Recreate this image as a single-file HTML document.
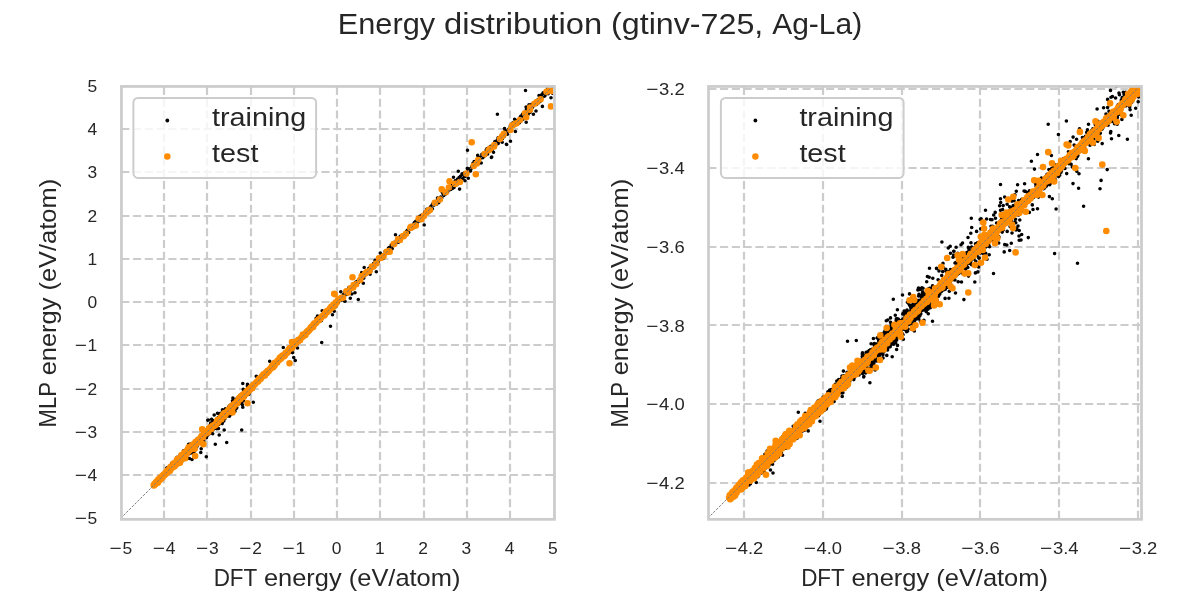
<!DOCTYPE html>
<html lang="en"><head><meta charset="utf-8"><title>Energy distribution (gtinv-725, Ag-La)</title>
<style>html,body{margin:0;padding:0;background:#fff;}body{width:1200px;height:600px;overflow:hidden;font-family:"Liberation Sans",sans-serif;}svg{display:block;will-change:transform;}</style>
</head><body>
<svg width="1200" height="600" viewBox="0 0 1200 600" font-family="Liberation Sans, sans-serif" fill="#262626">
<rect width="1200" height="600" fill="#ffffff"/>
<clipPath id="c1"><rect x="120.75" y="85.75" width="432.50" height="432.50"/></clipPath>
<g clip-path="url(#c1)">
<path d="M164 518.90V85.75M207 518.90V85.75M251 518.90V85.75M294 518.90V85.75M337 518.90V85.75M380 518.90V85.75M424 518.90V85.75M467 518.90V85.75M510 518.90V85.75M121.25 475H554.25M121.25 432H554.25M121.25 389H554.25M121.25 345H554.25M121.25 302H554.25M121.25 259H554.25M121.25 216H554.25M121.25 172H554.25M121.25 129H554.25" stroke="#cccccc" stroke-width="2.2" stroke-dasharray="8.1 3.675" fill="none"/>
<path d="M154.0 485.1h0M154.0 485.2h0M154.0 485.0h0M154.1 485.0h0M154.1 484.9h0M154.1 484.9h0M154.1 485.1h0M154.1 485.1h0M154.1 484.7h0M154.1 484.9h0M154.1 484.8h0M154.2 484.8h0M154.2 484.8h0M154.2 484.7h0M154.2 484.9h0M154.2 484.8h0M154.2 484.8h0M154.2 484.7h0M154.2 484.9h0M154.3 484.9h0M154.3 484.8h0M154.3 484.7h0M154.3 484.9h0M154.3 484.5h0M154.3 484.6h0M154.3 484.6h0M154.3 484.5h0M154.3 484.7h0M154.4 484.7h0M154.4 484.6h0M154.4 484.7h0M154.4 484.5h0M154.4 484.5h0M154.4 484.6h0M154.4 484.6h0M154.5 484.5h0M154.5 484.6h0M154.5 484.6h0M154.5 484.5h0M154.5 484.4h0M154.5 484.6h0M154.5 484.7h0M154.5 484.6h0M154.6 484.6h0M154.6 484.2h0M154.6 484.4h0M154.6 484.4h0M154.6 484.7h0M154.6 484.5h0M154.6 484.7h0M154.6 484.6h0M154.7 484.3h0M154.7 484.2h0M154.7 484.4h0M154.7 484.4h0M154.7 484.6h0M154.7 484.3h0M154.7 484.6h0M154.7 484.3h0M154.8 484.0h0M154.8 484.1h0M154.8 484.1h0M154.8 484.2h0M154.8 484.3h0M154.8 484.4h0M154.8 484.2h0M154.8 484.2h0M154.9 484.3h0M154.9 484.0h0M154.9 484.1h0M154.9 484.0h0M154.9 483.8h0M154.9 484.0h0M154.9 484.0h0M154.9 484.0h0M155.0 483.9h0M155.0 484.2h0M155.0 484.0h0M155.0 484.0h0M155.0 483.9h0M155.0 483.9h0M155.0 484.1h0M155.0 484.2h0M155.1 483.9h0M155.1 483.9h0M155.1 484.0h0M155.1 484.3h0M155.1 483.8h0M155.1 483.6h0M155.1 483.8h0M155.1 484.1h0M155.1 483.6h0M155.2 484.0h0M155.2 483.8h0M155.2 483.6h0M155.2 483.8h0M155.2 483.8h0M155.2 483.6h0M155.2 483.6h0M155.2 483.8h0M155.3 483.9h0M155.3 483.5h0M155.3 483.7h0M155.3 483.6h0M155.3 483.7h0M155.3 483.7h0M155.3 483.5h0M155.3 483.9h0M155.4 483.9h0M155.4 483.6h0M155.4 483.6h0M155.4 483.7h0M155.4 483.9h0M155.4 483.7h0M155.4 483.4h0M155.5 484.0h0M155.5 483.9h0M155.5 483.6h0M155.5 483.9h0M155.5 483.4h0M155.5 483.8h0M155.5 483.2h0M155.5 483.4h0M155.6 483.2h0M155.6 483.3h0M155.6 483.9h0M155.6 483.8h0M155.6 483.3h0M155.6 483.3h0M155.6 483.5h0M155.6 483.8h0M155.6 483.3h0M155.7 483.4h0M155.7 482.9h0M155.7 483.6h0M155.7 483.2h0M155.7 483.4h0M155.7 483.3h0M155.7 483.6h0M155.7 482.8h0M155.8 483.1h0M155.8 483.2h0M155.8 483.2h0M155.8 483.3h0M155.8 483.7h0M155.8 483.5h0M155.8 483.3h0M155.8 483.0h0M155.9 483.2h0M155.9 483.3h0M155.9 482.7h0M155.9 483.4h0M155.9 483.9h0M155.9 483.1h0M155.9 482.9h0M156.0 483.4h0M156.0 483.1h0M156.0 482.8h0M156.0 483.2h0M156.0 483.4h0M156.0 483.2h0M156.0 482.7h0M156.0 482.8h0M156.1 483.7h0M156.1 482.9h0M156.1 483.0h0M156.1 482.8h0M156.1 483.3h0M156.1 483.1h0M156.1 483.1h0M156.1 483.2h0M156.1 482.7h0M156.2 483.4h0M156.2 483.1h0M156.2 482.5h0M156.2 482.9h0M156.2 482.7h0M156.2 483.2h0M156.2 483.2h0M156.3 482.6h0M156.3 482.6h0M156.3 482.7h0M156.3 482.3h0M156.3 482.7h0M156.3 482.9h0M156.3 482.6h0M156.3 482.1h0M156.4 482.6h0M156.4 483.0h0M156.4 482.8h0M156.4 482.2h0M156.4 482.8h0M156.4 482.9h0M156.4 482.4h0M156.4 483.1h0M156.5 482.6h0M156.5 482.5h0M156.5 482.8h0M156.5 482.6h0M156.5 482.8h0M156.5 482.5h0M156.5 482.9h0M156.5 482.7h0M156.6 481.8h0M156.6 482.6h0M156.6 482.8h0M156.6 482.1h0M156.6 482.1h0M156.6 481.9h0M156.6 482.4h0M156.6 482.1h0M156.7 482.9h0M156.7 482.8h0M156.7 482.4h0M156.7 482.5h0M156.7 483.6h0M156.7 482.5h0M156.7 482.7h0M156.7 482.4h0M156.8 481.9h0M156.8 482.5h0M156.8 482.0h0M156.8 481.6h0M156.8 482.5h0M156.8 481.7h0M156.8 482.2h0M156.8 481.7h0M156.9 482.2h0M156.9 482.2h0M156.9 483.0h0M156.9 482.5h0M156.9 482.7h0M156.9 482.8h0M156.9 482.6h0M156.9 482.4h0M157.0 481.9h0M157.0 481.5h0M157.0 481.8h0M157.0 482.1h0M157.0 482.3h0M157.0 481.4h0M157.0 482.2h0M157.0 481.6h0M157.0 481.4h0M157.1 481.6h0M157.1 482.0h0M157.1 481.7h0M157.1 481.8h0M157.1 481.3h0M157.1 482.0h0M157.1 481.7h0M157.2 482.1h0M157.2 481.7h0M157.2 482.0h0M157.2 482.1h0M157.2 481.6h0M157.2 481.7h0M157.2 482.1h0M157.2 482.2h0M157.3 481.3h0M157.3 482.6h0M157.3 481.8h0M157.3 481.5h0M157.3 481.3h0M157.3 481.7h0M157.3 481.2h0M157.3 481.4h0M157.3 482.2h0M157.4 481.3h0M157.4 481.6h0M157.4 481.8h0M157.4 482.0h0M157.4 481.6h0M157.4 481.5h0M157.4 481.7h0M157.5 481.7h0M157.5 482.4h0M157.5 481.6h0M157.5 481.2h0M157.5 481.5h0M157.5 482.3h0M157.5 480.9h0M157.5 481.0h0M157.5 481.4h0M157.6 480.8h0M157.6 482.5h0M157.6 480.8h0M157.6 481.3h0M157.6 481.2h0M157.6 481.3h0M157.6 480.5h0M157.7 480.7h0M157.7 481.1h0M157.7 481.6h0M157.7 481.6h0M157.7 482.0h0M157.7 481.3h0M157.7 481.4h0M157.7 481.5h0M157.7 481.4h0M157.8 481.2h0M157.8 480.6h0M157.8 481.6h0M157.8 480.6h0M157.8 481.4h0M157.8 481.3h0M157.8 481.3h0M157.8 480.8h0M157.9 481.0h0M157.9 481.2h0M157.9 480.1h0M157.9 481.6h0M157.9 480.3h0M157.9 481.4h0M157.9 481.4h0M157.9 481.3h0M158.0 481.0h0M158.0 481.4h0M158.0 480.8h0M158.0 480.6h0M158.0 481.0h0M158.0 480.4h0M158.0 480.8h0M158.1 481.5h0M158.1 481.0h0M158.1 481.6h0M158.1 481.4h0M158.1 480.8h0M158.1 481.7h0M158.1 480.3h0M158.1 480.7h0M158.1 480.9h0M158.2 480.5h0M158.2 480.1h0M158.2 480.5h0M158.2 481.0h0M158.2 480.9h0M158.2 481.1h0M158.2 480.9h0M158.2 481.0h0M158.3 480.3h0M158.3 480.4h0M158.3 481.0h0M158.3 480.6h0M158.3 480.9h0M158.3 480.4h0M158.3 481.1h0M158.3 481.1h0M158.4 481.1h0M158.4 480.8h0M158.4 480.2h0M158.4 480.1h0M158.4 480.6h0M158.4 481.3h0M158.4 480.5h0M158.5 480.0h0M158.5 480.4h0M158.5 481.2h0M158.5 481.6h0M158.5 480.3h0M158.5 481.0h0M158.5 479.9h0M158.5 481.1h0M158.5 480.2h0M158.6 480.1h0M158.6 481.0h0M158.6 480.5h0M158.6 480.3h0M158.6 480.1h0M158.6 480.5h0M158.6 480.2h0M158.7 481.2h0M158.7 480.6h0M158.7 480.7h0M158.7 479.8h0M158.7 479.8h0M158.7 480.9h0M158.7 479.7h0M158.7 480.1h0M158.8 479.5h0M158.8 480.7h0M158.8 480.0h0M158.8 479.8h0M158.8 480.5h0M158.8 480.1h0M158.8 479.6h0M158.8 480.0h0M158.9 480.2h0M158.9 480.0h0M158.9 479.8h0M158.9 480.9h0M158.9 480.2h0M158.9 479.2h0M158.9 479.7h0M158.9 480.8h0M158.9 480.0h0M159.0 480.4h0M159.0 480.5h0M159.0 479.8h0M159.0 479.5h0M159.0 480.5h0M159.0 479.4h0M159.0 480.5h0M159.0 479.7h0M159.1 480.2h0M159.1 479.8h0M159.1 479.6h0M159.1 479.8h0M159.1 479.4h0M159.1 480.8h0M159.1 480.1h0M159.1 479.2h0M159.2 480.5h0M159.2 479.8h0M159.2 480.2h0M159.2 480.3h0M159.2 479.9h0M159.2 480.2h0M159.2 479.7h0M159.3 479.9h0M159.3 479.0h0M159.3 480.3h0M159.3 479.8h0M159.3 479.9h0M159.3 479.4h0M159.3 479.8h0M159.3 479.8h0M159.3 479.9h0M159.4 479.6h0M159.4 479.3h0M159.4 479.0h0M159.4 480.3h0M159.4 479.2h0M159.4 479.1h0M159.4 479.0h0M159.5 480.3h0M159.5 480.0h0M159.5 479.6h0M159.5 479.0h0M159.5 478.8h0M159.5 479.2h0M159.5 479.8h0M159.5 479.0h0M159.6 479.0h0M159.6 479.1h0M159.6 479.3h0M159.6 480.6h0M159.6 479.3h0M159.6 478.6h0M159.6 479.3h0M159.6 479.0h0M159.7 479.5h0M159.7 479.4h0M159.7 478.5h0M159.7 479.3h0M159.7 479.1h0M159.7 478.8h0M159.7 479.3h0M159.7 479.3h0M159.7 479.7h0M159.8 479.1h0M159.8 478.8h0M159.8 479.5h0M159.8 478.5h0M159.8 479.1h0M159.8 478.8h0M159.8 479.4h0M159.8 479.6h0M159.9 479.8h0M159.9 479.5h0M159.9 479.2h0M159.9 479.0h0M159.9 479.6h0M159.9 478.5h0M159.9 479.3h0M159.9 479.8h0M160.0 478.8h0M160.0 479.3h0M160.0 479.6h0M160.0 479.0h0M160.0 478.4h0M160.0 478.2h0M160.0 478.8h0M160.0 479.2h0M160.1 479.5h0M160.1 479.6h0M160.1 478.4h0M160.1 479.7h0M160.1 478.5h0M160.1 479.0h0M160.1 478.3h0M160.1 478.6h0M160.2 478.6h0M160.2 478.4h0M160.2 479.2h0M160.2 479.4h0M160.2 479.3h0M160.2 478.9h0M160.2 479.4h0M160.2 478.7h0M160.3 478.9h0M160.3 478.5h0M160.3 478.7h0M160.3 478.8h0M160.3 477.9h0M160.3 479.3h0M160.3 478.4h0M160.4 478.4h0M160.4 479.0h0M160.4 479.2h0M160.4 478.5h0M160.4 478.9h0M160.4 479.0h0M160.4 478.9h0M160.4 478.9h0M160.5 478.3h0M160.5 478.7h0M160.5 478.9h0M160.5 478.0h0M160.5 478.7h0M160.5 478.9h0M160.5 478.3h0M160.5 477.9h0M160.5 478.7h0M160.6 478.3h0M160.6 477.9h0M160.6 478.5h0M160.6 478.2h0M160.6 478.5h0M160.6 478.4h0M160.6 478.3h0M160.6 478.7h0M160.7 478.0h0M160.7 478.8h0M160.7 478.2h0M160.7 478.4h0M160.7 478.5h0M160.7 478.5h0M160.7 478.0h0M160.7 477.4h0M160.8 478.1h0M160.8 478.0h0M160.8 478.5h0M160.8 478.6h0M160.8 477.5h0M160.8 478.5h0M160.8 478.2h0M160.8 478.5h0M160.9 477.9h0M160.9 477.7h0M160.9 477.6h0M160.9 478.2h0M160.9 477.4h0M160.9 477.9h0M160.9 478.4h0M160.9 478.1h0M161.0 478.0h0M161.0 477.6h0M161.0 477.6h0M161.0 478.6h0M161.0 477.8h0M161.0 478.0h0M161.0 478.7h0M161.0 478.7h0M161.1 478.1h0M161.1 477.6h0M161.1 477.3h0M161.1 477.5h0M161.1 477.6h0M161.1 477.2h0M161.1 478.1h0M161.1 478.3h0M161.2 478.0h0M161.2 478.3h0M161.2 478.3h0M161.2 478.7h0M161.2 478.2h0M161.2 478.6h0M161.2 477.5h0M161.2 477.6h0M161.3 477.2h0M161.3 478.0h0M161.3 477.7h0M161.3 477.5h0M161.3 478.0h0M161.3 477.3h0M161.3 477.1h0M161.3 477.7h0M161.4 477.6h0M161.4 478.1h0M161.4 476.9h0M161.4 477.6h0M161.4 478.4h0M161.4 477.5h0M161.4 477.9h0M161.4 477.4h0M161.5 477.7h0M161.5 477.4h0M161.5 477.2h0M161.5 476.9h0M161.5 477.5h0M161.5 478.4h0M161.5 477.8h0M161.5 476.9h0M161.6 477.4h0M161.6 477.5h0M161.6 477.7h0M161.6 477.5h0M161.6 477.3h0M161.6 477.5h0M161.6 477.0h0M161.6 477.9h0M161.7 477.7h0M161.7 477.4h0M161.7 477.9h0M161.7 477.2h0M161.7 477.3h0M161.7 477.9h0M161.7 477.3h0M161.7 476.8h0M161.8 477.7h0M161.8 478.0h0M161.8 476.9h0M161.8 477.6h0M161.8 476.7h0M161.8 477.1h0M161.8 477.1h0M161.8 477.3h0M161.9 476.8h0M161.9 476.6h0M161.9 476.6h0M161.9 477.3h0M161.9 476.8h0M161.9 476.9h0M161.9 477.0h0M161.9 477.2h0M162.0 477.1h0M162.0 477.8h0M162.0 477.9h0M162.0 477.6h0M162.0 476.6h0M162.0 476.9h0M162.0 477.7h0M162.0 477.1h0M162.1 476.5h0M162.1 476.0h0M162.1 477.1h0M162.1 476.5h0M162.1 477.4h0M162.1 477.6h0M162.1 477.2h0M162.2 477.5h0M162.2 476.2h0M162.2 477.3h0M162.2 476.5h0M162.2 476.5h0M162.2 476.7h0M162.2 476.9h0M162.2 477.4h0M162.2 476.6h0M162.3 477.1h0M162.3 476.8h0M162.3 477.4h0M162.3 476.7h0M162.3 476.8h0M162.3 476.8h0M162.3 476.4h0M162.3 476.3h0M162.4 476.7h0M162.4 476.3h0M162.4 476.9h0M162.4 477.9h0M162.4 476.7h0M162.4 476.4h0M162.4 476.7h0M162.4 477.3h0M162.5 476.2h0M162.5 476.4h0M162.5 476.8h0M162.5 476.4h0M162.5 476.8h0M162.5 477.0h0M162.5 477.0h0M162.5 475.7h0M162.6 476.6h0M162.6 476.4h0M162.6 476.2h0M162.6 475.6h0M162.6 477.0h0M162.6 476.8h0M162.6 476.1h0M162.6 476.2h0M162.7 475.9h0M162.7 476.8h0M162.7 476.4h0M162.7 476.6h0M162.7 476.8h0M162.7 476.4h0M162.7 475.8h0M162.7 476.2h0M162.8 476.2h0M162.8 475.9h0M162.8 476.0h0M162.8 476.5h0M162.8 476.1h0M162.8 476.5h0M162.8 475.5h0M162.8 476.3h0M162.9 475.5h0M162.9 476.4h0M162.9 475.8h0M162.9 477.0h0M162.9 475.8h0M162.9 476.6h0M162.9 476.4h0M162.9 475.5h0M163.0 475.6h0M163.0 476.0h0M163.0 476.2h0M163.0 475.7h0M163.0 475.5h0M163.0 476.4h0M163.0 475.4h0M163.0 475.5h0M163.1 475.7h0M163.1 476.4h0M163.1 476.3h0M163.1 476.3h0M163.1 475.9h0M163.1 476.5h0M163.1 475.9h0M163.1 476.4h0M163.2 475.6h0M163.2 475.8h0M163.2 475.7h0M163.2 475.6h0M163.2 475.4h0M163.2 475.8h0M163.2 476.0h0M163.2 476.0h0M163.3 475.7h0M163.3 476.3h0M163.3 475.2h0M163.3 475.2h0M163.3 476.3h0M163.3 475.9h0M163.3 476.1h0M163.3 475.6h0M163.4 475.9h0M163.4 475.3h0M163.4 475.9h0M163.4 474.8h0M163.4 476.1h0M163.4 475.8h0M163.4 475.2h0M163.4 475.5h0M163.5 474.9h0M163.5 475.1h0M163.5 476.0h0M163.5 474.7h0M163.5 475.4h0M163.5 475.5h0M163.5 475.2h0M163.5 476.3h0M163.6 475.5h0M163.6 475.7h0M163.6 475.7h0M163.6 475.1h0M163.6 474.7h0M163.6 476.1h0M163.6 474.8h0M163.6 475.7h0M163.7 475.6h0M163.7 475.5h0M163.7 474.6h0M163.7 476.9h0M163.7 475.2h0M163.7 475.6h0M163.7 475.8h0M163.7 475.9h0M163.8 475.1h0M163.8 475.4h0M163.8 475.0h0M163.8 474.8h0M163.8 475.8h0M163.8 475.3h0M163.8 475.0h0M163.8 475.2h0M163.9 474.8h0M163.9 475.2h0M163.9 475.2h0M163.9 475.4h0M163.9 474.5h0M163.9 475.4h0M163.9 475.8h0M163.9 475.2h0M164.0 475.5h0M164.0 475.4h0M164.0 475.3h0M164.0 474.7h0M164.0 475.2h0M164.0 475.2h0M164.0 474.2h0M164.0 474.9h0M164.1 475.3h0M164.1 475.0h0M164.1 475.4h0M164.1 474.9h0M164.1 474.6h0M164.1 475.7h0M164.2 475.6h0M164.2 475.0h0M164.2 474.2h0M164.2 475.3h0M164.2 474.3h0M164.2 475.4h0M164.2 474.5h0M164.3 475.0h0M164.3 475.1h0M164.3 475.6h0M164.3 474.4h0M164.3 474.8h0M164.3 474.9h0M164.3 474.7h0M164.4 475.6h0M164.4 474.4h0M164.4 475.0h0M164.4 475.5h0M164.4 474.5h0M164.4 475.4h0M164.4 474.7h0M164.5 474.3h0M164.5 474.4h0M164.5 475.2h0M164.5 474.9h0M164.5 474.2h0M164.5 474.2h0M164.5 474.6h0M164.6 473.7h0M164.6 474.0h0M164.6 474.0h0M164.6 474.5h0M164.6 473.7h0M164.6 474.2h0M164.6 474.1h0M164.7 474.2h0M164.7 474.2h0M164.7 474.3h0M164.7 474.8h0M164.7 474.7h0M164.7 474.7h0M164.7 473.9h0M164.8 473.5h0M164.8 474.1h0M164.8 473.9h0M164.8 473.9h0M164.8 474.2h0M164.8 474.3h0M164.8 474.0h0M164.9 473.9h0M164.9 474.6h0M164.9 474.2h0M164.9 474.5h0M164.9 474.7h0M164.9 474.3h0M164.9 473.4h0M165.0 473.7h0M165.0 474.0h0M165.0 474.1h0M165.0 474.0h0M165.0 474.1h0M165.0 474.3h0M165.1 474.2h0M165.1 474.6h0M165.1 473.8h0M165.1 473.8h0M165.1 473.9h0M165.1 474.0h0M165.1 473.4h0M165.1 474.3h0M165.2 473.7h0M165.2 474.3h0M165.2 473.7h0M165.2 473.9h0M165.2 473.4h0M165.2 474.7h0M165.2 474.2h0M165.3 473.6h0M165.3 474.0h0M165.3 473.5h0M165.3 473.9h0M165.3 474.2h0M165.3 474.0h0M165.3 473.6h0M165.4 473.5h0M165.4 472.8h0M165.4 473.7h0M165.4 473.1h0M165.4 472.9h0M165.4 473.3h0M165.5 473.9h0M165.5 473.5h0M165.5 474.1h0M165.5 473.0h0M165.5 474.3h0M165.5 473.5h0M165.5 472.4h0M165.5 474.0h0M165.6 473.2h0M165.6 473.0h0M165.6 473.6h0M165.6 473.2h0M165.6 473.8h0M165.6 473.9h0M165.7 473.0h0M165.7 473.7h0M165.7 473.1h0M165.7 472.9h0M165.7 473.6h0M165.7 473.5h0M165.7 473.7h0M165.7 472.3h0M165.8 473.6h0M165.8 473.7h0M165.8 473.2h0M165.8 473.6h0M165.8 473.4h0M165.8 473.2h0M165.9 472.7h0M165.9 473.4h0M165.9 473.1h0M165.9 473.0h0M165.9 472.8h0M165.9 473.1h0M165.9 473.7h0M166.0 473.1h0M166.0 473.7h0M166.0 472.6h0M166.0 473.7h0M166.0 473.5h0M166.0 472.7h0M166.0 472.8h0M166.1 472.2h0M166.1 473.6h0M166.1 472.7h0M166.1 472.5h0M166.1 471.9h0M166.1 474.1h0M166.1 472.7h0M166.2 472.3h0M166.2 472.5h0M166.2 472.2h0M166.2 473.7h0M166.2 472.9h0M166.2 473.0h0M166.2 472.8h0M166.3 472.8h0M166.3 471.4h0M166.3 472.6h0M166.3 471.9h0M166.3 472.8h0M166.3 472.4h0M166.3 473.3h0M166.4 472.9h0M166.4 472.9h0M166.4 472.6h0M166.4 472.5h0M166.4 472.6h0M166.4 473.1h0M166.4 472.0h0M166.5 473.0h0M166.5 472.3h0M166.5 472.2h0M166.5 472.0h0M166.5 472.3h0M166.5 473.0h0M166.5 473.2h0M166.6 472.3h0M166.6 472.4h0M166.6 472.5h0M166.6 472.7h0M166.6 472.6h0M166.6 472.6h0M166.6 472.6h0M166.7 471.5h0M166.7 472.8h0M166.7 473.1h0M166.7 472.5h0M166.7 472.3h0M166.7 471.9h0M166.8 472.4h0M166.8 472.4h0M166.8 472.1h0M166.8 472.4h0M166.8 472.6h0M166.8 472.7h0M166.8 472.5h0M166.9 471.7h0M166.9 472.5h0M166.9 472.9h0M166.9 472.1h0M166.9 472.1h0M166.9 471.9h0M166.9 471.6h0M166.9 472.5h0M167.0 472.1h0M167.0 471.7h0M167.0 471.6h0M167.0 472.1h0M167.0 472.1h0M167.0 472.3h0M167.1 471.8h0M167.1 471.0h0M167.1 471.8h0M167.1 471.7h0M167.1 471.1h0M167.1 472.0h0M167.1 471.6h0M167.1 471.7h0M167.2 472.1h0M167.2 471.3h0M167.2 471.7h0M167.2 471.7h0M167.2 471.2h0M167.2 471.9h0M167.3 471.8h0M167.3 471.6h0M167.3 471.0h0M167.3 471.3h0M167.3 471.6h0M167.3 471.4h0M167.3 470.7h0M167.3 472.0h0M167.4 472.2h0M167.4 472.0h0M167.4 472.3h0M167.4 471.8h0M167.4 471.4h0M167.4 471.4h0M167.5 471.7h0M167.5 471.0h0M167.5 471.5h0M167.5 472.0h0M167.5 471.7h0M167.5 471.6h0M167.5 470.7h0M167.6 471.7h0M167.6 470.8h0M167.6 471.5h0M167.6 471.7h0M167.6 470.9h0M167.6 471.6h0M167.6 471.5h0M167.7 471.6h0M167.7 470.9h0M167.7 471.1h0M167.7 471.1h0M167.7 471.6h0M167.7 471.4h0M167.7 471.7h0M167.7 471.3h0M167.8 471.3h0M167.8 471.4h0M167.8 470.5h0M167.8 471.4h0M167.8 470.8h0M167.8 471.1h0M167.9 470.9h0M167.9 471.4h0M167.9 471.3h0M167.9 470.7h0M167.9 471.3h0M167.9 470.9h0M167.9 471.0h0M168.0 471.0h0M168.0 471.8h0M168.0 471.0h0M168.0 471.3h0M168.0 470.8h0M168.0 470.8h0M168.0 471.1h0M168.1 470.5h0M168.1 470.8h0M168.1 471.6h0M168.1 470.3h0M168.1 471.5h0M168.1 471.5h0M168.1 471.5h0M168.2 470.2h0M168.2 471.3h0M168.2 470.7h0M168.2 470.7h0M168.2 470.4h0M168.2 471.0h0M168.2 470.5h0M168.3 470.5h0M168.3 470.8h0M168.3 470.2h0M168.3 470.5h0M168.3 471.4h0M168.3 469.8h0M168.3 469.5h0M168.3 469.7h0M168.4 469.4h0M168.4 471.6h0M168.4 471.4h0M168.4 470.7h0M168.4 470.5h0M168.4 469.5h0M168.4 470.9h0M168.4 469.8h0M168.4 470.4h0M168.4 470.6h0M168.5 470.2h0M168.5 470.5h0M168.5 470.7h0M168.5 472.0h0M168.5 471.0h0M168.5 469.8h0M168.5 472.0h0M168.5 469.8h0M168.5 470.5h0M168.5 471.2h0M168.6 471.4h0M168.6 470.7h0M168.6 470.3h0M168.6 470.0h0M168.6 470.2h0M168.6 470.4h0M168.6 470.5h0M168.6 470.2h0M168.6 470.5h0M168.6 470.7h0M168.6 470.7h0M168.7 470.5h0M168.7 470.3h0M168.7 470.7h0M168.7 470.6h0M168.7 471.6h0M168.7 470.3h0M168.7 470.0h0M168.7 470.5h0M168.7 470.4h0M168.7 470.9h0M168.8 469.3h0M168.8 470.9h0M168.8 470.6h0M168.8 470.7h0M168.8 469.5h0M168.8 471.1h0M168.8 470.2h0M168.8 470.6h0M168.8 470.0h0M168.8 469.7h0M168.9 470.2h0M168.9 470.6h0M168.9 469.9h0M168.9 470.3h0M168.9 470.4h0M168.9 471.3h0M168.9 470.1h0M168.9 471.3h0M168.9 471.2h0M168.9 470.3h0M169.0 469.3h0M169.0 471.1h0M169.0 470.2h0M169.0 469.5h0M169.0 469.4h0M169.0 469.7h0M169.0 469.6h0M169.0 471.1h0M169.0 469.2h0M169.0 470.0h0M169.1 469.6h0M169.1 469.9h0M169.1 469.6h0M169.1 470.3h0M169.1 469.3h0M169.1 469.1h0M169.1 470.0h0M169.1 469.2h0M169.1 469.6h0M169.1 470.2h0M169.1 469.4h0M169.2 469.4h0M169.2 470.1h0M169.2 472.7h0M169.2 470.1h0M169.2 470.6h0M169.2 469.8h0M169.2 471.0h0M169.2 469.0h0M169.2 470.2h0M169.2 470.6h0M169.3 469.5h0M169.3 470.5h0M169.3 469.9h0M169.3 470.3h0M169.3 469.8h0M169.3 468.4h0M169.3 469.7h0M169.3 470.0h0M169.3 470.2h0M169.3 470.7h0M169.4 469.4h0M169.4 470.3h0M169.4 469.4h0M169.4 470.9h0M169.4 470.0h0M169.4 469.8h0M169.4 469.6h0M169.4 470.3h0M169.4 469.5h0M169.4 469.9h0M169.5 469.0h0M169.5 470.9h0M169.5 470.5h0M169.5 469.2h0M169.5 469.9h0M169.5 470.4h0M169.5 469.2h0M169.5 469.2h0M169.5 469.8h0M169.5 470.0h0M169.5 467.8h0M169.6 469.7h0M169.6 469.5h0M169.6 469.4h0M169.6 470.6h0M169.6 470.6h0M169.6 470.4h0M169.6 469.9h0M169.6 469.4h0M169.6 468.5h0M169.6 469.2h0M169.7 468.3h0M169.7 469.7h0M169.7 469.2h0M169.7 469.4h0M169.7 470.0h0M169.7 469.9h0M169.7 469.4h0M169.7 469.0h0M169.7 468.9h0M169.7 471.2h0M169.7 469.4h0M169.8 468.5h0M169.8 470.2h0M169.8 469.0h0M169.8 469.3h0M169.8 468.5h0M169.8 469.9h0M169.8 469.2h0M169.8 469.1h0M169.8 468.7h0M169.9 469.3h0M169.9 469.4h0M169.9 468.9h0M169.9 470.2h0M169.9 468.4h0M169.9 469.2h0M169.9 469.0h0M169.9 470.2h0M169.9 470.3h0M169.9 469.6h0M169.9 468.4h0M170.0 467.7h0M170.0 468.4h0M170.0 469.1h0M170.0 470.1h0M170.0 468.5h0M170.0 469.4h0M170.0 469.1h0M170.0 468.8h0M170.0 469.1h0M170.0 467.7h0M170.1 469.0h0M170.1 468.8h0M170.1 468.5h0M170.1 468.7h0M170.1 469.4h0M170.1 469.1h0M170.1 468.8h0M170.1 469.7h0M170.1 469.3h0M170.1 468.0h0M170.1 468.6h0M170.2 468.1h0M170.2 468.7h0M170.2 469.3h0M170.2 469.0h0M170.2 468.8h0M170.2 470.2h0M170.2 469.5h0M170.2 469.6h0M170.2 469.4h0M170.2 468.3h0M170.3 467.9h0M170.3 468.5h0M170.3 469.0h0M170.3 468.6h0M170.3 469.1h0M170.3 468.4h0M170.3 468.0h0M170.3 468.8h0M170.3 468.2h0M170.3 468.8h0M170.4 470.0h0M170.4 468.2h0M170.4 468.5h0M170.4 468.0h0M170.4 468.7h0M170.4 468.1h0M170.4 469.4h0M170.4 467.8h0M170.4 469.3h0M170.4 469.0h0M170.5 468.8h0M170.5 468.9h0M170.5 468.9h0M170.5 468.8h0M170.5 468.7h0M170.5 467.3h0M170.5 469.1h0M170.5 468.6h0M170.5 468.0h0M170.5 467.7h0M170.5 468.8h0M170.6 467.3h0M170.6 469.1h0M170.6 468.0h0M170.6 468.2h0M170.6 469.6h0M170.6 469.5h0M170.6 469.9h0M170.6 467.8h0M170.6 468.7h0M170.6 467.7h0M170.7 468.8h0M170.7 467.9h0M170.7 468.3h0M170.7 468.3h0M170.7 467.6h0M170.7 467.4h0M170.7 468.6h0M170.7 468.1h0M170.7 468.8h0M170.7 469.2h0M170.8 467.9h0M170.8 467.1h0M170.8 467.9h0M170.8 468.6h0M170.8 469.1h0M170.8 468.1h0M170.8 467.6h0M170.8 468.3h0M170.8 468.6h0M170.8 467.0h0M170.9 467.9h0M170.9 467.8h0M170.9 467.1h0M170.9 468.2h0M170.9 467.3h0M170.9 468.1h0M170.9 468.4h0M170.9 468.9h0M170.9 467.3h0M170.9 466.9h0M170.9 467.3h0M171.0 467.8h0M171.0 465.8h0M171.0 467.6h0M171.0 468.6h0M171.0 469.0h0M171.0 467.2h0M171.0 467.4h0M171.0 469.6h0M171.0 468.2h0M171.0 468.6h0M171.1 468.3h0M171.1 467.9h0M171.1 466.9h0M171.1 467.7h0M171.1 467.1h0M171.1 468.8h0M171.1 469.0h0M171.1 465.8h0M171.1 467.4h0M171.1 466.7h0M171.1 468.2h0M171.2 467.7h0M171.2 468.8h0M171.2 467.2h0M171.2 467.4h0M171.2 466.7h0M171.2 467.5h0M171.2 468.6h0M171.2 468.2h0M171.2 468.4h0M171.2 468.4h0M171.3 466.7h0M171.3 467.2h0M171.3 468.4h0M171.3 468.0h0M171.3 468.0h0M171.3 466.9h0M171.3 468.2h0M171.3 467.7h0M171.3 468.3h0M171.3 467.5h0M171.4 467.2h0M171.4 468.5h0M171.4 468.2h0M171.4 466.6h0M171.4 468.7h0M171.4 468.6h0M171.4 467.3h0M171.4 467.5h0M171.4 465.5h0M171.4 466.0h0M171.5 467.8h0M171.5 466.8h0M171.5 467.9h0M171.5 468.5h0M171.5 467.7h0M171.5 468.2h0M171.5 466.3h0M171.5 466.3h0M171.5 467.7h0M171.5 467.5h0M171.5 467.2h0M171.6 467.8h0M171.6 467.3h0M171.6 467.9h0M171.6 467.8h0M171.6 466.4h0M171.6 467.3h0M171.6 469.8h0M171.6 467.3h0M171.6 467.5h0M171.6 466.7h0M171.7 467.6h0M171.7 468.2h0M171.7 468.0h0M171.7 467.3h0M171.7 467.7h0M171.7 467.0h0M171.7 466.9h0M171.7 467.5h0M171.7 466.7h0M171.7 466.9h0M171.8 467.0h0M171.8 467.0h0M171.8 467.1h0M171.8 468.4h0M171.8 467.6h0M171.8 466.9h0M171.8 466.8h0M171.8 467.0h0M171.8 467.1h0M171.8 468.0h0M171.9 467.0h0M171.9 467.5h0M171.9 466.5h0M171.9 466.8h0M171.9 466.7h0M171.9 466.9h0M171.9 466.8h0M171.9 467.5h0M171.9 466.4h0M171.9 466.6h0M172.0 465.2h0M172.0 468.1h0M172.0 467.3h0M172.0 467.4h0M172.0 467.9h0M172.0 468.3h0M172.0 468.0h0M172.0 467.7h0M172.0 467.1h0M172.0 468.0h0M172.0 467.1h0M172.1 467.8h0M172.1 465.8h0M172.1 465.6h0M172.1 467.5h0M172.1 466.6h0M172.1 469.0h0M172.1 468.0h0M172.1 467.0h0M172.1 465.8h0M172.1 466.8h0M172.2 466.6h0M172.2 467.3h0M172.2 467.5h0M172.2 467.7h0M172.2 464.6h0M172.2 468.5h0M172.2 466.6h0M172.2 466.1h0M172.2 466.6h0M172.2 465.6h0M172.3 466.3h0M172.3 467.6h0M172.3 466.7h0M172.3 466.8h0M172.3 465.7h0M172.3 466.7h0M172.3 466.5h0M172.3 466.8h0M172.3 466.8h0M172.3 466.3h0M172.3 467.5h0M172.4 466.1h0M172.4 467.1h0M172.4 466.5h0M172.4 467.6h0M172.4 467.4h0M172.4 466.2h0M172.4 467.1h0M172.4 467.0h0M172.4 466.2h0M172.4 466.6h0M172.5 466.4h0M172.5 466.8h0M172.5 467.0h0M172.5 466.6h0M172.5 466.4h0M172.5 467.0h0M172.5 466.5h0M172.5 467.6h0M172.5 466.4h0M172.5 467.1h0M172.6 466.6h0M172.6 466.0h0M172.6 466.2h0M172.6 467.0h0M172.6 465.8h0M172.6 467.2h0M172.6 465.9h0M172.6 465.9h0M172.6 466.0h0M172.6 466.3h0M172.6 466.2h0M172.7 466.3h0M172.7 466.8h0M172.7 467.5h0M172.7 466.7h0M172.7 467.4h0M172.7 466.3h0M172.7 467.3h0M172.7 466.1h0M172.7 466.0h0M172.8 466.5h0M172.8 466.3h0M172.8 465.7h0M172.8 465.1h0M172.8 466.6h0M172.8 465.6h0M172.8 467.4h0M172.8 465.6h0M172.8 465.1h0M172.8 466.0h0M172.8 467.9h0M172.9 465.0h0M172.9 465.8h0M172.9 465.7h0M172.9 465.0h0M172.9 466.0h0M172.9 466.2h0M172.9 466.6h0M172.9 466.3h0M172.9 464.8h0M172.9 465.9h0M173.0 466.3h0M173.0 466.8h0M173.0 466.8h0M173.0 465.7h0M173.0 465.0h0M173.0 466.0h0M173.0 466.5h0M173.0 465.7h0M173.0 465.4h0M173.0 465.9h0M173.0 466.1h0M173.1 465.2h0M173.1 465.6h0M173.1 466.1h0M173.1 466.0h0M173.1 465.6h0M173.1 465.8h0M173.1 465.5h0M173.1 465.7h0M173.1 464.9h0M173.2 466.5h0M173.2 466.0h0M173.2 465.6h0M173.2 465.3h0M173.2 464.8h0M173.2 467.0h0M173.2 465.6h0M173.2 466.8h0M173.2 465.5h0M173.2 466.7h0M173.2 464.7h0M173.2 466.9h0M173.3 465.1h0M173.3 465.6h0M173.3 466.3h0M173.3 463.8h0M173.3 465.9h0M173.3 467.0h0M173.3 466.7h0M173.3 464.9h0M173.3 465.7h0M173.4 464.8h0M173.4 465.6h0M173.4 465.7h0M173.4 466.3h0M173.4 465.8h0M173.4 465.6h0M173.4 464.9h0M173.4 465.2h0M173.4 463.9h0M173.4 465.5h0M173.4 465.5h0M173.5 466.0h0M173.5 465.5h0M173.5 465.8h0M173.5 466.1h0M173.5 465.3h0M173.5 465.2h0M173.5 462.9h0M173.5 464.1h0M173.5 465.4h0M173.5 464.9h0M173.6 466.2h0M173.6 465.4h0M173.6 465.2h0M173.6 465.5h0M173.6 465.6h0M173.6 465.4h0M173.6 465.8h0M173.6 465.4h0M173.6 464.3h0M173.6 465.5h0M173.7 465.1h0M173.7 465.1h0M173.7 464.6h0M173.7 465.7h0M173.7 465.0h0M173.7 466.7h0M173.7 464.2h0M173.7 465.6h0M173.7 465.4h0M173.7 466.1h0M173.7 465.6h0M173.8 465.3h0M173.8 464.5h0M173.8 465.0h0M173.8 465.2h0M173.8 465.1h0M173.8 465.4h0M173.8 463.4h0M173.8 465.3h0M173.8 465.7h0M173.8 464.4h0M173.9 464.1h0M173.9 465.5h0M173.9 465.5h0M173.9 464.7h0M173.9 465.2h0M173.9 464.8h0M173.9 464.8h0M173.9 463.9h0M173.9 465.0h0M173.9 464.2h0M174.0 465.0h0M174.0 466.3h0M174.0 464.5h0M174.0 464.3h0M174.0 465.2h0M174.0 465.5h0M174.0 466.0h0M174.0 465.8h0M174.0 465.9h0M174.0 467.0h0M174.0 465.8h0M174.1 465.1h0M174.1 465.3h0M174.1 465.1h0M174.1 465.4h0M174.1 464.3h0M174.1 465.7h0M174.1 464.9h0M174.1 463.9h0M174.1 465.8h0M174.1 463.9h0M174.2 464.9h0M174.2 464.5h0M174.2 464.9h0M174.2 464.4h0M174.2 463.6h0M174.2 464.5h0M174.2 465.2h0M174.2 465.3h0M174.2 465.3h0M174.2 463.7h0M174.3 465.0h0M174.3 464.0h0M174.3 464.1h0M174.3 465.0h0M174.3 464.0h0M174.3 465.4h0M174.3 464.5h0M174.3 464.0h0M174.3 464.7h0M174.3 463.7h0M174.4 465.1h0M174.4 464.7h0M174.4 465.6h0M174.4 464.1h0M174.4 465.5h0M174.4 463.6h0M174.4 463.9h0M174.4 464.4h0M174.4 464.7h0M174.4 462.5h0M174.5 464.4h0M174.5 465.3h0M174.5 465.6h0M174.5 464.2h0M174.5 464.7h0M174.5 463.6h0M174.5 462.3h0M174.5 465.6h0M174.5 463.1h0M174.5 465.4h0M174.5 464.4h0M174.6 465.5h0M174.6 463.0h0M174.6 465.0h0M174.6 464.7h0M174.6 464.8h0M174.6 464.7h0M174.6 464.0h0M174.6 463.6h0M174.6 465.0h0M174.6 463.6h0M174.7 462.4h0M174.7 465.3h0M174.7 464.3h0M174.7 465.0h0M174.7 462.4h0M174.7 465.1h0M174.7 464.3h0M174.7 465.9h0M174.7 464.6h0M174.7 463.1h0M174.8 464.1h0M174.8 465.1h0M174.8 464.0h0M174.8 464.6h0M174.8 464.4h0M174.8 464.5h0M174.8 464.5h0M174.8 464.2h0M174.8 464.5h0M174.8 463.2h0M174.8 463.1h0M174.9 463.2h0M174.9 463.5h0M174.9 462.2h0M174.9 463.6h0M174.9 464.7h0M174.9 464.6h0M174.9 464.1h0M174.9 464.1h0M174.9 464.0h0M174.9 462.8h0M175.0 463.3h0M175.0 464.3h0M175.0 462.6h0M175.0 462.9h0M175.0 464.6h0M175.0 462.3h0M175.0 464.4h0M175.0 464.3h0M175.0 463.5h0M175.0 463.6h0M175.1 464.5h0M175.1 463.6h0M175.1 464.5h0M175.1 464.5h0M175.1 465.8h0M175.1 465.8h0M175.1 464.6h0M175.1 463.8h0M175.1 463.1h0M175.1 463.2h0M175.2 464.6h0M175.2 463.5h0M175.2 463.0h0M175.2 464.2h0M175.2 463.4h0M175.2 464.4h0M175.2 464.2h0M175.2 464.7h0M175.2 464.1h0M175.2 462.9h0M175.2 463.1h0M175.3 464.0h0M175.3 464.1h0M175.3 463.1h0M175.3 464.3h0M175.3 463.2h0M175.3 464.6h0M175.3 463.3h0M175.3 463.4h0M175.3 463.6h0M175.3 463.0h0M175.4 464.8h0M175.4 463.4h0M175.4 463.9h0M175.4 463.9h0M175.4 463.9h0M175.4 464.0h0M175.4 463.3h0M175.4 462.9h0M175.4 463.6h0M175.4 463.1h0M175.5 462.6h0M175.5 464.3h0M175.5 463.0h0M175.5 461.0h0M175.5 462.8h0M175.5 463.9h0M175.5 463.5h0M175.5 463.2h0M175.5 464.4h0M175.5 463.1h0M175.5 463.8h0M175.6 464.6h0M175.6 464.3h0M175.6 465.1h0M175.6 463.9h0M175.6 463.6h0M175.6 463.6h0M175.6 462.3h0M175.6 464.1h0M175.6 463.4h0M175.6 463.7h0M175.7 463.1h0M175.7 462.6h0M175.7 463.2h0M175.7 461.1h0M175.7 463.3h0M175.7 464.4h0M175.7 463.5h0M175.7 462.3h0M175.7 462.9h0M175.7 463.1h0M175.8 463.4h0M175.8 463.7h0M175.8 463.6h0M175.8 462.8h0M175.8 464.4h0M175.8 463.6h0M175.8 463.3h0M175.8 462.5h0M175.8 463.6h0M175.8 463.6h0M175.8 462.9h0M175.9 463.5h0M175.9 462.8h0M175.9 462.6h0M175.9 463.4h0M175.9 462.4h0M175.9 462.9h0M175.9 462.7h0M175.9 462.9h0M175.9 462.6h0M175.9 464.1h0M176.0 463.2h0M176.0 462.3h0M176.0 462.9h0M176.0 463.5h0M176.0 463.3h0M176.0 462.2h0M176.0 462.7h0M176.0 463.4h0M176.0 465.9h0M176.0 463.1h0M176.1 462.0h0M176.1 463.2h0M176.1 461.2h0M176.1 462.5h0M176.1 463.2h0M176.1 462.4h0M176.1 462.7h0M176.1 463.3h0M176.2 462.3h0M176.2 462.6h0M176.2 463.0h0M176.3 462.4h0M176.3 462.3h0M176.3 463.4h0M176.4 462.3h0M176.4 462.9h0M176.4 463.7h0M176.4 462.6h0M176.5 463.5h0M176.5 460.1h0M176.5 462.3h0M176.5 462.8h0M176.5 463.6h0M176.6 462.8h0M176.6 463.1h0M176.6 462.8h0M176.7 461.3h0M176.7 463.2h0M176.7 462.9h0M176.8 460.4h0M176.8 462.2h0M176.8 461.9h0M176.8 462.9h0M176.9 459.9h0M176.9 462.6h0M176.9 461.7h0M176.9 462.5h0M177.0 461.5h0M177.0 462.7h0M177.0 461.6h0M177.1 460.9h0M177.1 457.2h0M177.1 461.7h0M177.1 461.3h0M177.2 460.4h0M177.2 459.5h0M177.2 460.0h0M177.2 462.5h0M177.3 461.8h0M177.3 462.3h0M177.3 462.1h0M177.3 461.4h0M177.4 461.6h0M177.4 462.2h0M177.4 463.4h0M177.4 462.4h0M177.5 461.8h0M177.5 460.2h0M177.5 460.4h0M177.6 461.4h0M177.6 460.9h0M177.6 461.8h0M177.6 460.5h0M177.7 460.8h0M177.7 462.2h0M177.7 462.1h0M177.8 461.0h0M177.8 460.6h0M177.8 460.9h0M177.8 463.4h0M177.9 460.4h0M177.9 462.6h0M177.9 460.5h0M177.9 461.6h0M178.0 461.8h0M178.0 457.7h0M178.0 460.2h0M178.1 460.3h0M178.1 461.2h0M178.1 461.1h0M178.1 461.1h0M178.2 461.1h0M178.2 461.0h0M178.2 461.3h0M178.2 460.8h0M178.3 461.1h0M178.3 460.6h0M178.3 460.6h0M178.3 460.3h0M178.4 458.6h0M178.4 460.4h0M178.4 460.5h0M178.5 461.0h0M178.5 461.4h0M178.5 459.5h0M178.6 460.9h0M178.6 462.8h0M178.6 459.5h0M178.6 457.8h0M178.7 460.7h0M178.7 459.5h0M178.7 459.8h0M178.7 460.8h0M178.8 459.9h0M178.8 459.5h0M178.8 458.4h0M178.8 459.8h0M178.9 461.6h0M178.9 459.5h0M178.9 460.4h0M179.0 460.6h0M179.0 459.8h0M179.0 459.2h0M179.0 460.1h0M179.1 459.2h0M179.1 459.8h0M179.1 459.2h0M179.1 459.7h0M179.2 457.5h0M179.2 460.2h0M179.2 461.6h0M179.3 459.2h0M179.3 459.4h0M179.3 459.9h0M179.3 457.3h0M179.3 460.6h0M179.4 459.3h0M179.4 459.0h0M179.4 459.6h0M179.5 458.9h0M179.5 463.5h0M179.5 459.6h0M179.5 459.9h0M179.6 459.0h0M179.6 459.2h0M179.6 459.5h0M179.7 459.7h0M179.7 460.2h0M179.7 458.6h0M179.7 459.6h0M179.8 459.4h0M179.8 458.3h0M179.8 459.7h0M179.9 459.4h0M179.9 459.4h0M179.9 460.0h0M179.9 458.8h0M180.0 457.8h0M180.0 460.9h0M180.0 459.2h0M180.0 458.1h0M180.1 458.0h0M180.1 459.5h0M180.1 459.0h0M180.1 458.7h0M180.2 458.6h0M180.2 459.0h0M180.2 458.7h0M180.2 459.4h0M180.3 457.3h0M180.3 459.7h0M180.3 457.8h0M180.4 458.6h0M180.4 458.3h0M180.4 459.1h0M180.4 458.2h0M180.5 459.0h0M180.5 457.9h0M180.5 458.5h0M180.6 458.8h0M180.6 459.0h0M180.6 458.5h0M180.6 458.7h0M180.7 458.1h0M180.7 461.6h0M180.7 459.7h0M180.8 460.6h0M180.8 457.4h0M180.8 459.3h0M180.8 457.8h0M180.9 457.6h0M180.9 456.0h0M180.9 458.1h0M180.9 458.7h0M181.0 457.3h0M181.0 457.9h0M181.0 458.1h0M181.0 460.5h0M181.1 458.3h0M181.1 459.9h0M181.1 459.0h0M181.2 458.3h0M181.2 459.0h0M181.2 457.8h0M181.2 457.5h0M181.3 454.7h0M181.3 458.1h0M181.3 458.4h0M181.3 455.7h0M181.4 454.6h0M181.4 457.9h0M181.4 457.2h0M181.5 456.8h0M181.5 457.2h0M181.5 456.8h0M181.5 458.4h0M181.6 455.8h0M181.6 457.8h0M181.6 458.1h0M181.6 457.3h0M181.7 456.6h0M181.7 457.9h0M181.7 458.5h0M181.8 456.6h0M181.8 457.8h0M181.8 456.5h0M181.8 457.1h0M181.8 457.8h0M181.9 458.4h0M181.9 456.4h0M181.9 456.9h0M182.0 457.4h0M182.0 454.7h0M182.0 459.1h0M182.0 456.8h0M182.1 456.8h0M182.1 457.4h0M182.1 456.7h0M182.2 457.0h0M182.2 457.7h0M182.2 457.6h0M182.2 456.9h0M182.3 458.6h0M182.3 457.0h0M182.3 457.7h0M182.3 456.0h0M182.4 456.9h0M182.4 456.0h0M182.4 456.6h0M182.5 455.5h0M182.5 456.8h0M182.5 455.7h0M182.5 456.6h0M182.6 454.7h0M182.6 457.0h0M182.6 456.3h0M182.6 455.5h0M182.7 456.1h0M182.7 455.9h0M182.7 460.7h0M182.8 455.6h0M182.8 456.9h0M182.8 455.6h0M182.8 455.9h0M182.9 456.7h0M182.9 456.5h0M182.9 454.0h0M183.0 454.6h0M183.0 456.6h0M183.0 455.8h0M183.0 456.4h0M183.0 456.1h0M183.1 455.1h0M183.1 456.0h0M183.1 455.6h0M183.2 456.3h0M183.2 455.6h0M183.2 455.5h0M183.2 455.6h0M183.3 455.9h0M183.3 457.3h0M183.3 456.6h0M183.3 455.9h0M183.4 456.0h0M183.4 453.2h0M183.4 455.2h0M183.5 455.6h0M183.5 454.9h0M183.5 453.7h0M183.5 452.9h0M183.6 455.5h0M183.6 455.6h0M183.6 454.6h0M183.7 456.0h0M183.7 456.1h0M183.7 455.8h0M183.7 453.6h0M183.8 454.3h0M183.8 453.2h0M183.8 455.8h0M183.8 454.1h0M183.9 454.8h0M183.9 454.7h0M183.9 458.3h0M184.0 454.8h0M184.0 454.8h0M184.0 454.7h0M184.0 454.0h0M184.1 454.6h0M184.1 454.6h0M184.1 455.2h0M184.1 454.8h0M184.2 455.2h0M184.2 457.5h0M184.2 453.1h0M184.2 456.0h0M184.3 454.6h0M184.3 454.5h0M184.3 454.7h0M184.4 454.5h0M184.4 455.0h0M184.4 454.6h0M184.4 454.2h0M184.5 454.6h0M184.5 453.3h0M184.5 454.6h0M184.6 455.5h0M184.6 453.7h0M184.6 453.6h0M184.6 454.1h0M184.7 454.9h0M184.7 457.3h0M184.7 454.8h0M184.7 453.4h0M184.8 452.7h0M184.8 454.0h0M184.8 454.1h0M184.8 453.9h0M184.9 453.3h0M184.9 453.2h0M184.9 453.6h0M184.9 454.2h0M185.0 453.8h0M185.0 452.7h0M185.1 453.6h0M185.1 455.0h0M185.1 452.0h0M185.1 453.9h0M185.2 454.7h0M185.2 455.1h0M185.2 454.1h0M185.2 453.2h0M185.3 453.0h0M185.3 455.7h0M185.3 454.2h0M185.3 453.7h0M185.4 454.0h0M185.4 450.9h0M185.4 453.1h0M185.4 453.8h0M185.5 452.6h0M185.5 454.2h0M185.5 453.6h0M185.6 455.9h0M185.6 453.4h0M185.6 454.8h0M185.7 453.3h0M185.7 453.0h0M185.7 453.7h0M185.8 452.6h0M185.8 452.5h0M185.9 453.7h0M185.9 453.3h0M186.0 452.9h0M186.0 452.7h0M186.1 453.8h0M186.1 451.6h0M186.2 452.6h0M186.2 451.6h0M186.2 451.7h0M186.3 452.8h0M186.3 452.5h0M186.4 452.2h0M186.4 452.4h0M186.5 451.8h0M186.5 452.3h0M186.6 456.7h0M186.6 452.5h0M186.7 453.9h0M186.7 451.6h0M186.8 452.4h0M186.8 451.9h0M186.8 452.3h0M186.9 451.9h0M186.9 452.4h0M187.0 451.7h0M187.0 453.1h0M187.1 452.3h0M187.1 452.3h0M187.2 452.3h0M187.2 452.0h0M187.2 449.2h0M187.3 451.6h0M187.3 450.8h0M187.4 451.0h0M187.4 451.0h0M187.5 451.5h0M187.5 451.4h0M187.6 451.2h0M187.6 451.7h0M187.7 452.3h0M187.7 451.5h0M187.8 451.8h0M187.8 451.7h0M187.9 450.4h0M187.9 450.6h0M187.9 451.0h0M188.0 450.2h0M188.0 450.4h0M188.1 451.0h0M188.1 450.9h0M188.2 450.4h0M188.2 451.3h0M188.3 450.7h0M188.3 450.6h0M188.3 451.3h0M188.4 450.4h0M188.4 450.7h0M188.5 450.0h0M188.6 451.1h0M188.6 450.3h0M188.6 449.8h0M188.7 449.8h0M188.7 450.2h0M188.7 450.7h0M188.8 449.2h0M188.8 449.9h0M188.9 450.9h0M189.0 450.2h0M189.0 450.7h0M189.1 449.8h0M189.1 447.7h0M189.1 449.1h0M189.2 449.6h0M189.2 450.3h0M189.3 449.2h0M189.3 449.4h0M189.4 448.8h0M189.4 449.2h0M189.4 449.0h0M189.5 449.6h0M189.5 450.4h0M189.6 448.7h0M189.6 449.9h0M189.7 449.1h0M189.7 449.4h0M189.8 449.3h0M189.8 449.1h0M189.9 450.0h0M189.9 448.7h0M190.0 449.9h0M190.0 449.9h0M190.1 448.8h0M190.1 448.6h0M190.1 449.5h0M190.2 449.4h0M190.2 448.7h0M190.3 448.3h0M190.3 448.5h0M190.4 448.7h0M190.4 448.1h0M190.5 448.5h0M190.5 448.1h0M190.6 449.1h0M190.6 448.7h0M190.7 448.5h0M190.7 448.3h0M190.7 448.6h0M190.8 449.7h0M190.8 448.4h0M190.9 447.9h0M190.9 448.0h0M191.0 447.3h0M191.0 448.6h0M191.0 448.0h0M191.1 448.5h0M191.2 446.2h0M191.2 447.6h0M191.3 448.7h0M191.3 447.9h0M191.3 447.4h0M191.4 449.0h0M191.4 447.4h0M191.5 450.8h0M191.5 447.6h0M191.6 447.7h0M191.6 446.6h0M191.7 447.7h0M191.7 447.4h0M191.7 446.9h0M191.8 448.0h0M191.9 445.9h0M191.9 449.4h0M191.9 447.8h0M192.0 447.1h0M192.0 447.7h0M192.1 447.1h0M192.1 449.7h0M192.2 446.5h0M192.2 447.2h0M192.3 446.9h0M192.3 446.6h0M192.3 446.7h0M192.4 447.2h0M192.4 447.2h0M192.5 445.7h0M192.5 446.5h0M192.6 446.2h0M192.6 447.0h0M192.7 446.0h0M192.7 446.9h0M192.8 446.9h0M192.8 446.1h0M192.8 445.6h0M192.9 446.3h0M192.9 446.4h0M193.0 445.2h0M193.1 444.9h0M193.1 446.1h0M193.1 445.9h0M193.2 448.1h0M193.2 445.6h0M193.3 445.6h0M193.3 445.8h0M193.3 446.6h0M193.4 445.8h0M193.5 445.1h0M193.5 445.0h0M193.5 446.1h0M193.6 446.1h0M193.6 444.8h0M193.7 445.0h0M193.7 446.0h0M193.8 445.9h0M193.8 445.0h0M193.9 445.1h0M193.9 444.3h0M193.9 445.5h0M194.0 444.7h0M194.1 444.2h0M194.1 442.6h0M194.1 443.9h0M194.2 446.1h0M194.2 444.2h0M194.3 444.5h0M194.3 445.1h0M194.4 445.1h0M194.4 444.1h0M194.5 445.2h0M194.5 444.8h0M194.5 444.1h0M194.6 444.0h0M194.7 444.8h0M194.7 446.4h0M194.7 444.6h0M194.8 444.6h0M194.8 442.5h0M194.9 444.4h0M194.9 444.2h0M194.9 444.2h0M195.0 444.3h0M195.1 443.9h0M195.1 443.2h0M195.1 444.0h0M195.2 443.5h0M195.2 443.8h0M195.3 444.3h0M195.3 444.4h0M195.4 444.1h0M195.4 442.8h0M195.4 443.7h0M195.5 442.1h0M195.6 443.5h0M195.6 445.1h0M195.6 441.3h0M195.7 445.9h0M195.7 444.0h0M195.8 443.2h0M195.8 443.1h0M195.9 443.6h0M195.9 442.8h0M196.0 443.3h0M196.0 444.2h0M196.1 443.6h0M196.1 442.8h0M196.1 441.4h0M196.2 440.1h0M196.2 444.0h0M196.3 443.5h0M196.3 443.5h0M196.4 443.2h0M196.4 442.1h0M196.5 445.5h0M196.5 442.8h0M196.6 441.0h0M196.6 442.4h0M196.7 442.4h0M196.7 443.2h0M196.8 441.6h0M196.8 442.7h0M196.8 443.7h0M196.9 441.3h0M196.9 442.0h0M197.0 440.7h0M197.0 442.0h0M197.1 441.0h0M197.1 441.6h0M197.1 442.3h0M197.2 438.7h0M197.3 440.8h0M197.3 442.2h0M197.3 442.0h0M197.4 441.2h0M197.5 441.2h0M197.5 441.3h0M197.5 441.9h0M197.6 441.6h0M197.6 441.3h0M197.6 441.4h0M197.7 441.3h0M197.7 442.7h0M197.8 439.3h0M197.8 441.0h0M197.9 438.9h0M197.9 441.8h0M198.0 441.1h0M198.0 440.6h0M198.1 440.6h0M198.1 441.3h0M198.2 441.2h0M198.2 439.8h0M198.3 440.4h0M198.3 440.9h0M198.3 442.5h0M198.4 440.6h0M198.4 440.1h0M198.5 440.5h0M198.5 439.0h0M198.6 440.1h0M198.6 441.8h0M198.7 441.3h0M198.7 439.5h0M198.8 440.5h0M198.8 439.8h0M198.9 439.7h0M198.9 439.7h0M199.0 440.3h0M199.0 441.0h0M199.1 440.2h0M199.1 440.1h0M199.1 439.5h0M199.2 440.0h0M199.2 440.1h0M199.3 439.6h0M199.3 440.1h0M199.4 440.5h0M199.4 439.2h0M199.5 440.0h0M199.5 439.4h0M199.5 439.8h0M199.6 439.6h0M199.7 439.2h0M199.7 440.3h0M199.7 438.9h0M199.8 439.3h0M199.8 439.9h0M199.9 438.6h0M199.9 439.0h0M199.9 439.1h0M200.0 438.8h0M200.0 439.4h0M200.1 439.0h0M200.2 439.0h0M200.2 438.3h0M200.2 438.2h0M200.3 439.4h0M200.3 436.4h0M200.4 438.7h0M200.4 439.0h0M200.4 436.4h0M200.5 437.5h0M200.6 439.4h0M200.6 438.0h0M200.6 438.1h0M200.7 438.7h0M200.7 438.3h0M200.8 436.7h0M200.9 437.6h0M201.0 440.8h0M201.2 448.8h0M201.3 439.1h0M201.4 435.2h0M201.5 436.5h0M201.7 438.8h0M201.8 436.3h0M201.9 438.5h0M202.1 437.8h0M202.1 431.0h0M202.2 435.8h0M202.4 437.9h0M202.5 436.4h0M202.5 435.4h0M202.7 443.4h0M202.8 432.7h0M202.9 434.6h0M203.1 433.8h0M203.2 433.3h0M203.3 437.2h0M203.5 435.7h0M203.5 436.5h0M203.7 432.9h0M203.7 440.5h0M203.9 434.5h0M204.0 442.4h0M204.2 433.3h0M204.2 433.7h0M204.3 437.8h0M204.5 436.3h0M204.6 434.2h0M204.7 434.3h0M204.9 435.0h0M204.9 433.2h0M205.0 436.9h0M205.2 431.3h0M205.3 431.9h0M205.4 432.8h0M205.6 432.6h0M205.7 435.2h0M205.8 431.4h0M205.9 430.6h0M206.1 430.4h0M206.2 432.4h0M206.3 434.4h0M206.4 437.8h0M206.5 431.6h0M206.6 431.8h0M206.7 430.3h0M206.9 432.5h0M207.0 433.1h0M207.1 435.7h0M207.3 435.6h0M207.3 432.8h0M207.4 429.6h0M207.5 430.4h0M207.7 431.5h0M207.8 420.2h0M207.9 427.6h0M208.1 433.9h0M208.1 430.7h0M208.2 429.1h0M208.4 431.5h0M208.5 429.8h0M208.6 430.2h0M208.7 428.8h0M208.9 430.1h0M209.0 434.0h0M209.2 430.1h0M209.2 432.0h0M209.3 430.7h0M209.5 430.0h0M209.6 428.1h0M209.7 431.7h0M209.9 426.6h0M210.0 433.0h0M210.1 430.9h0M210.2 429.7h0M210.3 424.9h0M210.4 429.9h0M210.5 425.9h0M210.6 426.7h0M210.7 423.0h0M210.9 431.1h0M211.0 430.3h0M211.1 425.9h0M211.3 428.5h0M211.4 429.6h0M211.5 423.9h0M211.6 419.3h0M211.8 425.5h0M211.8 426.7h0M212.0 429.8h0M212.1 426.8h0M212.2 428.7h0M212.3 427.7h0M212.4 425.4h0M212.5 420.4h0M212.7 433.7h0M212.8 425.6h0M212.9 424.1h0M213.0 430.1h0M213.2 427.3h0M213.3 427.2h0M213.4 427.0h0M213.5 426.4h0M213.6 425.4h0M213.7 424.9h0M213.8 422.1h0M214.0 423.9h0M214.0 424.0h0M214.2 424.1h0M214.4 425.4h0M214.4 428.4h0M214.5 426.3h0M214.7 425.3h0M214.8 427.3h0M215.0 425.9h0M215.0 423.6h0M215.1 424.6h0M215.3 423.4h0M215.4 425.0h0M215.5 424.2h0M215.6 426.3h0M215.7 420.8h0M215.9 423.6h0M216.0 424.8h0M216.2 423.7h0M216.2 426.2h0M216.3 422.7h0M216.5 422.6h0M216.6 421.4h0M216.7 425.7h0M216.9 428.8h0M216.9 422.3h0M217.1 422.1h0M217.1 425.9h0M217.2 420.8h0M217.4 419.0h0M217.5 420.7h0M217.6 420.6h0M217.8 420.4h0M217.9 421.4h0M218.0 423.2h0M218.1 423.9h0M218.2 417.6h0M218.3 423.5h0M218.5 419.6h0M218.5 428.5h0M218.7 420.7h0M218.9 419.3h0M219.0 421.7h0M219.1 420.8h0M219.1 417.1h0M219.2 424.1h0M219.4 413.9h0M219.5 416.5h0M219.7 417.8h0M219.8 418.6h0M219.8 419.5h0M220.0 417.2h0M220.1 420.1h0M220.3 422.0h0M220.4 417.1h0M220.5 415.2h0M220.6 413.2h0M220.7 418.6h0M220.8 420.2h0M221.0 420.6h0M221.1 415.2h0M221.2 419.7h0M221.4 417.5h0M221.5 420.7h0M221.6 417.2h0M221.6 417.2h0M221.8 420.0h0M221.9 415.2h0M222.0 416.7h0M222.2 418.6h0M222.2 423.6h0M222.4 418.8h0M222.4 415.3h0M222.6 415.4h0M222.7 414.2h0M222.9 415.8h0M222.9 412.7h0M223.1 417.5h0M223.1 415.1h0M223.3 415.3h0M223.4 413.9h0M223.6 414.2h0M223.7 414.9h0M223.8 420.9h0M223.9 416.3h0M224.0 418.3h0M224.2 416.4h0M224.2 414.8h0M224.4 414.1h0M224.5 412.5h0M224.7 412.8h0M224.7 416.9h0M224.8 418.8h0M224.9 414.6h0M225.1 411.6h0M225.2 414.5h0M225.4 408.8h0M225.4 411.8h0M225.6 413.7h0M225.7 416.1h0M225.8 412.4h0M226.0 409.5h0M226.1 411.6h0M226.2 416.4h0M226.2 412.4h0M226.4 412.2h0M226.6 410.0h0M226.6 415.4h0M226.7 415.4h0M226.8 411.7h0M227.0 412.7h0M227.1 414.3h0M227.3 411.1h0M227.3 411.5h0M227.5 411.4h0M227.5 412.6h0M227.7 412.5h0M227.9 409.2h0M228.0 413.5h0M228.1 410.6h0M228.2 409.2h0M228.3 413.3h0M228.4 411.1h0M228.6 407.4h0M228.7 411.5h0M228.8 412.5h0M228.8 406.9h0M229.0 409.1h0M229.2 406.6h0M229.2 408.5h0M229.4 416.2h0M229.4 409.0h0M229.6 411.2h0M229.7 412.3h0M229.9 409.3h0M229.9 408.4h0M230.0 405.4h0M230.2 415.0h0M230.3 411.8h0M230.5 413.4h0M230.5 407.1h0M230.7 412.0h0M230.8 406.7h0M230.9 408.2h0M231.0 405.6h0M231.1 408.3h0M231.3 407.9h0M231.4 404.4h0M231.5 408.6h0M231.6 404.4h0M231.8 406.9h0M231.9 406.8h0M231.9 410.9h0M232.1 407.7h0M232.2 405.6h0M232.3 408.2h0M232.5 406.9h0M232.6 408.5h0M232.7 407.6h0M232.8 405.1h0M232.9 398.1h0M233.1 405.0h0M233.2 405.9h0M233.3 404.6h0M233.4 404.8h0M233.4 405.4h0M233.6 408.8h0M233.7 401.7h0M233.9 405.9h0M233.9 406.2h0M234.1 400.7h0M234.3 408.7h0M234.3 406.0h0M234.5 404.3h0M234.5 406.8h0M234.7 400.5h0M234.8 408.4h0M234.9 407.2h0M235.0 411.2h0M235.1 403.3h0M235.3 404.0h0M235.5 406.8h0M235.5 404.1h0M235.7 404.3h0M235.7 401.9h0M235.8 404.2h0M236.0 403.5h0M236.1 399.5h0M236.2 408.5h0M236.3 399.6h0M236.5 402.0h0M236.5 401.2h0M236.7 404.2h0M236.8 407.6h0M236.9 400.5h0M237.0 403.5h0M237.2 404.4h0M237.3 398.1h0M237.4 398.9h0M237.5 401.4h0M237.7 402.5h0M237.8 401.5h0M237.8 400.5h0M238.0 400.6h0M238.1 402.3h0M238.2 399.3h0M238.4 403.9h0M238.5 398.0h0M238.6 398.6h0M238.7 401.5h0M238.8 403.5h0M239.0 403.0h0M239.0 399.1h0M239.2 403.4h0M239.3 401.7h0M239.4 396.1h0M239.5 398.4h0M239.7 397.9h0M239.8 400.1h0M239.9 398.0h0M240.0 398.9h0M240.2 401.7h0M240.2 398.7h0M240.4 397.6h0M240.5 398.2h0M240.7 398.5h0M240.8 396.6h0M240.8 397.1h0M241.0 394.6h0M241.0 396.4h0M241.2 400.1h0M241.3 394.6h0M241.4 397.4h0M241.5 402.5h0M241.7 398.9h0M241.8 395.1h0M242.0 396.8h0M242.1 395.2h0M242.2 395.1h0M242.3 395.4h0M242.4 404.8h0M242.5 400.0h0M242.7 394.2h0M242.7 399.8h0M242.8 383.5h0M243.0 395.1h0M243.1 398.0h0M243.2 394.7h0M243.3 397.3h0M243.5 398.4h0M243.5 400.7h0M243.6 391.6h0M243.8 397.0h0M243.9 397.6h0M244.1 392.7h0M244.2 393.8h0M244.3 395.2h0M244.3 393.9h0M244.5 393.7h0M244.6 397.6h0M244.8 394.4h0M244.9 393.9h0M244.9 396.2h0M245.1 397.0h0M245.2 394.2h0M245.4 391.0h0M245.5 394.3h0M245.6 391.4h0M245.7 396.1h0M245.8 391.3h0M245.9 393.3h0M246.1 394.9h0M246.2 392.0h0M246.3 391.8h0M246.4 391.8h0M246.5 393.9h0M246.6 392.2h0M246.8 392.3h0M246.9 389.7h0M246.9 389.7h0M247.1 393.0h0M247.3 391.2h0M247.4 386.0h0M247.4 388.8h0M247.6 391.8h0M247.7 389.7h0M247.9 388.1h0M248.0 388.3h0M248.1 388.4h0M248.2 393.1h0M248.3 390.5h0M248.5 390.3h0M248.5 389.5h0M248.7 394.3h0M248.8 390.5h0M248.9 394.3h0M249.0 392.6h0M249.2 386.4h0M249.2 391.8h0M249.3 390.2h0M249.5 388.1h0M249.6 389.1h0M249.8 388.0h0M249.9 390.4h0M250.0 388.5h0M250.1 388.5h0M250.2 389.4h0M250.4 390.4h0M250.4 388.1h0M250.7 390.9h0M250.8 387.2h0M251.2 387.4h0M251.4 388.8h0M251.7 389.6h0M251.8 387.7h0M252.1 387.1h0M252.3 384.8h0M252.6 384.3h0M252.8 385.0h0M253.1 384.1h0M253.3 384.8h0M253.5 385.8h0M253.9 385.8h0M254.2 385.5h0M254.3 386.5h0M254.5 384.8h0M254.7 383.7h0M255.2 383.9h0M255.3 383.2h0M255.7 383.4h0M255.9 383.3h0M256.0 383.7h0M256.4 382.6h0M256.5 383.9h0M256.8 380.9h0M257.1 380.1h0M257.2 382.2h0M257.5 380.7h0M257.9 381.9h0M258.0 380.7h0M258.2 381.6h0M258.6 378.7h0M258.8 379.0h0M259.0 381.2h0M259.2 380.0h0M259.4 377.9h0M259.8 378.1h0M260.0 376.7h0M260.3 380.6h0M260.5 377.8h0M260.9 377.3h0M261.0 378.5h0M261.2 378.0h0M261.5 378.6h0M261.7 376.3h0M262.0 379.0h0M262.3 377.8h0M262.6 375.4h0M262.6 376.2h0M262.9 376.9h0M263.1 376.9h0M263.5 375.5h0M263.8 373.5h0M263.9 376.0h0M264.2 375.6h0M264.5 373.8h0M264.8 373.6h0M265.0 374.9h0M265.1 374.1h0M265.5 372.9h0M265.7 372.1h0M265.9 371.1h0M266.3 374.1h0M266.4 372.4h0M266.8 372.9h0M266.9 372.5h0M267.3 371.1h0M267.5 371.1h0M267.6 372.8h0M268.0 370.5h0M268.2 371.0h0M268.5 369.7h0M268.6 370.3h0M268.9 369.9h0M269.0 368.9h0M269.5 369.0h0M269.7 369.8h0M269.9 369.5h0M270.1 369.1h0M270.5 368.0h0M270.7 367.2h0M270.9 366.5h0M271.2 367.3h0M271.3 367.5h0M271.7 366.3h0M271.8 369.0h0M272.2 365.4h0M272.3 368.0h0M272.5 366.4h0M272.8 367.3h0M273.2 366.1h0M273.3 366.7h0M273.6 366.7h0M273.9 363.4h0M274.2 363.5h0M274.3 365.6h0M274.5 365.1h0M274.9 363.4h0M275.1 363.7h0M275.3 362.6h0M275.6 363.9h0M275.9 363.6h0M276.1 364.0h0M276.4 364.1h0M276.7 361.8h0M276.7 361.7h0M277.1 362.1h0M277.4 362.6h0M277.6 363.2h0M277.7 359.2h0M278.2 361.2h0M278.4 361.7h0M278.5 359.2h0M278.9 360.8h0M279.0 358.5h0M279.2 359.5h0M279.5 359.3h0M279.7 360.3h0M279.9 359.5h0M280.2 359.7h0M280.6 356.8h0M280.8 358.9h0M281.0 359.6h0M281.3 357.6h0M281.5 357.9h0M281.8 358.3h0M282.0 356.3h0M282.4 355.6h0M282.5 355.7h0M282.7 356.2h0M282.9 355.0h0M283.1 355.1h0M283.5 354.3h0M283.9 355.3h0M284.0 354.0h0M284.2 353.9h0M284.5 355.3h0M284.7 355.9h0M284.9 353.4h0M285.3 354.6h0M285.4 354.5h0M285.8 353.6h0M286.0 352.2h0M286.2 351.7h0M286.4 351.8h0M286.7 352.7h0M286.9 352.6h0M287.1 352.3h0M287.6 351.3h0M287.8 351.8h0M287.9 350.7h0M288.3 348.6h0M288.5 351.4h0M288.6 349.6h0M288.9 350.3h0M289.2 349.2h0M289.5 348.8h0M289.8 350.1h0M289.9 348.1h0M290.3 349.4h0M290.4 352.3h0M290.6 347.5h0M290.9 347.9h0M291.2 347.0h0M291.4 346.6h0M291.5 346.7h0M291.8 347.0h0M292.0 348.4h0M292.5 352.6h0M292.7 348.9h0M292.9 344.0h0M293.1 346.6h0M293.4 345.2h0M293.6 345.1h0M293.8 346.0h0M294.2 342.6h0M294.3 342.5h0M294.5 345.1h0M295.0 344.6h0M295.1 343.4h0M295.3 342.3h0M295.5 342.7h0M295.9 343.8h0M296.1 343.0h0M296.3 344.1h0M296.5 340.6h0M296.7 341.7h0M297.1 344.1h0M297.2 343.4h0M297.6 341.0h0M297.8 342.4h0M298.0 338.7h0M298.2 341.3h0M298.6 341.3h0M298.9 338.2h0M299.0 338.9h0M299.4 339.0h0M299.5 337.6h0M299.7 338.6h0M300.0 337.4h0M300.2 338.3h0M300.5 338.6h0M300.7 339.5h0M301.1 339.3h0M301.4 338.2h0M301.5 336.7h0M301.8 338.5h0M302.0 337.0h0M302.4 337.7h0M302.5 336.8h0M302.9 336.1h0M302.9 337.7h0M303.4 336.9h0M303.6 336.9h0M303.7 335.1h0M304.0 336.1h0M304.2 336.4h0M304.5 336.3h0M304.8 336.0h0M305.1 334.6h0M305.3 333.3h0M305.6 334.2h0M305.8 333.5h0M305.9 333.0h0M306.2 332.8h0M306.5 332.5h0M306.8 330.0h0M306.9 332.2h0M307.1 332.7h0M307.5 331.2h0M307.8 333.1h0M308.0 331.1h0M308.1 332.7h0M308.4 331.3h0M308.7 329.2h0M308.9 328.6h0M309.3 329.3h0M309.5 329.7h0M309.6 329.4h0M309.9 329.7h0M310.3 327.5h0M310.5 329.8h0M310.8 329.2h0M310.8 327.2h0M311.1 329.5h0M311.5 328.1h0M311.5 327.9h0M311.9 327.5h0M312.3 325.6h0M312.4 327.6h0M312.7 326.1h0M312.9 326.1h0M313.1 324.0h0M313.5 326.6h0M313.7 326.2h0M313.9 325.5h0M314.2 326.5h0M314.4 322.9h0M314.7 325.0h0M314.9 324.0h0M315.2 324.5h0M315.4 325.0h0M315.7 323.0h0M315.8 322.1h0M316.2 318.2h0M316.4 321.6h0M316.7 321.8h0M317.0 320.7h0M317.0 323.1h0M317.5 322.4h0M317.5 316.1h0M317.9 321.3h0M318.2 320.6h0M318.4 320.5h0M318.5 318.6h0M318.7 320.9h0M319.1 319.9h0M319.2 318.9h0M319.5 319.0h0M319.7 318.2h0M320.2 318.2h0M320.2 319.1h0M320.6 319.6h0M320.9 317.7h0M321.2 320.8h0M321.3 316.5h0M321.5 316.4h0M321.9 316.5h0M322.1 316.6h0M322.3 317.2h0M322.7 315.5h0M322.9 315.9h0M323.0 315.7h0M323.3 314.1h0M323.5 316.3h0M323.8 314.0h0M323.9 315.4h0M324.2 316.1h0M324.6 315.5h0M324.9 312.3h0M325.0 313.7h0M325.2 314.2h0M325.5 315.9h0M325.7 311.5h0M326.1 313.5h0M326.4 313.4h0M326.6 314.3h0M326.8 311.5h0M327.0 311.6h0M327.1 313.2h0M327.5 312.5h0M327.8 310.0h0M328.0 311.1h0M328.3 309.9h0M328.4 310.9h0M328.7 309.8h0M329.0 309.6h0M329.1 309.9h0M329.6 309.5h0M329.8 309.2h0M330.0 307.8h0M330.2 307.4h0M330.4 309.7h0M330.7 309.8h0M331.0 307.9h0M331.2 306.6h0M331.6 306.2h0M331.7 308.9h0M331.8 306.1h0M332.2 306.8h0M332.4 306.4h0M332.8 305.8h0M332.9 308.7h0M333.2 306.1h0M333.3 305.7h0M333.7 306.3h0M333.8 306.8h0M334.2 306.1h0M334.5 303.8h0M334.5 302.0h0M334.9 303.5h0M335.3 304.6h0M335.3 303.9h0M335.6 303.5h0M335.9 306.7h0M336.1 304.2h0M336.4 301.5h0M336.7 300.0h0M336.8 302.0h0M337.4 302.0h0M338.1 302.4h0M338.2 300.5h0M339.2 300.2h0M339.7 300.5h0M340.2 299.4h0M340.8 300.0h0M341.3 297.3h0M341.8 300.0h0M342.3 296.8h0M343.0 295.7h0M343.4 294.6h0M344.3 294.1h0M344.8 292.9h0M345.1 292.1h0M345.6 294.3h0M346.4 294.4h0M346.8 294.4h0M347.2 291.2h0M348.0 291.1h0M348.6 290.6h0M349.0 287.6h0M349.8 290.5h0M350.0 288.0h0M350.7 290.2h0M351.3 288.2h0M351.8 294.0h0M352.5 287.2h0M353.2 286.1h0M353.4 285.4h0M353.9 287.7h0M354.6 285.4h0M355.3 282.9h0M355.6 282.2h0M356.5 285.0h0M356.6 285.1h0M357.2 281.2h0M358.0 282.3h0M358.4 282.6h0M359.2 280.5h0M359.5 279.0h0M360.1 278.4h0M360.7 277.7h0M361.5 277.5h0M361.8 277.5h0M362.7 277.0h0M363.3 276.0h0M363.8 278.1h0M364.1 272.8h0M364.6 275.0h0M365.0 275.0h0M365.9 272.3h0M366.3 273.4h0M367.2 271.3h0M367.4 272.4h0M368.2 271.8h0M368.7 268.6h0M369.3 271.2h0M370.0 267.6h0M370.1 274.3h0M370.8 270.9h0M371.4 267.1h0M371.7 266.6h0M372.3 268.3h0M373.0 267.6h0M373.6 263.6h0M374.1 263.8h0M374.6 267.4h0M375.1 260.4h0M375.6 262.7h0M376.5 263.8h0M376.8 260.0h0M377.5 262.5h0M378.2 261.9h0M378.5 258.6h0M379.1 259.2h0M380.0 259.5h0M380.6 257.7h0M380.9 257.1h0M381.4 257.6h0M382.0 257.2h0M382.5 255.4h0M383.2 258.4h0M383.9 254.2h0M384.2 256.5h0M384.7 254.7h0M385.2 251.3h0M386.0 252.0h0M386.6 252.4h0M387.0 252.5h0M387.6 251.2h0M388.4 248.2h0M388.9 249.7h0M389.1 247.6h0M390.1 247.7h0M390.7 249.8h0M391.2 245.0h0M391.8 248.0h0M392.2 248.8h0M392.8 245.7h0M393.1 244.4h0M394.0 244.3h0M394.4 242.5h0M395.2 242.8h0M395.7 242.7h0M396.0 242.4h0M396.4 240.6h0M397.2 241.5h0M397.5 242.1h0M398.5 242.3h0M399.1 238.4h0M399.2 239.0h0M400.2 236.4h0M400.5 238.4h0M401.4 236.7h0M401.4 236.0h0M402.4 236.8h0M402.8 236.3h0M403.2 236.8h0M404.0 235.7h0M404.7 233.7h0M404.9 236.3h0M405.6 234.1h0M406.0 232.8h0M406.6 231.3h0M407.3 230.4h0M408.0 230.9h0M408.3 230.3h0M408.7 232.5h0M409.6 228.8h0M409.9 228.0h0M410.5 228.7h0M411.1 227.7h0M411.7 228.0h0M412.2 228.7h0M413.0 226.1h0M413.1 225.7h0M414.1 223.2h0M414.4 222.6h0M415.2 222.4h0M415.7 221.3h0M416.0 223.9h0M417.0 223.7h0M417.1 221.7h0M418.0 220.4h0M418.3 221.1h0M419.2 221.0h0M419.7 216.4h0M420.3 216.9h0M420.4 218.1h0M421.5 217.4h0M421.6 215.3h0M422.2 217.0h0M422.8 216.0h0M423.6 215.1h0M423.8 214.3h0M424.9 212.4h0M425.1 211.7h0M425.6 214.8h0M426.2 212.7h0M426.8 209.4h0M427.3 212.1h0M427.8 211.3h0M428.5 209.0h0M428.8 212.5h0M429.5 209.2h0M430.0 209.2h0M430.5 206.9h0M431.4 209.9h0M432.1 205.1h0M432.4 208.7h0M432.9 203.8h0M433.1 204.7h0M433.6 203.8h0M433.9 203.3h0M434.1 205.1h0M434.7 203.4h0M434.9 203.0h0M435.5 202.1h0M435.8 203.5h0M436.2 203.8h0M436.5 204.2h0M436.8 203.5h0M437.2 200.8h0M437.5 198.1h0M438.2 200.5h0M438.4 199.3h0M438.7 202.8h0M439.1 200.1h0M439.4 198.6h0M439.8 198.0h0M440.3 197.6h0M440.8 197.1h0M441.0 199.7h0M441.4 197.9h0M441.7 197.9h0M442.2 192.0h0M442.8 193.0h0M443.0 193.7h0M443.5 194.5h0M443.8 195.5h0M444.1 193.6h0M444.7 194.5h0M445.0 191.4h0M445.4 194.1h0M445.8 192.9h0M446.1 191.8h0M446.6 193.2h0M446.9 193.0h0M447.4 190.4h0M447.7 191.7h0M448.0 190.2h0M448.4 189.3h0M448.8 188.9h0M449.3 189.7h0M449.5 188.5h0M449.9 188.6h0M450.2 188.1h0M450.8 189.4h0M451.1 188.0h0M451.5 187.2h0M451.7 187.0h0M452.1 185.6h0M452.4 185.7h0M452.9 188.2h0M453.5 177.2h0M453.8 185.1h0M454.0 187.4h0M454.6 183.4h0M454.7 185.9h0M455.2 180.9h0M455.8 184.1h0M455.9 182.2h0M456.3 182.1h0M456.9 181.9h0M457.0 184.4h0M457.6 179.0h0M457.8 179.6h0M458.2 180.9h0M458.5 180.3h0M459.1 177.6h0M459.6 189.1h0M459.6 182.6h0M460.3 180.2h0M460.4 176.2h0M461.0 177.9h0M461.4 176.7h0M461.8 176.1h0M462.1 173.9h0M462.4 177.5h0M462.7 178.5h0M463.1 176.9h0M463.6 177.1h0M464.2 173.4h0M464.3 173.9h0M464.7 172.8h0M465.1 176.4h0M465.6 172.8h0M465.8 173.4h0M466.2 173.3h0M466.6 174.3h0M467.1 172.6h0M467.3 168.4h0M467.7 172.1h0M468.3 170.5h0M468.6 171.2h0M468.9 170.3h0M469.5 169.1h0M469.6 171.0h0M470.2 170.7h0M470.6 171.0h0M470.9 168.2h0M471.2 168.4h0M471.6 167.2h0M471.9 166.4h0M472.4 167.3h0M472.7 165.3h0M473.0 163.4h0M473.7 163.9h0M473.9 164.3h0M474.2 161.5h0M474.7 166.2h0M475.0 165.7h0M475.5 163.8h0M475.9 164.7h0M476.3 163.1h0M476.7 163.3h0M477.1 161.4h0M477.2 160.3h0M477.7 155.4h0M478.3 162.3h0M478.4 163.7h0M478.9 158.9h0M479.1 161.7h0M479.8 158.9h0M480.0 157.6h0M480.3 158.2h0M480.9 157.3h0M481.2 163.0h0M481.6 156.8h0M481.9 154.2h0M482.2 156.9h0M482.7 157.8h0M483.2 155.4h0M483.3 156.9h0M483.8 155.4h0M484.1 155.3h0M484.5 155.6h0M485.0 155.7h0M485.4 153.7h0M485.6 154.8h0M486.2 150.0h0M486.4 154.6h0M486.9 148.7h0M487.3 149.7h0M487.6 154.1h0M488.0 151.8h0M488.4 151.5h0M488.7 149.3h0M489.1 147.6h0M489.6 149.0h0M489.8 150.3h0M490.2 146.7h0M490.8 146.2h0M491.0 146.7h0M491.6 146.4h0M491.8 150.1h0M492.3 147.3h0M492.6 147.7h0M493.2 145.7h0M493.5 152.2h0M493.7 147.3h0M494.1 146.7h0M494.6 146.7h0M494.9 141.6h0M495.5 142.8h0M495.5 142.4h0M496.0 141.3h0M496.5 141.0h0M496.8 143.9h0M497.2 143.6h0M497.6 139.9h0M498.1 137.8h0M498.2 143.5h0M498.8 141.0h0M499.2 139.6h0M499.6 139.8h0M499.7 140.3h0M500.2 140.5h0M500.7 137.0h0M501.0 138.8h0M501.5 138.2h0M501.8 137.4h0M502.2 142.3h0M502.5 138.6h0M503.1 135.4h0M503.2 134.1h0M503.8 135.2h0M503.9 134.8h0M504.3 136.3h0M504.8 131.7h0M505.3 130.8h0M505.7 134.4h0M505.8 131.6h0M506.3 132.2h0M506.6 131.6h0M507.1 132.2h0M507.4 134.2h0M507.9 130.4h0M508.5 129.3h0M508.6 130.5h0M509.1 130.7h0M509.4 130.1h0M509.6 129.9h0M510.3 126.1h0M510.6 131.1h0M510.8 130.7h0M511.2 125.9h0M511.7 126.6h0M512.0 124.2h0M512.4 125.0h0M513.0 122.8h0M513.1 125.7h0M513.7 124.9h0M514.1 123.9h0M514.5 125.7h0M514.6 119.2h0M515.2 122.4h0M515.4 131.5h0M515.9 120.9h0M516.2 124.3h0M516.6 123.0h0M516.9 123.1h0M517.5 120.5h0M517.8 123.8h0M518.3 119.6h0M518.5 122.1h0M519.0 119.6h0M519.5 122.8h0M519.9 118.3h0M520.0 117.6h0M520.7 116.4h0M520.8 118.9h0M521.2 117.1h0M521.6 117.1h0M522.0 115.2h0M522.4 114.4h0M522.7 116.3h0M523.2 119.1h0M523.6 115.1h0M524.1 112.9h0M524.4 114.6h0M524.6 115.8h0M525.0 113.4h0M525.4 112.4h0M526.0 114.6h0M526.1 107.1h0M526.4 109.6h0M526.8 107.7h0M527.2 110.7h0M527.6 113.1h0M528.1 114.3h0M528.4 107.5h0M529.0 104.9h0M529.4 106.2h0M529.5 110.1h0M530.2 112.2h0M530.5 107.2h0M530.8 109.9h0M531.1 108.9h0M531.8 104.2h0M531.8 105.5h0M532.3 106.8h0M532.6 107.2h0M533.1 105.1h0M533.3 105.0h0M533.9 104.0h0M534.3 103.7h0M534.7 102.5h0M535.2 103.2h0M535.3 102.7h0M535.9 103.0h0M536.0 111.0h0M536.7 104.3h0M536.9 100.7h0M537.1 102.6h0M537.8 100.0h0M537.9 99.7h0M538.6 102.8h0M539.0 99.7h0M539.1 100.9h0M539.7 98.8h0M539.8 97.9h0M540.2 101.3h0M540.8 97.0h0M541.2 97.4h0M541.6 98.1h0M541.9 94.5h0M542.4 95.8h0M542.5 95.8h0M543.1 92.9h0M543.5 96.6h0M543.7 96.1h0M544.3 96.3h0M544.5 95.7h0M544.8 95.9h0M545.2 92.2h0M545.7 93.9h0M546.1 91.3h0M546.5 93.6h0M546.9 92.8h0M547.3 90.0h0M547.6 88.6h0M548.1 93.7h0M548.3 90.7h0M549.2 89.9h0M549.6 88.4h0M549.8 89.4h0M550.3 87.7h0M550.8 88.5h0M550.9 88.2h0M551.3 86.8h0M551.8 86.2h0M552.2 85.5h0M552.4 93.1h0M552.9 84.7h0M553.4 86.7h0M554.1 87.0h0M554.3 83.4h0M555.0 83.3h0M555.4 84.8h0M183.5 450.9h0M183.5 452.4h0M184.0 452.3h0M181.9 453.7h0M182.8 454.2h0M180.3 454.6h0M182.4 454.7h0M180.3 455.6h0M180.2 456.2h0M179.9 456.7h0M187.6 453.5h0M187.1 453.6h0M185.8 456.4h0M185.6 457.0h0M184.0 457.5h0M184.5 458.1h0M178.4 458.2h0M178.3 458.9h0M195.6 440.6h0M196.5 440.8h0M195.3 441.5h0M195.8 441.2h0M195.3 442.4h0M197.7 442.4h0M197.9 443.3h0M196.3 444.3h0M195.6 445.2h0M197.4 445.9h0M190.7 443.9h0M188.7 444.3h0M189.9 445.4h0M192.2 444.8h0M193.2 444.3h0M191.5 445.7h0M193.8 446.5h0M166.7 468.1h0M167.7 468.0h0M161.3 475.9h0M158.3 482.2h0M158.5 482.6h0M171.7 463.5h0M172.7 463.0h0M174.5 462.3h0M175.7 460.1h0M175.4 461.6h0M177.8 457.9h0M178.4 458.2h0M178.0 458.4h0M178.3 458.8h0M195.2 449.2h0M194.5 450.4h0M194.4 451.3h0M192.1 451.3h0M192.6 453.3h0M189.6 453.6h0M189.4 458.5h0M192.0 459.5h0M189.2 452.5h0M188.9 452.2h0M187.6 447.6h0M186.9 448.3h0M186.2 450.8h0M185.2 451.6h0M184.9 455.2h0M185.2 455.9h0M185.5 456.5h0M185.8 457.0h0M184.8 456.2h0M185.4 455.4h0M241.7 430.0h0M226.7 442.5h0M215.3 444.2h0M206.3 456.7h0M219.2 435.0h0M224.2 430.0h0M253.3 402.2h0M242.8 407.2h0M214.2 415.0h0M217.5 413.3h0M208.3 420.0h0M222.5 409.7h0M247.5 384.2h0M243.3 389.2h0M232.5 400.8h0M200.8 452.5h0M321.7 342.5h0M330.5 326.3h0M293.7 357.5h0M295.3 360.5h0M283.3 347.5h0M269.7 361.3h0M256.3 376.3h0M322.2 310.8h0M332.5 314.7h0M334.2 311.3h0M344.7 301.3h0M297.5 348.0h0M395.5 234.7h0M424.2 225.0h0M358.3 299.5h0M350.3 298.3h0M363.3 283.3h0M376.3 271.7h0M364.2 267.5h0M361.7 272.5h0M380.3 253.0h0M393.3 242.5h0M355.0 292.8h0M345.0 301.3h0M340.8 291.7h0M467.5 150.3h0M458.3 171.2h0M491.7 157.0h0M506.7 144.5h0M468.3 178.3h0M465.0 180.8h0M525.5 90.5h0M497.4 114.2h0M542.4 106.4h0M510.5 141.2h0M506.4 144.2h0M491.4 157.4h0M504.5 128.5h0M526.2 122.2h0M533.4 114.2h0M551.0 97.7h0M539.0 95.5h0" stroke="#000000" stroke-width="3.60" stroke-linecap="round" fill="none"/>
<path d="M153.7 485.3h0M153.7 485.2h0M153.7 485.2h0M153.8 485.0h0M153.8 485.2h0M153.8 485.0h0M153.8 485.4h0M153.9 485.3h0M153.9 485.1h0M153.9 485.4h0M153.9 484.9h0M153.9 485.0h0M154.0 485.0h0M154.0 484.8h0M154.0 485.0h0M154.0 485.2h0M154.0 485.1h0M154.1 485.0h0M154.1 484.7h0M154.1 484.9h0M154.1 484.7h0M154.1 484.9h0M154.1 484.8h0M154.2 484.8h0M154.2 484.6h0M154.2 484.6h0M154.2 484.7h0M154.2 485.1h0M154.3 485.0h0M154.3 484.8h0M154.3 484.7h0M154.3 484.8h0M154.4 484.6h0M154.4 485.0h0M154.4 484.7h0M154.4 484.5h0M154.4 484.8h0M154.4 484.3h0M154.5 484.3h0M154.5 484.4h0M154.5 484.6h0M154.5 484.2h0M154.5 484.7h0M154.6 484.6h0M154.6 484.4h0M154.6 484.2h0M154.6 484.5h0M154.7 484.4h0M154.7 484.4h0M154.7 484.4h0M154.7 484.1h0M154.7 484.2h0M154.8 484.1h0M154.8 484.1h0M154.8 483.9h0M154.8 484.3h0M154.8 484.1h0M154.8 484.2h0M154.9 484.1h0M154.9 484.2h0M154.9 483.8h0M154.9 483.9h0M154.9 483.7h0M155.0 483.9h0M155.0 484.0h0M155.0 484.4h0M155.0 483.6h0M155.1 484.1h0M155.1 484.0h0M155.1 484.3h0M155.1 483.7h0M155.1 484.0h0M155.1 483.7h0M155.2 483.9h0M155.2 484.0h0M155.2 483.8h0M155.2 483.8h0M155.2 483.4h0M155.3 483.8h0M155.3 484.1h0M155.3 483.6h0M155.3 483.7h0M155.3 484.0h0M155.4 483.4h0M155.4 483.8h0M155.4 483.5h0M155.4 483.5h0M155.4 483.8h0M155.5 483.3h0M155.5 483.8h0M155.5 484.0h0M155.5 483.4h0M155.5 483.8h0M155.6 483.5h0M155.6 483.3h0M155.6 483.1h0M155.6 483.2h0M155.6 483.3h0M155.7 483.4h0M155.7 483.0h0M155.7 483.2h0M155.7 483.3h0M155.7 482.9h0M155.7 483.2h0M155.8 483.2h0M155.8 483.2h0M155.8 482.5h0M155.8 483.0h0M155.9 483.1h0M155.9 482.5h0M155.9 483.2h0M155.9 482.9h0M155.9 483.1h0M155.9 483.1h0M156.0 483.0h0M156.0 482.6h0M156.0 482.9h0M156.0 483.4h0M156.0 482.6h0M156.1 483.0h0M156.1 482.6h0M156.1 482.9h0M156.1 482.7h0M156.1 482.7h0M156.2 482.8h0M156.2 483.0h0M156.2 483.0h0M156.2 483.1h0M156.3 482.9h0M156.3 482.3h0M156.3 483.2h0M156.3 482.5h0M156.3 482.7h0M156.3 482.6h0M156.4 482.6h0M156.4 482.4h0M156.4 482.7h0M156.4 483.0h0M156.4 482.5h0M156.5 483.1h0M156.5 482.4h0M156.5 482.7h0M156.5 482.3h0M156.5 482.0h0M156.6 482.1h0M156.6 482.2h0M156.6 482.0h0M156.6 481.9h0M156.7 482.3h0M156.7 482.7h0M156.7 482.2h0M156.7 482.4h0M156.7 482.5h0M156.7 482.4h0M156.8 481.6h0M156.8 482.4h0M156.8 482.0h0M156.8 482.7h0M156.8 482.1h0M156.9 482.5h0M156.9 482.4h0M156.9 481.6h0M156.9 482.1h0M156.9 481.7h0M157.0 482.2h0M157.0 481.5h0M157.0 481.5h0M157.0 481.6h0M157.0 481.5h0M157.1 481.7h0M157.1 482.2h0M157.1 482.2h0M157.1 482.3h0M157.1 481.6h0M157.2 481.6h0M157.2 482.0h0M157.2 481.9h0M157.2 481.7h0M157.2 482.0h0M157.3 481.7h0M157.3 481.7h0M157.3 481.9h0M157.3 481.0h0M157.3 481.7h0M157.4 481.2h0M157.4 481.6h0M157.4 480.9h0M157.4 481.7h0M157.4 482.1h0M157.5 481.5h0M157.5 481.9h0M157.5 481.8h0M157.5 481.6h0M157.5 481.3h0M157.5 481.6h0M157.6 481.7h0M157.6 481.3h0M157.6 481.7h0M157.6 481.2h0M157.7 481.8h0M157.7 481.8h0M157.7 481.3h0M157.7 481.7h0M157.7 481.0h0M157.8 481.7h0M157.8 481.0h0M157.8 481.4h0M157.8 481.7h0M157.8 481.2h0M157.9 481.8h0M157.9 481.6h0M157.9 481.2h0M157.9 481.6h0M157.9 480.5h0M157.9 481.3h0M158.0 480.9h0M158.0 480.8h0M158.0 480.4h0M158.0 480.6h0M158.1 481.0h0M158.1 480.6h0M158.1 481.3h0M158.1 480.8h0M158.1 481.0h0M158.2 481.2h0M158.2 480.5h0M158.2 480.4h0M158.2 479.9h0M158.2 480.3h0M158.2 480.2h0M158.3 480.2h0M158.3 480.1h0M158.3 480.8h0M158.3 480.9h0M158.3 481.2h0M158.4 480.8h0M158.4 480.6h0M158.4 480.1h0M158.4 480.5h0M158.5 480.4h0M158.5 480.5h0M158.5 480.8h0M158.5 480.3h0M158.5 480.0h0M158.5 480.5h0M158.6 479.9h0M158.6 480.7h0M158.6 480.3h0M158.6 480.9h0M158.6 480.1h0M158.7 479.8h0M158.7 480.4h0M158.7 480.6h0M158.7 480.2h0M158.7 480.9h0M158.8 479.9h0M158.8 480.2h0M158.8 479.5h0M158.8 479.0h0M158.8 479.6h0M158.9 480.3h0M158.9 479.9h0M158.9 480.7h0M158.9 480.3h0M158.9 480.0h0M159.0 480.1h0M159.0 480.0h0M159.0 479.3h0M159.0 480.2h0M159.0 479.7h0M159.1 479.9h0M159.1 479.6h0M159.1 479.5h0M159.1 479.3h0M159.1 480.1h0M159.2 480.2h0M159.2 479.6h0M159.2 479.5h0M159.2 480.4h0M159.2 479.6h0M159.3 479.7h0M159.3 479.5h0M159.3 479.7h0M159.3 479.5h0M159.3 479.9h0M159.4 479.7h0M159.4 479.9h0M159.4 479.8h0M159.4 479.6h0M159.4 479.1h0M159.5 479.2h0M159.5 479.4h0M159.5 479.2h0M159.5 479.9h0M159.5 478.8h0M159.6 479.6h0M159.6 479.3h0M159.6 479.6h0M159.6 479.4h0M159.6 478.8h0M159.7 479.4h0M159.7 479.0h0M159.7 479.2h0M159.7 479.1h0M159.7 478.9h0M159.8 479.3h0M159.8 479.4h0M159.8 479.3h0M159.8 479.3h0M159.8 479.0h0M159.9 478.4h0M159.9 479.3h0M159.9 478.9h0M159.9 479.6h0M159.9 479.1h0M160.0 478.3h0M160.0 479.0h0M160.0 478.7h0M160.0 479.0h0M160.0 478.9h0M160.0 478.3h0M160.1 479.4h0M160.1 478.7h0M160.1 478.8h0M160.1 478.5h0M160.1 479.6h0M160.2 479.3h0M160.2 478.4h0M160.2 478.4h0M160.2 479.1h0M160.2 478.3h0M160.3 478.6h0M160.3 478.7h0M160.3 477.9h0M160.3 477.9h0M160.3 478.9h0M160.4 479.4h0M160.4 478.5h0M160.4 479.0h0M160.4 478.6h0M160.5 478.7h0M160.5 478.8h0M160.5 478.3h0M160.5 478.6h0M160.5 478.7h0M160.5 478.8h0M160.6 478.5h0M160.6 478.7h0M160.6 478.6h0M160.6 478.1h0M160.6 478.7h0M160.7 478.3h0M160.7 478.5h0M160.7 478.9h0M160.7 478.5h0M160.7 478.1h0M160.8 478.4h0M160.8 478.5h0M160.8 478.8h0M160.8 478.3h0M160.8 478.3h0M160.9 478.2h0M160.9 478.1h0M160.9 478.3h0M160.9 477.9h0M161.0 478.3h0M161.0 478.0h0M161.0 477.9h0M161.0 478.4h0M161.0 477.7h0M161.0 478.5h0M161.1 477.4h0M161.1 478.0h0M161.1 477.5h0M161.1 478.0h0M161.1 477.6h0M161.2 478.1h0M161.2 477.8h0M161.2 477.6h0M161.2 477.2h0M161.2 478.4h0M161.3 478.1h0M161.3 477.6h0M161.3 477.9h0M161.3 477.9h0M161.3 477.2h0M161.4 477.6h0M161.4 477.3h0M161.4 477.4h0M161.4 477.3h0M161.4 477.4h0M161.5 478.4h0M161.5 477.6h0M161.5 477.4h0M161.5 477.0h0M161.5 476.9h0M161.6 477.2h0M161.6 477.4h0M161.6 477.8h0M161.6 477.5h0M161.6 477.3h0M161.7 477.4h0M161.7 477.7h0M161.7 477.6h0M161.7 476.7h0M161.7 477.4h0M161.7 477.4h0M161.8 477.6h0M161.8 477.6h0M161.8 477.1h0M161.8 477.2h0M161.8 477.4h0M161.9 477.3h0M161.9 477.5h0M161.9 477.5h0M161.9 477.3h0M162.0 477.6h0M162.0 476.7h0M162.0 476.7h0M162.0 477.5h0M162.0 476.8h0M162.0 476.5h0M162.1 476.3h0M162.1 477.1h0M162.1 476.4h0M162.1 476.6h0M162.2 477.1h0M162.2 477.4h0M162.2 477.2h0M162.2 477.1h0M162.2 477.1h0M162.2 477.1h0M162.3 476.9h0M162.3 476.8h0M162.3 476.8h0M162.3 476.9h0M162.4 476.4h0M162.4 476.7h0M162.4 476.5h0M162.4 476.3h0M162.4 476.6h0M162.4 476.3h0M162.5 476.6h0M162.5 476.3h0M162.5 477.2h0M162.5 476.4h0M162.6 476.8h0M162.6 475.9h0M162.6 476.2h0M162.6 476.8h0M162.6 475.9h0M162.7 476.3h0M162.7 476.2h0M162.7 475.7h0M162.7 476.3h0M162.7 476.3h0M162.7 476.3h0M162.8 476.0h0M162.8 476.0h0M162.8 476.9h0M162.8 475.9h0M162.8 476.3h0M162.9 476.0h0M162.9 476.4h0M162.9 476.1h0M162.9 476.0h0M162.9 476.1h0M163.0 476.1h0M163.0 476.0h0M163.0 476.1h0M163.0 475.8h0M163.0 476.3h0M163.1 476.4h0M163.1 476.2h0M163.1 475.4h0M163.1 475.9h0M163.1 476.2h0M163.2 476.1h0M163.2 476.0h0M163.2 475.5h0M163.2 475.8h0M163.2 476.1h0M163.2 475.4h0M163.3 476.3h0M163.3 475.6h0M163.3 476.1h0M163.3 475.9h0M163.4 475.4h0M163.4 475.2h0M163.4 475.1h0M163.4 475.6h0M163.4 475.4h0M163.5 475.8h0M163.5 475.5h0M163.5 475.0h0M163.5 476.0h0M163.5 475.4h0M163.6 475.7h0M163.6 475.3h0M163.6 475.5h0M163.6 474.8h0M163.6 475.0h0M163.7 475.5h0M163.7 475.0h0M163.7 475.5h0M163.7 475.5h0M163.7 475.3h0M163.8 475.8h0M163.8 475.1h0M163.8 475.5h0M163.8 475.1h0M163.8 475.2h0M163.9 475.2h0M163.9 474.6h0M163.9 475.5h0M163.9 475.5h0M163.9 474.9h0M164.0 475.1h0M164.0 475.5h0M164.0 475.1h0M164.0 474.5h0M164.1 475.5h0M164.1 475.3h0M164.1 474.5h0M164.2 475.2h0M164.2 474.9h0M164.2 475.2h0M164.3 474.9h0M164.3 474.3h0M164.3 474.9h0M164.4 474.8h0M164.4 474.7h0M164.4 474.2h0M164.5 475.0h0M164.5 474.5h0M164.5 474.5h0M164.6 474.7h0M164.6 474.0h0M164.7 474.1h0M164.7 474.3h0M164.7 474.3h0M164.7 474.3h0M164.8 474.2h0M164.8 474.5h0M164.8 474.8h0M164.9 474.0h0M164.9 474.2h0M164.9 474.3h0M165.0 474.2h0M165.0 474.1h0M165.0 474.2h0M165.1 474.0h0M165.1 474.0h0M165.2 474.1h0M165.2 474.0h0M165.2 473.9h0M165.3 473.5h0M165.3 473.8h0M165.3 473.1h0M165.4 474.2h0M165.4 473.6h0M165.4 473.4h0M165.5 473.8h0M165.5 473.8h0M165.5 473.6h0M165.6 473.9h0M165.6 473.4h0M165.6 473.6h0M165.7 473.2h0M165.7 473.2h0M165.7 473.1h0M165.8 472.9h0M165.8 473.0h0M165.9 473.0h0M165.9 472.8h0M165.9 472.7h0M166.0 473.0h0M166.0 473.2h0M166.0 473.0h0M166.1 472.6h0M166.1 472.7h0M166.1 473.3h0M166.2 472.8h0M166.2 473.1h0M166.2 472.8h0M166.3 473.1h0M166.3 473.3h0M166.3 472.7h0M166.4 472.1h0M166.4 472.5h0M166.5 472.3h0M166.5 472.2h0M166.5 472.3h0M166.6 472.6h0M166.6 472.4h0M166.6 472.8h0M166.6 472.5h0M166.7 472.9h0M166.7 472.5h0M166.8 472.8h0M166.8 471.8h0M166.8 471.9h0M166.8 471.8h0M166.9 472.0h0M166.9 472.0h0M166.9 472.2h0M167.0 471.7h0M167.0 471.9h0M167.1 472.0h0M167.1 471.6h0M167.1 471.8h0M167.1 471.8h0M167.2 471.6h0M167.2 470.8h0M167.3 471.6h0M167.3 471.3h0M167.4 471.6h0M167.4 471.8h0M167.4 471.6h0M167.4 471.7h0M167.5 471.6h0M167.5 471.8h0M167.5 471.5h0M167.6 471.5h0M167.6 471.1h0M167.7 471.7h0M167.7 471.4h0M167.7 470.8h0M167.8 471.0h0M167.8 471.4h0M167.8 471.5h0M167.9 471.0h0M167.9 471.4h0M167.9 471.2h0M168.0 470.4h0M168.0 470.8h0M168.0 471.2h0M168.1 471.0h0M168.1 470.6h0M168.2 471.0h0M168.2 470.6h0M168.2 470.8h0M168.2 470.9h0M168.3 470.6h0M168.3 470.4h0M168.3 470.5h0M168.4 470.3h0M168.4 470.9h0M168.5 470.5h0M168.5 470.5h0M168.5 470.4h0M168.5 470.5h0M168.6 470.6h0M168.6 470.1h0M168.6 470.5h0M168.7 470.3h0M168.7 470.3h0M168.8 470.0h0M168.8 470.4h0M168.8 470.5h0M168.8 470.4h0M168.9 469.8h0M168.9 470.3h0M169.0 470.1h0M169.0 471.3h0M169.0 470.0h0M169.1 470.0h0M169.1 469.9h0M169.1 469.9h0M169.2 469.9h0M169.2 469.7h0M169.3 469.7h0M169.3 469.9h0M169.3 469.6h0M169.3 469.6h0M169.4 469.6h0M169.4 469.5h0M169.5 469.3h0M169.5 469.5h0M169.5 469.4h0M169.5 469.3h0M169.6 469.7h0M169.6 469.3h0M169.7 469.4h0M169.7 469.0h0M169.7 469.2h0M169.8 469.2h0M169.8 469.1h0M169.8 469.1h0M169.9 469.0h0M169.9 469.1h0M169.9 468.8h0M170.0 468.9h0M170.0 469.0h0M170.0 468.8h0M170.1 469.0h0M170.1 468.9h0M170.1 469.0h0M170.2 468.9h0M170.2 468.7h0M170.2 468.7h0M170.3 469.0h0M170.3 467.4h0M170.3 468.4h0M170.4 468.6h0M170.4 468.7h0M170.4 468.7h0M170.5 468.9h0M170.5 468.2h0M170.6 468.5h0M170.6 468.4h0M170.6 468.5h0M170.6 468.4h0M170.7 469.0h0M170.7 468.6h0M170.8 468.4h0M170.8 468.3h0M170.8 468.1h0M170.9 467.9h0M170.9 468.2h0M170.9 468.1h0M171.0 468.2h0M171.0 467.9h0M171.0 468.0h0M171.1 468.3h0M171.1 467.7h0M171.2 467.9h0M171.2 467.9h0M171.2 467.8h0M171.2 467.9h0M171.3 467.5h0M171.3 467.7h0M171.4 467.9h0M171.4 467.5h0M171.4 467.7h0M171.5 467.6h0M171.5 467.5h0M171.5 467.4h0M171.6 467.7h0M171.6 467.4h0M171.6 467.2h0M171.7 467.6h0M171.7 467.3h0M171.7 467.4h0M171.8 467.2h0M171.8 467.3h0M171.9 467.2h0M171.9 466.3h0M171.9 467.2h0M171.9 467.0h0M172.0 466.9h0M172.0 466.8h0M172.1 467.2h0M172.1 466.9h0M172.1 466.9h0M172.2 466.8h0M172.2 466.6h0M172.2 467.0h0M172.3 466.6h0M172.3 466.8h0M172.3 466.7h0M172.4 466.8h0M172.4 466.5h0M172.4 466.7h0M172.5 466.1h0M172.5 467.3h0M172.5 466.4h0M172.6 467.6h0M172.6 466.4h0M172.6 466.3h0M172.7 466.3h0M172.7 466.4h0M172.7 466.1h0M172.8 466.3h0M172.8 466.3h0M172.9 466.1h0M172.9 466.1h0M172.9 466.1h0M173.0 466.1h0M173.0 466.1h0M173.0 466.5h0M173.1 466.0h0M173.1 466.0h0M173.2 465.9h0M173.2 465.6h0M173.2 465.9h0M173.3 465.9h0M173.3 465.5h0M173.3 465.7h0M173.4 465.9h0M173.4 465.7h0M173.5 465.7h0M173.5 465.6h0M173.5 463.6h0M173.6 465.2h0M173.6 465.5h0M173.7 465.3h0M173.7 465.2h0M173.7 465.2h0M173.8 465.2h0M173.8 465.3h0M173.9 465.2h0M173.9 466.7h0M173.9 463.2h0M174.0 465.2h0M174.0 464.8h0M174.0 463.6h0M174.1 465.1h0M174.1 464.8h0M174.2 464.7h0M174.2 464.8h0M174.2 464.7h0M174.3 464.7h0M174.3 464.6h0M174.3 464.9h0M174.4 464.7h0M174.4 464.5h0M174.5 464.7h0M174.5 464.5h0M174.5 464.3h0M174.6 464.3h0M174.6 464.4h0M174.7 464.3h0M174.7 464.2h0M174.7 464.1h0M174.8 464.3h0M174.8 464.1h0M174.8 464.2h0M174.9 464.1h0M174.9 463.9h0M175.0 464.1h0M175.0 463.9h0M175.0 463.9h0M175.1 463.9h0M175.1 463.6h0M175.2 464.0h0M175.2 463.8h0M175.2 463.7h0M175.3 463.6h0M175.3 463.6h0M175.3 463.6h0M175.4 463.4h0M175.4 463.8h0M175.5 463.5h0M175.5 463.6h0M175.5 462.6h0M175.6 463.4h0M175.6 463.5h0M175.6 463.1h0M175.7 463.0h0M175.7 463.4h0M175.7 463.4h0M175.8 463.0h0M175.8 463.4h0M175.9 463.2h0M175.9 462.7h0M175.9 463.1h0M176.0 463.5h0M176.0 463.1h0M176.0 462.7h0M176.1 462.8h0M176.1 462.8h0M176.2 463.1h0M176.2 464.2h0M176.3 462.7h0M176.3 463.0h0M176.3 462.3h0M176.4 463.6h0M176.4 462.6h0M176.5 462.6h0M176.5 462.6h0M176.5 462.3h0M176.6 462.5h0M176.6 462.4h0M176.6 462.4h0M176.7 462.4h0M176.7 462.4h0M176.7 462.4h0M176.8 462.1h0M176.8 462.0h0M176.9 462.0h0M176.9 462.2h0M177.0 462.0h0M177.0 461.7h0M177.0 462.0h0M177.1 461.9h0M177.1 462.2h0M177.1 462.1h0M177.2 461.9h0M177.2 461.8h0M177.3 461.7h0M177.3 461.7h0M177.3 461.4h0M177.4 461.6h0M177.4 461.7h0M177.4 461.5h0M177.5 461.6h0M177.5 461.5h0M177.5 461.4h0M177.6 461.5h0M177.6 461.1h0M177.7 461.4h0M177.7 461.2h0M177.7 461.7h0M177.8 460.7h0M177.8 461.2h0M177.9 461.4h0M177.9 461.1h0M177.9 461.0h0M178.0 461.3h0M178.0 462.1h0M178.0 460.9h0M178.1 460.9h0M178.1 461.0h0M178.2 461.1h0M178.2 460.6h0M178.2 460.9h0M178.3 460.8h0M178.3 460.7h0M178.3 460.7h0M178.4 460.6h0M178.4 460.4h0M178.5 460.8h0M178.5 460.2h0M178.5 460.4h0M178.6 460.3h0M178.6 460.5h0M178.7 460.4h0M178.7 460.2h0M178.8 460.4h0M178.8 460.0h0M178.8 458.6h0M178.8 460.4h0M178.9 460.0h0M178.9 459.1h0M179.0 460.1h0M179.0 460.1h0M179.0 460.2h0M179.1 459.7h0M179.1 460.0h0M179.2 459.9h0M179.2 460.0h0M179.2 459.8h0M179.3 459.5h0M179.3 459.7h0M179.3 458.5h0M179.4 459.6h0M179.4 459.7h0M179.5 459.3h0M179.5 459.7h0M179.5 459.5h0M179.6 460.7h0M179.6 459.4h0M179.6 459.2h0M179.7 459.3h0M179.7 459.2h0M179.8 459.3h0M179.8 459.3h0M179.9 459.1h0M179.9 459.0h0M179.9 459.2h0M180.0 460.6h0M180.0 459.0h0M180.0 459.0h0M180.1 459.0h0M180.1 458.9h0M180.2 458.6h0M180.2 458.6h0M180.2 458.8h0M180.2 458.5h0M180.3 458.9h0M180.3 458.7h0M180.4 458.7h0M180.4 458.5h0M180.5 458.5h0M180.5 458.4h0M180.5 458.6h0M180.6 458.7h0M180.6 458.3h0M180.6 458.0h0M180.7 459.7h0M180.7 458.3h0M180.8 458.1h0M180.8 458.3h0M180.9 458.2h0M180.9 458.3h0M180.9 458.1h0M181.0 458.0h0M181.0 457.7h0M181.0 458.3h0M181.0 457.9h0M181.1 457.8h0M181.2 457.8h0M181.2 458.0h0M181.2 457.9h0M181.2 457.5h0M181.3 458.0h0M181.3 457.3h0M181.4 459.5h0M181.4 457.6h0M181.4 457.2h0M181.5 457.8h0M181.5 457.5h0M181.6 458.1h0M181.6 457.2h0M181.7 457.5h0M181.7 457.4h0M181.7 455.7h0M181.7 456.4h0M181.8 457.2h0M181.8 457.2h0M181.9 457.1h0M181.9 457.4h0M181.9 456.8h0M182.0 456.8h0M182.0 457.1h0M182.1 457.1h0M182.1 457.2h0M182.2 457.1h0M182.2 456.9h0M182.2 456.7h0M182.2 456.9h0M182.3 456.7h0M182.3 456.5h0M182.4 456.5h0M182.4 456.2h0M182.4 456.6h0M182.5 456.6h0M182.5 456.3h0M182.6 456.2h0M182.6 456.5h0M182.6 456.7h0M182.7 456.4h0M182.7 455.7h0M182.7 456.1h0M182.8 456.2h0M182.8 456.2h0M182.9 456.0h0M182.9 456.1h0M182.9 456.2h0M183.0 455.8h0M183.0 456.1h0M183.1 456.2h0M183.1 455.7h0M183.1 455.8h0M183.2 456.8h0M183.2 455.9h0M183.3 455.9h0M183.3 455.7h0M183.3 455.6h0M183.4 455.6h0M183.4 455.4h0M183.4 455.6h0M183.5 455.2h0M183.5 455.7h0M183.6 455.6h0M183.6 455.6h0M183.6 455.6h0M183.7 455.0h0M183.7 455.6h0M183.8 455.2h0M183.8 455.1h0M183.8 455.2h0M183.9 455.2h0M183.9 455.2h0M183.9 454.9h0M184.0 455.0h0M184.0 455.0h0M184.0 455.1h0M184.1 454.8h0M184.1 455.0h0M184.2 454.8h0M184.2 454.9h0M184.2 454.5h0M184.3 454.9h0M184.3 454.8h0M184.3 454.5h0M184.4 454.3h0M184.4 454.7h0M184.4 454.7h0M184.5 454.7h0M184.6 454.6h0M184.6 454.4h0M184.6 454.2h0M184.6 454.3h0M184.7 453.8h0M184.7 454.1h0M184.8 455.3h0M184.8 454.3h0M184.8 454.0h0M184.9 455.7h0M184.9 454.1h0M184.9 454.2h0M185.0 454.0h0M185.0 453.7h0M185.1 454.1h0M185.1 454.1h0M185.2 453.8h0M185.2 453.8h0M185.2 454.0h0M185.3 453.8h0M185.3 453.8h0M185.3 453.6h0M185.4 453.5h0M185.4 453.4h0M185.4 453.5h0M185.5 453.6h0M185.5 453.4h0M185.6 454.0h0M185.6 453.5h0M185.6 453.6h0M185.7 453.5h0M185.7 453.5h0M185.8 453.1h0M185.8 453.4h0M185.8 453.2h0M185.9 453.2h0M185.9 452.9h0M186.0 452.9h0M186.0 452.8h0M186.0 453.0h0M186.0 452.9h0M186.1 452.6h0M186.1 453.1h0M186.2 452.7h0M186.2 452.6h0M186.3 452.9h0M186.3 452.7h0M186.3 452.6h0M186.4 452.5h0M186.4 452.6h0M186.5 452.3h0M186.5 452.4h0M186.5 452.5h0M186.6 452.7h0M186.6 452.4h0M186.6 452.6h0M186.7 452.1h0M186.7 452.2h0M186.8 452.1h0M186.8 452.3h0M186.8 452.4h0M186.8 452.0h0M186.9 452.2h0M186.9 452.0h0M187.0 452.0h0M187.0 451.9h0M187.0 451.8h0M187.1 451.7h0M187.1 452.0h0M187.1 451.8h0M187.2 451.8h0M187.2 451.7h0M187.3 451.6h0M187.3 451.8h0M187.3 451.6h0M187.4 451.6h0M187.4 451.7h0M187.4 451.9h0M187.5 452.0h0M187.5 451.4h0M187.6 451.7h0M187.6 451.6h0M187.6 451.3h0M187.7 450.5h0M187.7 451.2h0M187.8 451.5h0M187.8 450.9h0M187.8 451.2h0M187.9 451.2h0M187.9 450.7h0M188.0 451.0h0M188.0 451.2h0M188.0 450.9h0M188.1 450.8h0M188.1 452.0h0M188.1 451.0h0M188.2 450.7h0M188.2 451.0h0M188.3 450.6h0M188.3 450.7h0M188.3 450.7h0M188.4 450.6h0M188.4 450.6h0M188.4 450.3h0M188.5 450.6h0M188.5 450.5h0M188.6 450.3h0M188.6 450.1h0M188.6 450.4h0M188.7 450.4h0M188.7 450.4h0M188.7 450.2h0M188.8 450.0h0M188.8 450.5h0M188.9 450.4h0M188.9 450.1h0M188.9 449.8h0M189.0 450.0h0M189.0 450.3h0M189.0 450.0h0M189.1 449.8h0M189.1 449.6h0M189.2 449.9h0M189.2 449.7h0M189.2 449.6h0M189.3 450.0h0M189.3 449.5h0M189.4 449.4h0M189.4 450.6h0M189.4 449.4h0M189.5 449.7h0M189.5 449.4h0M189.5 449.5h0M189.6 449.5h0M189.6 449.4h0M189.6 449.3h0M189.7 449.0h0M189.7 449.6h0M189.8 449.3h0M189.8 449.1h0M189.8 449.2h0M189.9 449.3h0M189.9 448.8h0M189.9 448.8h0M190.0 449.0h0M190.0 449.2h0M190.1 449.0h0M190.1 448.9h0M190.2 448.3h0M190.2 448.6h0M190.2 448.7h0M190.3 448.9h0M190.3 448.6h0M190.3 448.7h0M190.4 448.6h0M190.4 448.5h0M190.4 448.4h0M190.5 448.4h0M190.5 448.5h0M190.6 448.2h0M190.6 448.4h0M190.6 448.4h0M190.7 448.3h0M190.7 448.1h0M190.8 446.5h0M190.8 448.1h0M190.8 448.1h0M190.9 448.0h0M190.9 448.3h0M190.9 448.0h0M191.0 448.1h0M191.0 447.9h0M191.1 447.8h0M191.1 448.0h0M191.1 447.6h0M191.2 447.8h0M191.2 447.6h0M191.2 447.9h0M191.3 447.6h0M191.3 447.6h0M191.4 447.4h0M191.4 447.9h0M191.4 447.7h0M191.5 447.6h0M191.5 447.5h0M191.5 447.7h0M191.6 447.5h0M191.6 447.3h0M191.6 447.3h0M191.7 447.3h0M191.7 447.4h0M191.8 447.4h0M191.8 447.3h0M191.8 447.2h0M191.9 447.0h0M191.9 447.0h0M192.0 446.8h0M192.0 447.3h0M192.0 447.0h0M192.1 447.0h0M192.1 446.7h0M192.1 446.7h0M192.2 446.8h0M192.2 445.1h0M192.3 447.0h0M192.3 446.6h0M192.3 446.6h0M192.4 446.5h0M192.4 446.7h0M192.4 446.4h0M192.5 446.3h0M192.5 446.6h0M192.6 446.3h0M192.6 446.3h0M192.6 446.1h0M192.7 446.5h0M192.7 446.2h0M192.8 447.2h0M192.8 446.0h0M192.8 446.3h0M192.9 446.3h0M192.9 446.2h0M192.9 446.1h0M193.0 446.2h0M193.0 446.1h0M193.1 446.0h0M193.1 445.7h0M193.1 445.7h0M193.2 445.9h0M193.2 445.8h0M193.2 445.8h0M193.3 445.5h0M193.3 445.4h0M193.4 445.5h0M193.4 445.8h0M193.4 445.3h0M193.5 445.5h0M193.5 445.3h0M193.6 445.3h0M193.6 445.3h0M193.6 446.3h0M193.7 445.4h0M193.7 445.1h0M193.7 445.0h0M193.8 445.4h0M193.8 445.3h0M193.9 445.1h0M193.9 445.0h0M193.9 444.0h0M194.0 444.8h0M194.0 445.0h0M194.0 445.2h0M194.1 445.1h0M194.1 444.8h0M194.1 444.8h0M194.2 444.5h0M194.2 444.8h0M194.3 445.8h0M194.3 444.9h0M194.3 444.8h0M194.4 444.6h0M194.4 444.6h0M194.5 444.5h0M194.5 444.4h0M194.6 444.5h0M194.6 444.5h0M194.6 444.2h0M194.7 444.3h0M194.7 444.3h0M194.7 444.2h0M194.8 444.2h0M194.8 444.0h0M194.9 444.0h0M194.9 444.0h0M194.9 444.1h0M195.0 444.0h0M195.0 444.2h0M195.0 443.9h0M195.1 443.9h0M195.1 443.7h0M195.1 443.8h0M195.2 443.6h0M195.2 444.0h0M195.2 443.7h0M195.3 443.7h0M195.3 443.8h0M195.4 443.9h0M195.4 443.5h0M195.4 443.7h0M195.5 443.5h0M195.5 443.6h0M195.6 443.3h0M195.6 443.4h0M195.6 443.3h0M195.7 443.3h0M195.7 443.2h0M195.8 443.1h0M195.8 443.1h0M195.8 443.5h0M195.9 442.9h0M195.9 442.9h0M195.9 443.5h0M196.0 443.0h0M196.0 443.0h0M196.1 443.0h0M196.1 442.9h0M196.1 443.0h0M196.2 442.9h0M196.2 442.9h0M196.3 442.7h0M196.3 444.0h0M196.3 442.9h0M196.3 442.7h0M196.4 442.9h0M196.4 442.5h0M196.5 442.7h0M196.5 442.4h0M196.5 442.4h0M196.6 442.4h0M196.6 442.3h0M196.6 442.6h0M196.7 442.7h0M196.7 442.2h0M196.8 442.3h0M196.8 442.0h0M196.8 442.3h0M196.9 442.1h0M196.9 442.1h0M197.0 441.9h0M197.0 442.1h0M197.0 442.0h0M197.1 442.0h0M197.1 441.8h0M197.1 441.8h0M197.2 441.6h0M197.2 441.7h0M197.3 441.9h0M197.3 441.6h0M197.4 441.7h0M197.4 441.6h0M197.4 441.6h0M197.5 441.3h0M197.5 441.5h0M197.5 441.5h0M197.5 441.3h0M197.6 441.5h0M197.6 441.2h0M197.7 441.3h0M197.7 441.1h0M197.7 441.2h0M197.8 441.5h0M197.8 441.0h0M197.9 441.1h0M197.9 441.6h0M198.0 441.2h0M198.0 440.9h0M198.0 441.2h0M198.0 440.6h0M198.1 440.9h0M198.1 440.8h0M198.2 441.0h0M198.2 440.7h0M198.2 440.8h0M198.3 440.8h0M198.3 440.9h0M198.3 440.6h0M198.4 440.7h0M198.4 440.7h0M198.5 440.5h0M198.5 440.4h0M198.6 440.5h0M198.6 440.4h0M198.6 440.5h0M198.7 440.6h0M198.7 440.4h0M198.7 440.5h0M198.8 440.0h0M198.8 440.3h0M198.9 439.9h0M198.9 440.3h0M198.9 440.3h0M198.9 440.0h0M199.0 439.9h0M199.1 440.2h0M199.1 440.0h0M199.1 439.7h0M199.2 439.5h0M199.2 440.0h0M199.2 439.7h0M199.3 439.7h0M199.3 439.6h0M199.4 439.8h0M199.4 439.8h0M199.4 439.6h0M199.5 439.5h0M199.5 439.4h0M199.5 439.6h0M199.6 439.5h0M199.6 439.4h0M199.6 439.7h0M199.7 439.2h0M199.7 439.3h0M199.8 439.1h0M199.8 439.3h0M199.9 439.0h0M199.9 438.9h0M199.9 439.1h0M200.0 439.1h0M200.0 439.3h0M200.0 439.2h0M200.0 438.8h0M200.1 439.1h0M200.1 439.0h0M200.2 438.8h0M200.2 438.9h0M200.2 438.9h0M200.3 438.9h0M200.3 438.9h0M200.3 438.5h0M200.4 438.3h0M200.4 438.7h0M200.5 438.5h0M200.5 438.5h0M200.5 438.4h0M200.6 438.4h0M200.6 438.4h0M200.7 438.6h0M200.7 438.4h0M200.7 438.3h0M197.5 440.9h0M197.6 442.0h0M197.7 441.8h0M197.7 441.7h0M197.9 440.7h0M197.9 441.1h0M197.9 441.0h0M198.0 440.3h0M198.1 441.3h0M198.2 440.7h0M198.3 440.4h0M198.3 440.5h0M198.4 439.9h0M198.5 440.6h0M198.5 440.9h0M198.6 440.0h0M198.7 439.8h0M198.8 440.3h0M198.8 440.2h0M198.8 440.1h0M199.0 440.5h0M199.0 440.4h0M199.1 440.1h0M199.1 439.7h0M199.2 439.7h0M201.0 438.1h0M201.3 436.9h0M201.8 435.7h0M202.3 436.4h0M202.6 437.4h0M203.0 437.1h0M203.6 434.5h0M204.3 434.4h0M204.5 434.2h0M205.0 434.0h0M205.5 433.3h0M206.0 432.6h0M206.3 433.3h0M206.9 431.9h0M207.5 431.1h0M207.7 431.7h0M208.3 432.1h0M208.7 429.9h0M209.1 428.4h0M209.7 429.0h0M210.2 427.9h0M210.6 427.4h0M211.1 427.8h0M211.4 428.9h0M212.0 426.8h0M212.2 426.3h0M212.9 425.5h0M213.2 426.2h0M213.4 426.2h0M213.9 425.2h0M214.5 424.7h0M214.9 425.6h0M215.6 424.3h0M215.8 423.8h0M216.2 424.4h0M216.9 421.5h0M217.2 422.6h0M217.6 420.0h0M218.3 422.0h0M218.5 420.4h0M218.9 420.6h0M219.4 420.0h0M220.0 419.7h0M220.6 417.7h0M221.0 417.4h0M221.3 419.3h0M221.6 417.3h0M222.1 417.2h0M222.7 415.0h0M223.2 416.5h0M223.6 415.9h0M224.0 416.4h0M224.5 413.0h0M225.1 413.6h0M225.5 414.6h0M225.9 413.6h0M226.5 412.3h0M227.0 412.8h0M227.3 411.8h0M227.5 411.4h0M228.1 410.7h0M228.7 409.6h0M229.2 409.4h0M229.5 410.0h0M230.0 409.1h0M230.2 409.4h0M230.8 407.1h0M231.3 408.1h0M231.8 406.1h0M232.1 407.6h0M232.7 405.5h0M232.9 405.7h0M233.3 406.9h0M233.9 406.3h0M234.3 404.1h0M235.0 404.5h0M235.6 404.4h0M236.0 404.0h0M236.2 402.5h0M236.9 401.5h0M237.2 403.3h0M237.5 401.5h0M238.0 401.5h0M238.5 399.3h0M239.2 399.8h0M239.6 397.8h0M239.8 399.4h0M240.5 399.0h0M240.9 396.6h0M241.2 397.7h0M241.5 396.8h0M242.3 396.2h0M242.6 395.0h0M242.9 394.8h0M243.5 396.9h0M243.9 395.0h0M244.3 393.8h0M244.7 394.8h0M245.1 393.4h0M245.9 393.9h0M246.0 392.3h0M246.8 392.9h0M247.3 390.9h0M247.5 391.9h0M248.1 391.3h0M248.3 390.6h0M249.0 389.4h0M249.3 390.6h0M249.8 389.3h0M250.2 388.9h0M250.6 387.8h0M251.4 387.8h0M252.2 388.3h0M252.5 386.1h0M252.8 386.6h0M253.5 385.1h0M254.0 385.0h0M255.1 384.1h0M255.2 383.5h0M256.1 382.8h0M256.3 382.3h0M257.1 381.6h0M257.7 381.8h0M258.5 381.1h0M259.0 379.2h0M259.2 378.7h0M260.0 379.1h0M260.5 379.0h0M261.2 378.1h0M262.0 376.4h0M262.3 376.2h0M262.8 375.5h0M263.6 374.3h0M264.3 374.0h0M264.9 375.6h0M265.3 374.0h0M265.8 373.2h0M266.1 372.6h0M267.0 373.0h0M267.7 370.8h0M267.8 371.1h0M268.6 371.2h0M269.0 370.5h0M269.8 369.4h0M270.5 368.8h0M270.8 368.2h0M271.7 368.1h0M272.0 366.0h0M272.9 365.2h0M273.2 367.3h0M274.0 366.1h0M274.5 363.0h0M274.7 365.2h0M275.9 363.1h0M276.1 362.4h0M276.9 362.4h0M277.2 362.5h0M277.7 360.9h0M278.3 360.3h0M279.1 360.1h0M279.8 357.8h0M280.0 358.0h0M280.9 358.7h0M281.4 356.6h0M281.8 357.5h0M282.6 355.6h0M283.1 355.3h0M283.9 355.5h0M284.1 356.2h0M284.8 355.6h0M285.3 353.6h0M285.9 352.8h0M286.4 353.2h0M286.9 353.0h0M287.8 351.9h0M288.2 350.5h0M289.0 349.4h0M289.6 348.3h0M290.3 348.1h0M290.7 347.9h0M291.2 348.4h0M292.0 348.1h0M292.4 347.6h0M292.8 346.2h0M293.2 345.6h0M294.2 344.7h0M294.7 344.3h0M295.1 344.0h0M295.9 342.2h0M296.4 342.2h0M296.7 341.6h0M297.3 341.1h0M298.4 341.3h0M298.5 339.8h0M299.4 340.0h0M300.1 340.0h0M300.2 339.0h0M300.8 338.3h0M301.6 337.3h0M301.9 337.0h0M302.9 334.6h0M303.2 336.4h0M304.1 334.5h0M304.6 334.0h0M305.3 334.3h0M305.4 335.0h0M306.1 332.7h0M306.7 332.7h0M307.1 331.5h0M308.0 331.4h0M308.7 330.7h0M309.2 329.7h0M309.4 330.1h0M310.2 328.9h0M310.6 327.8h0M311.5 326.7h0M312.1 327.4h0M312.7 325.7h0M313.1 327.0h0M313.6 324.3h0M314.2 324.4h0M314.5 323.4h0M315.5 323.2h0M316.1 322.8h0M316.6 322.0h0M317.0 321.8h0M317.5 320.6h0M318.5 320.5h0M319.0 319.2h0M319.5 319.6h0M319.8 318.8h0M320.7 318.3h0M321.0 317.9h0M321.6 317.1h0M322.2 316.3h0M322.8 316.1h0M323.3 315.5h0M324.3 315.4h0M324.9 314.5h0M325.0 313.2h0M326.0 312.0h0M326.4 312.5h0M327.1 311.0h0M327.7 311.6h0M328.3 310.7h0M328.4 310.4h0M329.2 310.3h0M330.1 308.4h0M330.1 308.9h0M330.8 308.3h0M331.3 306.9h0M332.2 306.8h0M332.7 307.6h0M333.4 304.6h0M333.9 304.8h0M334.6 304.2h0M335.0 305.0h0M335.4 304.0h0M336.0 302.3h0M336.4 303.1h0M338.6 299.3h0M341.3 297.8h0M343.0 297.8h0M346.4 291.2h0M348.0 292.6h0M350.8 288.0h0M353.1 287.5h0M353.7 285.1h0M356.1 284.2h0M360.1 280.0h0M361.7 276.1h0M365.2 273.5h0M367.1 271.8h0M369.5 271.1h0M371.9 266.6h0M373.2 266.4h0M376.3 263.5h0M379.0 258.2h0M380.6 258.0h0M383.5 256.2h0M386.7 251.9h0M389.1 251.1h0M389.7 251.8h0M393.7 244.1h0M394.2 244.1h0M398.1 239.3h0M399.9 240.0h0M403.1 236.1h0M403.6 236.3h0M406.0 233.7h0M410.3 227.9h0M411.0 226.8h0M413.3 226.6h0M415.8 225.6h0M418.7 218.8h0M421.3 219.3h0M423.9 215.9h0M426.7 212.6h0M428.3 210.9h0M429.9 209.9h0M434.9 202.9h0M439.8 199.6h0M445.6 192.3h0M448.9 187.5h0M455.2 183.9h0M459.9 182.0h0M466.4 173.6h0M473.7 165.9h0M476.7 163.5h0M484.5 154.1h0M490.1 148.7h0M494.4 145.1h0M502.1 136.2h0M503.9 133.9h0M512.2 125.6h0M516.5 123.2h0M520.0 120.1h0M525.0 113.2h0M530.1 107.5h0M536.8 102.1h0M540.6 99.3h0M549.8 89.7h0M556.0 81.7h0M184.9 452.2h0M184.4 452.5h0M181.6 455.1h0M183.6 454.2h0M184.2 454.0h0M186.3 453.9h0M181.3 456.6h0M182.9 457.3h0M181.8 458.9h0M185.4 453.0h0M195.5 442.0h0M197.0 443.3h0M190.9 446.6h0M188.7 447.3h0M188.2 449.0h0M189.2 448.5h0M187.2 450.4h0M157.8 482.7h0M170.3 470.1h0M169.1 471.3h0M169.8 471.0h0M167.8 470.2h0M167.0 471.0h0M177.7 459.0h0M177.0 459.9h0M180.0 462.7h0M176.8 464.0h0M178.2 462.3h0M174.9 466.1h0M174.2 466.3h0M171.0 466.6h0M194.7 448.7h0M195.1 456.0h0M191.7 449.1h0M185.2 458.3h0M188.8 447.3h0M247.5 403.3h0M202.2 429.2h0M203.3 444.2h0M232.5 412.5h0M289.5 363.3h0M334.7 294.2h0M292.0 342.0h0M352.5 277.2h0M334.2 293.8h0M471.7 142.2h0M475.8 174.2h0M449.5 181.2h0M441.7 189.2h0M551.0 106.4h0M526.2 117.2h0M546.5 91.7h0M552.0 91.0h0M534.5 103.7h0M530.0 109.7h0M515.0 124.0h0M510.5 130.0h0M500.0 139.0h0M494.0 146.5h0M488.7 150.2h0M478.2 160.0h0" stroke="#ff8c00" stroke-width="6.60" stroke-linecap="round" fill="none"/>
<path d="M120.75 518.25L553.25 85.75" stroke="#787878" stroke-width="0.95" stroke-dasharray="2.6 1.35" fill="none"/>
</g>
<rect x="121.45" y="86.45" width="433" height="432.9" fill="none" stroke="#cccccc" stroke-width="2.75"/>
<clipPath id="c2"><rect x="707.80" y="85.75" width="432.50" height="432.50"/></clipPath>
<g clip-path="url(#c2)">
<path d="M744 518.90V85.75M823 518.90V85.75M902 518.90V85.75M980 518.90V85.75M1059 518.90V85.75M1138 518.90V85.75M708.30 483H1141.30M708.30 404H1141.30M708.30 325H1141.30M708.30 247H1141.30M708.30 168H1141.30M708.30 89H1141.30" stroke="#cccccc" stroke-width="2.2" stroke-dasharray="8.1 3.675" fill="none"/>
<path d="M731.8 496.0h0M731.9 496.8h0M732.1 495.5h0M732.2 495.4h0M732.3 494.3h0M732.5 494.6h0M732.5 495.8h0M732.6 496.1h0M732.7 492.8h0M732.8 494.4h0M733.0 493.8h0M733.1 493.5h0M733.2 493.7h0M733.3 492.5h0M733.5 494.2h0M733.6 493.9h0M733.6 493.7h0M733.7 492.5h0M733.9 494.5h0M734.0 494.3h0M734.1 493.7h0M734.3 492.3h0M734.3 494.4h0M734.5 491.1h0M734.6 491.9h0M734.7 491.8h0M734.8 490.4h0M734.9 492.4h0M735.0 492.2h0M735.1 491.8h0M735.3 492.9h0M735.4 490.5h0M735.5 490.8h0M735.6 491.2h0M735.7 491.9h0M735.8 490.7h0M735.9 491.5h0M736.0 492.0h0M736.1 490.7h0M736.3 490.0h0M736.4 491.3h0M736.5 492.2h0M736.6 492.0h0M736.7 491.6h0M736.8 488.1h0M737.0 489.5h0M737.1 490.0h0M737.2 492.8h0M737.3 490.5h0M737.5 492.7h0M737.5 491.5h0M737.6 488.9h0M737.8 488.2h0M737.9 489.6h0M738.0 489.7h0M738.1 491.2h0M738.2 488.5h0M738.3 491.4h0M738.4 489.2h0M738.5 486.6h0M738.6 486.9h0M738.8 487.2h0M738.9 488.0h0M739.0 488.8h0M739.2 489.4h0M739.3 487.6h0M739.3 487.8h0M739.5 489.0h0M739.6 486.0h0M739.6 486.8h0M739.9 486.2h0M739.9 484.2h0M740.0 486.0h0M740.1 486.5h0M740.2 486.5h0M740.4 484.9h0M740.5 487.7h0M740.6 486.3h0M740.7 486.5h0M740.9 485.2h0M740.9 485.2h0M741.0 486.9h0M741.2 488.2h0M741.3 485.3h0M741.4 485.3h0M741.5 486.2h0M741.6 488.7h0M741.7 483.9h0M741.9 482.6h0M742.0 484.3h0M742.1 487.3h0M742.1 482.6h0M742.3 486.4h0M742.4 484.1h0M742.5 482.8h0M742.7 484.6h0M742.8 484.4h0M742.9 482.3h0M743.0 482.2h0M743.1 484.7h0M743.2 485.5h0M743.4 481.4h0M743.5 483.7h0M743.6 482.4h0M743.7 483.9h0M743.8 483.4h0M743.9 481.4h0M744.0 485.1h0M744.1 485.5h0M744.3 482.4h0M744.4 482.5h0M744.5 483.8h0M744.5 485.3h0M744.7 483.5h0M744.8 480.5h0M744.9 486.2h0M745.1 485.5h0M745.1 483.0h0M745.3 484.8h0M745.4 480.3h0M745.5 484.0h0M745.6 478.5h0M745.7 480.3h0M745.9 478.6h0M745.9 479.9h0M746.1 484.9h0M746.2 484.4h0M746.3 479.7h0M746.4 479.6h0M746.5 481.8h0M746.6 484.6h0M746.7 479.7h0M746.9 480.4h0M747.0 475.9h0M747.0 482.2h0M747.2 478.9h0M747.3 480.8h0M747.5 479.5h0M747.5 482.8h0M747.6 474.9h0M747.7 478.0h0M747.9 478.5h0M748.0 478.5h0M748.2 479.8h0M748.2 483.3h0M748.3 482.0h0M748.5 479.9h0M748.5 477.5h0M748.7 478.8h0M748.8 479.7h0M748.9 474.3h0M749.0 480.6h0M749.1 484.9h0M749.3 478.3h0M749.4 476.4h0M749.5 481.1h0M749.6 477.6h0M749.7 474.9h0M749.9 479.3h0M749.9 480.7h0M750.0 478.8h0M750.2 474.3h0M750.2 475.5h0M750.4 483.8h0M750.5 476.0h0M750.6 477.5h0M750.8 475.2h0M750.9 479.9h0M751.0 477.7h0M751.1 477.7h0M751.2 478.5h0M751.3 474.7h0M751.4 480.9h0M751.5 477.7h0M751.7 472.8h0M751.7 476.4h0M751.9 473.9h0M752.0 479.3h0M752.1 478.8h0M752.2 473.4h0M752.3 473.3h0M752.4 474.4h0M752.5 470.7h0M752.7 474.0h0M752.8 475.8h0M752.9 473.1h0M753.0 469.0h0M753.1 473.5h0M753.2 476.8h0M753.3 475.3h0M753.4 470.1h0M753.5 474.9h0M753.7 476.5h0M753.8 471.3h0M753.9 477.9h0M754.0 473.7h0M754.1 472.3h0M754.3 475.4h0M754.4 473.6h0M754.4 475.1h0M754.6 472.9h0M754.7 476.3h0M754.8 474.6h0M755.0 466.4h0M755.0 473.4h0M755.2 474.8h0M755.3 469.1h0M755.4 468.5h0M755.5 467.0h0M755.6 471.6h0M755.7 469.1h0M755.9 476.3h0M755.9 474.9h0M756.1 472.0h0M756.2 472.9h0M756.3 482.5h0M756.4 472.7h0M756.5 474.2h0M756.6 472.0h0M756.8 467.1h0M756.9 472.7h0M757.0 468.2h0M757.1 464.1h0M757.3 472.8h0M757.3 464.8h0M757.5 469.9h0M757.6 465.6h0M757.7 469.7h0M757.8 469.9h0M757.9 476.7h0M758.1 472.2h0M758.1 474.1h0M758.2 475.3h0M758.3 473.8h0M758.4 471.9h0M758.6 466.8h0M758.7 463.3h0M758.8 466.0h0M759.0 468.8h0M759.0 470.9h0M759.1 462.5h0M759.3 470.2h0M759.4 464.2h0M759.5 462.9h0M759.6 464.2h0M759.7 468.2h0M759.8 465.1h0M760.0 465.9h0M760.1 461.3h0M760.1 467.6h0M760.3 465.6h0M760.4 469.2h0M760.5 465.2h0M760.6 467.6h0M760.8 469.2h0M760.9 464.2h0M761.0 465.2h0M761.1 468.7h0M761.2 469.9h0M761.3 462.0h0M761.4 473.0h0M761.5 466.4h0M761.6 463.0h0M761.7 461.3h0M761.9 464.9h0M761.9 460.3h0M762.1 462.8h0M762.2 469.8h0M762.3 461.8h0M762.4 464.7h0M762.6 466.0h0M762.7 467.7h0M762.8 464.6h0M762.9 463.7h0M763.0 465.5h0M763.2 464.9h0M763.3 471.9h0M763.4 464.5h0M763.5 460.4h0M763.6 463.3h0M763.7 470.8h0M763.8 457.8h0M763.9 458.8h0M764.0 462.9h0M764.2 457.1h0M764.2 472.5h0M764.4 456.9h0M764.5 462.0h0M764.7 460.4h0M764.7 462.0h0M764.9 454.3h0M765.0 456.5h0M765.0 460.2h0M765.2 464.3h0M765.2 464.0h0M765.4 468.2h0M765.5 461.3h0M765.6 462.1h0M765.7 463.3h0M765.8 462.5h0M766.0 461.0h0M766.1 455.6h0M766.2 464.7h0M766.3 455.4h0M766.4 462.9h0M766.5 461.4h0M766.7 461.3h0M766.7 457.1h0M766.9 458.6h0M767.0 460.6h0M767.1 451.0h0M767.3 464.2h0M767.3 452.9h0M767.4 462.1h0M767.5 462.6h0M767.7 461.4h0M767.8 458.8h0M767.9 462.3h0M768.0 456.8h0M768.1 454.8h0M768.2 458.6h0M768.3 453.3h0M768.5 457.0h0M768.6 463.7h0M768.7 458.5h0M768.8 464.6h0M768.9 462.4h0M769.1 456.9h0M769.2 465.1h0M769.3 452.4h0M769.4 455.8h0M769.5 457.7h0M769.6 454.7h0M769.8 450.3h0M769.8 454.8h0M770.0 459.1h0M770.1 457.6h0M770.2 459.6h0M770.4 458.4h0M770.4 458.6h0M770.5 452.6h0M770.6 453.8h0M770.7 458.5h0M770.9 455.0h0M771.0 458.0h0M771.1 453.0h0M771.2 459.4h0M771.3 459.9h0M771.4 459.6h0M771.6 456.9h0M771.7 451.2h0M771.8 450.8h0M771.8 455.0h0M772.0 461.7h0M772.2 454.5h0M772.3 449.8h0M772.3 453.4h0M772.4 461.0h0M772.6 464.3h0M772.7 452.4h0M772.9 458.6h0M772.9 448.8h0M773.0 459.5h0M773.1 451.5h0M773.2 450.6h0M773.4 459.2h0M773.5 454.5h0M773.6 452.2h0M773.7 450.9h0M773.8 453.9h0M773.9 451.9h0M774.1 460.6h0M774.1 455.4h0M774.3 455.9h0M774.4 448.2h0M774.5 447.7h0M774.6 458.0h0M774.8 447.2h0M774.8 450.5h0M775.0 445.6h0M775.1 456.2h0M775.2 449.3h0M775.4 447.6h0M775.4 454.1h0M775.5 450.7h0M775.7 446.3h0M775.7 449.8h0M775.9 451.3h0M776.0 450.1h0M776.1 448.3h0M776.2 458.1h0M776.3 451.5h0M776.5 442.5h0M776.5 446.8h0M776.7 457.0h0M776.7 449.7h0M776.9 453.7h0M777.0 454.3h0M777.1 447.9h0M777.2 445.6h0M777.4 454.3h0M777.4 444.5h0M777.6 454.2h0M777.7 447.3h0M777.8 451.4h0M777.9 447.8h0M778.0 446.2h0M778.1 448.1h0M778.2 444.6h0M778.3 457.0h0M778.5 450.2h0M778.6 442.4h0M778.7 454.3h0M778.8 448.2h0M778.9 451.9h0M779.0 452.6h0M779.2 449.2h0M779.3 451.5h0M779.4 447.3h0M779.6 448.8h0M779.6 440.8h0M779.7 452.0h0M779.8 447.6h0M779.9 448.7h0M780.1 443.9h0M780.2 447.5h0M780.3 447.8h0M780.4 448.9h0M780.5 446.1h0M780.7 443.4h0M780.8 440.4h0M780.8 452.3h0M780.9 442.2h0M781.1 441.7h0M781.2 440.9h0M781.4 452.7h0M781.4 449.4h0M781.6 446.6h0M781.7 441.1h0M781.8 439.0h0M781.9 442.2h0M782.1 447.9h0M782.1 440.5h0M782.3 440.5h0M782.4 442.0h0M782.5 443.4h0M782.6 455.3h0M782.7 443.3h0M782.8 436.5h0M782.9 443.2h0M783.0 440.7h0M783.2 445.1h0M783.2 444.6h0M783.3 436.5h0M783.5 443.4h0M783.6 441.4h0M783.7 438.6h0M783.8 443.2h0M783.9 443.7h0M784.1 447.4h0M784.2 441.2h0M784.3 438.6h0M784.4 445.1h0M784.6 435.7h0M784.6 441.1h0M784.8 438.9h0M784.9 444.3h0M784.9 446.6h0M785.1 447.9h0M785.3 444.8h0M785.3 442.6h0M785.5 440.4h0M785.5 446.1h0M785.7 436.2h0M785.8 442.9h0M785.9 448.3h0M786.0 438.5h0M786.1 443.8h0M786.2 446.0h0M786.3 440.3h0M786.4 435.1h0M786.6 433.1h0M786.7 438.6h0M786.8 442.1h0M786.9 445.1h0M787.1 445.8h0M787.2 435.5h0M787.2 446.8h0M787.3 436.1h0M787.5 440.9h0M787.6 434.0h0M787.7 437.0h0M787.9 436.9h0M787.9 435.2h0M788.1 442.6h0M788.2 443.9h0M788.3 443.8h0M788.4 440.0h0M788.5 443.9h0M788.6 438.0h0M788.7 440.0h0M788.9 436.1h0M789.0 437.9h0M789.0 438.6h0M789.2 430.4h0M789.3 443.4h0M789.4 435.5h0M789.6 434.9h0M789.7 440.5h0M789.7 442.1h0M789.9 436.5h0M790.0 440.1h0M790.1 440.3h0M790.2 439.6h0M790.3 439.9h0M790.5 434.2h0M790.5 437.8h0M790.7 439.5h0M790.8 431.6h0M790.8 437.7h0M791.0 439.7h0M791.1 434.3h0M791.2 431.1h0M791.3 437.8h0M791.4 434.0h0M791.6 430.7h0M791.6 435.8h0M791.8 433.3h0M791.9 436.4h0M792.0 435.6h0M792.1 434.3h0M792.2 438.0h0M792.3 431.8h0M792.5 438.7h0M792.6 433.0h0M792.7 435.0h0M792.9 436.4h0M793.0 436.4h0M793.1 431.4h0M793.2 426.2h0M793.3 432.4h0M793.4 431.3h0M793.5 436.1h0M793.6 436.7h0M793.7 427.0h0M793.9 436.0h0M794.0 433.1h0M794.1 436.2h0M794.2 430.8h0M794.3 428.8h0M794.4 427.7h0M794.5 432.9h0M794.6 425.8h0M794.8 431.0h0M794.8 435.5h0M794.9 432.2h0M795.1 431.5h0M795.2 427.7h0M795.3 427.5h0M795.4 437.3h0M795.6 429.4h0M795.7 431.2h0M795.8 437.7h0M795.9 438.2h0M796.0 432.6h0M796.2 427.7h0M796.2 424.8h0M796.4 427.3h0M796.5 428.1h0M796.6 424.6h0M796.7 432.1h0M796.8 434.6h0M796.9 431.4h0M797.1 434.2h0M797.2 434.2h0M797.3 438.1h0M797.4 433.5h0M797.5 436.9h0M797.6 426.9h0M797.7 427.8h0M797.8 424.1h0M797.9 431.9h0M798.1 429.2h0M798.1 426.8h0M798.3 431.4h0M798.4 425.1h0M798.5 423.5h0M798.6 428.6h0M798.7 427.8h0M798.9 432.2h0M798.9 421.9h0M799.1 428.2h0M799.2 435.1h0M799.4 427.3h0M799.4 430.7h0M799.5 426.3h0M799.6 428.4h0M799.8 426.2h0M799.9 423.9h0M800.0 421.1h0M800.1 426.6h0M800.2 435.0h0M800.3 429.8h0M800.4 421.4h0M800.5 426.2h0M800.7 427.4h0M800.8 429.2h0M800.9 426.8h0M801.0 425.0h0M801.1 426.7h0M801.2 422.9h0M801.4 430.2h0M801.5 428.6h0M801.5 425.7h0M801.7 430.5h0M801.8 424.5h0M801.9 424.9h0M802.1 430.9h0M802.2 425.0h0M802.2 420.6h0M802.3 428.9h0M802.5 431.1h0M802.6 421.7h0M802.7 428.1h0M802.8 420.0h0M803.0 423.3h0M803.0 423.6h0M803.2 424.7h0M803.3 421.0h0M803.4 418.6h0M803.5 419.1h0M803.6 425.1h0M803.8 420.9h0M803.9 421.2h0M803.9 422.8h0M804.1 423.8h0M804.1 423.2h0M804.3 429.8h0M804.5 430.2h0M804.5 427.6h0M804.6 418.7h0M804.8 421.1h0M804.9 428.8h0M805.0 423.1h0M805.1 417.5h0M805.2 413.4h0M805.3 423.3h0M805.4 417.5h0M805.5 426.4h0M805.7 428.2h0M805.8 424.1h0M805.9 427.4h0M806.0 415.4h0M806.1 424.9h0M806.3 417.6h0M806.3 417.5h0M806.4 419.5h0M806.6 421.3h0M806.7 425.8h0M806.8 419.0h0M806.9 423.7h0M807.1 420.5h0M807.2 426.3h0M807.2 420.1h0M807.4 420.8h0M807.5 420.3h0M807.6 416.7h0M807.8 415.8h0M807.8 420.1h0M808.0 416.0h0M808.1 421.8h0M808.2 430.9h0M808.3 420.1h0M808.4 416.6h0M808.5 420.0h0M808.6 425.5h0M808.8 414.8h0M808.8 417.1h0M809.0 420.2h0M809.1 416.8h0M809.3 420.5h0M809.3 422.5h0M809.4 422.7h0M809.6 410.2h0M809.7 418.6h0M809.8 416.7h0M809.9 415.5h0M810.0 409.7h0M810.2 422.3h0M810.2 421.0h0M810.3 413.9h0M810.5 415.3h0M810.6 412.6h0M810.7 420.6h0M810.8 416.8h0M811.0 419.2h0M811.1 421.0h0M811.2 416.7h0M811.2 411.7h0M811.4 415.4h0M811.5 415.4h0M811.6 412.0h0M811.7 413.3h0M811.9 418.3h0M811.9 414.4h0M812.1 417.6h0M812.1 409.1h0M812.2 416.3h0M812.4 409.1h0M812.5 417.2h0M812.6 411.4h0M812.7 422.1h0M812.9 411.4h0M812.9 418.4h0M813.0 416.9h0M813.2 409.1h0M813.3 409.5h0M813.5 413.1h0M813.5 414.7h0M813.7 411.0h0M813.8 408.8h0M813.9 416.5h0M814.0 408.0h0M814.1 409.1h0M814.2 410.8h0M814.3 416.8h0M814.5 415.6h0M814.6 415.7h0M814.7 412.4h0M814.8 417.4h0M814.9 412.9h0M815.0 416.7h0M815.2 410.1h0M815.2 411.7h0M815.3 410.3h0M815.5 409.4h0M815.6 408.1h0M815.7 411.4h0M815.7 413.5h0M815.9 413.6h0M816.0 410.7h0M816.1 415.7h0M816.3 406.4h0M816.4 406.2h0M816.5 416.0h0M816.7 412.1h0M816.8 414.5h0M816.8 409.3h0M817.0 412.6h0M817.1 407.3h0M817.1 412.2h0M817.3 402.6h0M817.4 413.9h0M817.5 411.4h0M817.6 406.0h0M817.7 409.0h0M817.8 403.6h0M818.0 404.9h0M818.1 413.1h0M818.1 401.0h0M818.4 407.5h0M818.4 409.1h0M818.5 406.4h0M818.6 415.7h0M818.7 409.0h0M818.9 410.9h0M819.0 410.2h0M819.1 405.5h0M819.2 401.4h0M819.4 414.5h0M819.5 402.1h0M819.6 410.8h0M819.7 409.4h0M819.8 408.4h0M819.9 400.3h0M820.0 421.3h0M820.2 405.8h0M820.3 409.2h0M820.3 411.8h0M820.4 412.8h0M820.5 404.7h0M820.6 408.2h0M820.8 403.8h0M820.9 402.4h0M821.1 411.5h0M821.1 407.1h0M821.2 404.6h0M821.4 406.3h0M821.5 402.1h0M821.6 405.9h0M821.8 406.4h0M821.8 408.0h0M822.0 399.8h0M822.0 407.4h0M822.1 411.4h0M822.3 405.6h0M822.4 409.1h0M822.5 407.5h0M822.6 407.1h0M822.7 401.7h0M822.9 406.3h0M823.0 406.3h0M823.2 397.1h0M823.2 403.2h0M823.3 406.8h0M823.6 404.6h0M823.6 408.2h0M823.8 403.6h0M823.9 400.7h0M824.1 410.5h0M824.2 409.4h0M824.3 403.8h0M824.5 397.0h0M824.5 407.2h0M824.6 398.2h0M824.9 407.7h0M825.0 400.1h0M825.1 404.4h0M825.2 405.2h0M825.3 409.3h0M825.5 398.9h0M825.6 402.4h0M825.7 403.0h0M825.9 401.1h0M826.0 409.3h0M826.2 399.1h0M826.3 404.5h0M826.4 408.7h0M826.5 399.8h0M826.7 407.5h0M826.9 401.2h0M827.0 397.6h0M827.0 398.5h0M827.2 405.8h0M827.3 403.6h0M827.4 396.6h0M827.6 396.9h0M827.7 400.9h0M827.9 391.9h0M828.0 395.3h0M828.2 394.7h0M828.2 399.8h0M828.4 392.2h0M828.5 396.9h0M828.6 396.3h0M828.8 396.5h0M828.9 396.5h0M829.1 397.8h0M829.2 402.3h0M829.3 401.8h0M829.4 401.9h0M829.6 394.6h0M829.7 390.1h0M829.9 396.4h0M829.9 394.1h0M830.1 393.8h0M830.2 397.1h0M830.4 397.7h0M830.5 394.9h0M830.6 394.1h0M830.7 401.0h0M830.9 397.3h0M831.0 399.5h0M831.1 401.9h0M831.2 398.1h0M831.4 389.6h0M831.6 392.7h0M831.7 395.4h0M831.8 395.8h0M832.0 395.0h0M832.1 395.9h0M832.1 397.4h0M832.4 396.7h0M832.5 400.4h0M832.6 393.3h0M832.8 393.1h0M832.9 393.9h0M833.0 395.3h0M833.1 389.4h0M833.3 398.1h0M833.4 392.8h0M833.4 397.8h0M833.7 392.7h0M833.8 394.5h0M833.9 389.7h0M834.1 401.5h0M834.2 396.9h0M834.3 391.3h0M834.4 395.5h0M834.5 390.3h0M834.7 394.2h0M834.9 396.9h0M835.0 395.0h0M835.1 391.6h0M835.2 390.5h0M835.3 384.4h0M835.4 392.3h0M835.6 386.9h0M835.7 385.5h0M835.9 389.0h0M836.1 393.9h0M836.1 390.5h0M836.3 396.3h0M836.3 386.2h0M836.5 397.5h0M836.6 390.8h0M836.8 381.0h0M836.9 395.2h0M837.0 387.7h0M837.2 385.8h0M837.3 391.2h0M837.4 388.1h0M837.5 392.9h0M837.7 394.1h0M837.9 386.2h0M838.0 392.2h0M838.1 386.6h0M838.2 385.2h0M838.4 391.6h0M838.5 390.6h0M838.6 392.7h0M838.7 379.5h0M838.9 391.1h0M839.0 392.4h0M839.1 387.7h0M839.3 391.3h0M839.4 389.7h0M839.5 387.6h0M839.7 383.2h0M839.8 389.8h0M840.0 387.3h0M840.1 385.8h0M840.2 384.2h0M840.4 387.3h0M840.4 392.2h0M840.6 386.6h0M840.8 392.6h0M840.9 382.2h0M841.0 392.8h0M841.2 390.6h0M841.3 383.2h0M841.3 383.7h0M841.6 378.3h0M841.6 391.4h0M841.7 383.5h0M842.0 381.7h0M842.0 376.0h0M842.2 396.4h0M842.3 383.0h0M842.4 379.8h0M842.5 381.0h0M842.7 378.3h0M842.9 392.7h0M843.0 384.7h0M843.1 386.0h0M843.2 384.1h0M843.4 383.9h0M843.4 371.1h0M843.6 382.2h0M843.7 375.8h0M843.9 384.1h0M844.0 380.2h0M844.1 389.0h0M844.3 385.3h0M844.4 385.1h0M844.5 382.0h0M844.7 381.0h0M844.8 382.0h0M845.0 386.7h0M845.0 377.2h0M845.2 386.1h0M845.3 379.5h0M845.4 378.9h0M845.6 376.9h0M845.7 379.3h0M845.9 386.3h0M846.0 387.8h0M846.1 379.3h0M846.2 380.4h0M846.3 381.5h0M846.5 383.1h0M846.6 382.3h0M846.7 382.7h0M846.9 382.7h0M847.1 372.2h0M847.2 384.6h0M847.3 386.8h0M847.4 381.2h0M847.5 379.6h0M847.6 376.2h0M847.9 380.5h0M847.9 380.4h0M848.0 378.2h0M848.3 380.6h0M848.3 382.7h0M848.5 383.4h0M848.6 381.0h0M848.8 374.3h0M848.9 381.4h0M849.0 385.1h0M849.2 378.0h0M849.3 377.4h0M849.4 375.5h0M849.5 373.0h0M849.6 381.8h0M849.8 377.5h0M849.9 374.0h0M850.0 373.6h0M850.2 378.1h0M850.3 377.4h0M850.5 379.8h0M850.6 375.4h0M850.7 367.7h0M850.8 375.3h0M850.9 373.9h0M851.1 368.4h0M851.3 376.7h0M851.4 373.4h0M851.5 374.0h0M851.6 377.5h0M851.7 370.6h0M851.9 374.5h0M852.0 373.8h0M852.1 369.4h0M852.3 375.8h0M852.5 375.2h0M852.6 373.2h0M852.6 367.8h0M852.8 370.1h0M853.0 372.9h0M853.1 371.8h0M853.2 365.3h0M853.3 376.6h0M853.5 378.7h0M853.6 377.3h0M853.8 379.6h0M853.8 375.3h0M854.0 371.4h0M854.1 371.6h0M854.3 374.2h0M854.4 367.5h0M854.5 372.7h0M854.6 377.2h0M854.8 374.1h0M854.9 372.9h0M855.0 365.4h0M855.1 374.1h0M855.3 366.1h0M855.4 372.7h0M855.6 373.8h0M855.8 367.2h0M855.8 373.2h0M855.9 372.5h0M856.2 373.6h0M856.3 366.6h0M856.4 369.0h0M856.5 368.5h0M856.6 372.8h0M856.7 371.2h0M856.9 374.2h0M857.0 370.6h0M857.2 370.8h0M857.3 371.1h0M857.4 363.0h0M857.5 371.2h0M857.7 365.6h0M857.8 368.2h0M857.9 367.1h0M858.1 371.0h0M858.1 370.8h0M858.3 364.7h0M858.5 370.1h0M858.5 366.5h0M858.7 367.6h0M858.8 367.5h0M859.0 375.0h0M859.1 367.3h0M859.3 370.2h0M859.4 365.8h0M859.4 366.4h0M859.7 369.0h0M859.8 362.8h0M859.9 366.2h0M860.1 372.9h0M860.1 361.3h0M860.3 372.4h0M860.4 372.1h0M860.6 372.6h0M860.7 360.4h0M860.8 370.3h0M860.9 364.7h0M861.1 364.9h0M861.2 362.2h0M861.3 367.8h0M861.5 363.2h0M861.7 363.1h0M861.8 366.1h0M861.9 360.0h0M862.0 363.5h0M862.2 371.7h0M862.2 356.6h0M862.3 353.9h0M862.4 356.0h0M862.5 352.7h0M862.6 373.5h0M862.7 371.9h0M862.8 364.8h0M862.9 363.1h0M863.0 354.3h0M863.1 367.0h0M863.1 356.9h0M863.2 362.7h0M863.3 364.3h0M863.4 360.3h0M863.5 363.4h0M863.6 365.4h0M863.7 377.0h0M863.8 368.1h0M863.9 356.8h0M863.9 376.5h0M864.1 357.3h0M864.1 363.1h0M864.2 369.7h0M864.3 371.7h0M864.4 365.5h0M864.4 361.5h0M864.6 359.0h0M864.7 360.7h0M864.7 361.9h0M864.8 363.5h0M864.9 360.9h0M865.0 363.1h0M865.1 365.4h0M865.1 365.1h0M865.3 363.5h0M865.3 361.1h0M865.4 365.4h0M865.5 364.2h0M865.6 373.0h0M865.7 361.8h0M865.8 358.4h0M865.9 363.3h0M866.0 362.2h0M866.0 366.4h0M866.2 352.2h0M866.2 366.7h0M866.3 364.1h0M866.4 365.3h0M866.5 354.4h0M866.6 368.8h0M866.7 360.3h0M866.7 364.5h0M866.8 358.7h0M867.0 356.3h0M867.1 360.3h0M867.1 363.9h0M867.2 357.7h0M867.3 361.8h0M867.4 362.1h0M867.5 370.6h0M867.6 359.6h0M867.7 370.5h0M867.8 369.9h0M867.8 361.2h0M867.9 351.9h0M868.0 368.7h0M868.1 360.7h0M868.2 353.7h0M868.3 353.3h0M868.4 356.4h0M868.4 355.1h0M868.6 368.4h0M868.6 351.2h0M868.8 359.0h0M868.8 355.2h0M868.9 357.3h0M869.0 355.4h0M869.1 361.2h0M869.2 352.0h0M869.2 350.5h0M869.3 359.1h0M869.4 351.4h0M869.5 355.0h0M869.6 360.7h0M869.7 352.8h0M869.8 353.1h0M869.9 359.1h0M869.9 382.8h0M870.0 359.4h0M870.1 364.4h0M870.2 356.6h0M870.3 368.0h0M870.4 349.8h0M870.5 360.3h0M870.6 363.9h0M870.7 354.4h0M870.7 363.6h0M870.9 357.4h0M870.9 361.4h0M871.0 356.7h0M871.1 343.8h0M871.2 355.7h0M871.3 358.3h0M871.4 360.6h0M871.5 365.0h0M871.5 353.0h0M871.6 361.7h0M871.7 353.2h0M871.8 366.6h0M871.9 358.7h0M872.0 356.4h0M872.1 355.4h0M872.1 361.6h0M872.3 353.8h0M872.4 357.9h0M872.5 349.1h0M872.5 366.7h0M872.6 363.3h0M872.7 351.3h0M872.8 357.6h0M872.9 362.5h0M873.0 351.1h0M873.1 351.6h0M873.1 357.0h0M873.2 358.3h0M873.4 338.5h0M873.4 356.1h0M873.5 353.7h0M873.6 353.0h0M873.7 363.7h0M873.8 363.7h0M873.9 362.5h0M874.0 357.4h0M874.1 353.1h0M874.2 345.2h0M874.2 351.6h0M874.3 343.6h0M874.4 356.4h0M874.5 351.2h0M874.6 352.7h0M874.6 359.0h0M874.7 358.0h0M874.8 353.4h0M874.9 349.3h0M875.0 348.4h0M875.1 369.9h0M875.1 353.4h0M875.3 344.9h0M875.4 360.2h0M875.5 349.6h0M875.5 352.7h0M875.6 345.4h0M875.7 357.4h0M875.8 351.2h0M875.9 350.1h0M876.0 346.9h0M876.1 352.3h0M876.2 353.3h0M876.2 349.1h0M876.4 360.3h0M876.5 344.0h0M876.5 351.6h0M876.6 349.9h0M876.7 360.7h0M876.8 361.0h0M876.8 354.9h0M877.0 344.3h0M877.1 338.0h0M877.1 344.4h0M877.2 350.1h0M877.3 359.3h0M877.4 344.6h0M877.5 353.6h0M877.6 350.8h0M877.7 347.3h0M877.8 350.4h0M877.8 337.4h0M877.9 349.6h0M878.0 348.1h0M878.1 345.0h0M878.2 346.5h0M878.3 353.3h0M878.4 350.8h0M878.5 347.5h0M878.5 355.5h0M878.6 352.3h0M878.7 340.7h0M878.8 345.6h0M878.9 341.7h0M879.0 346.8h0M879.1 351.9h0M879.1 349.1h0M879.2 347.9h0M879.3 360.5h0M879.4 354.4h0M879.5 355.1h0M879.6 353.2h0M879.7 343.3h0M879.8 339.8h0M879.9 344.6h0M880.0 349.8h0M880.0 346.1h0M880.1 350.1h0M880.2 344.5h0M880.4 340.3h0M880.4 347.3h0M880.5 342.2h0M880.6 348.0h0M880.7 358.2h0M880.8 342.6h0M880.8 345.4h0M880.9 340.4h0M881.1 346.8h0M881.1 341.7h0M881.2 352.9h0M881.3 338.6h0M881.4 352.5h0M881.5 349.5h0M881.6 347.4h0M881.7 348.8h0M881.8 348.5h0M881.8 348.1h0M881.9 346.5h0M882.0 334.0h0M882.1 350.2h0M882.2 346.1h0M882.3 340.9h0M882.4 338.0h0M882.5 348.0h0M882.5 334.3h0M882.6 350.2h0M882.7 340.7h0M882.8 342.3h0M882.9 354.8h0M882.9 353.7h0M883.0 358.0h0M883.2 338.3h0M883.3 346.8h0M883.4 337.9h0M883.4 348.0h0M883.5 339.6h0M883.6 343.5h0M883.7 342.8h0M883.8 337.2h0M883.9 335.1h0M883.9 346.3h0M884.0 341.0h0M884.2 347.8h0M884.2 351.3h0M884.3 339.6h0M884.4 332.1h0M884.5 339.7h0M884.6 346.3h0M884.7 350.2h0M884.8 341.4h0M884.9 336.5h0M885.0 343.6h0M885.0 346.1h0M885.1 330.9h0M885.2 340.0h0M885.3 338.9h0M885.4 332.3h0M885.5 342.5h0M885.6 333.6h0M885.7 341.3h0M885.7 343.9h0M885.8 348.8h0M885.9 333.6h0M886.0 330.6h0M886.1 334.4h0M886.2 339.0h0M886.3 320.7h0M886.4 337.1h0M886.4 345.9h0M886.5 349.8h0M886.7 332.8h0M886.7 335.2h0M886.8 355.4h0M886.9 342.7h0M887.0 345.8h0M887.1 343.3h0M887.2 339.5h0M887.2 330.8h0M887.3 337.6h0M887.4 332.3h0M887.5 347.5h0M887.6 350.0h0M887.7 320.0h0M887.8 334.8h0M887.9 328.8h0M887.9 341.9h0M888.0 337.9h0M888.1 347.5h0M888.3 333.0h0M888.3 335.0h0M888.4 328.7h0M888.5 336.1h0M888.6 346.0h0M888.6 341.9h0M888.7 344.2h0M888.8 344.5h0M888.9 328.9h0M889.0 332.8h0M889.1 343.8h0M889.2 340.9h0M889.3 340.3h0M889.3 330.7h0M889.4 342.6h0M889.6 337.3h0M889.7 343.5h0M889.7 336.1h0M889.8 333.2h0M889.9 345.3h0M890.0 341.9h0M890.0 327.7h0M890.2 346.8h0M890.3 345.6h0M890.3 334.0h0M890.4 336.1h0M890.5 317.9h0M890.6 322.4h0M890.7 338.4h0M890.8 329.3h0M890.8 339.1h0M890.9 344.6h0M891.1 338.0h0M891.2 341.9h0M891.2 325.2h0M891.3 325.1h0M891.5 338.1h0M891.5 335.6h0M891.6 333.2h0M891.7 338.8h0M891.7 333.7h0M891.9 339.6h0M891.9 338.2h0M892.0 325.7h0M892.1 334.2h0M892.2 356.8h0M892.3 334.2h0M892.4 335.6h0M892.5 328.9h0M892.6 336.4h0M892.7 342.6h0M892.8 340.8h0M892.8 334.3h0M892.9 338.1h0M893.0 331.8h0M893.1 330.7h0M893.2 335.7h0M893.2 328.7h0M893.3 330.7h0M893.4 331.4h0M893.5 331.5h0M893.6 332.1h0M893.7 344.2h0M893.8 336.4h0M893.9 330.9h0M894.0 329.3h0M894.1 330.9h0M894.2 332.5h0M894.2 340.3h0M894.4 331.6h0M894.4 336.2h0M894.5 326.4h0M894.6 329.1h0M894.7 328.5h0M894.8 330.2h0M894.8 329.2h0M895.0 335.9h0M895.0 326.2h0M895.2 327.7h0M895.3 315.2h0M895.3 341.4h0M895.4 333.8h0M895.5 335.2h0M895.6 339.4h0M895.6 342.7h0M895.8 340.9h0M895.8 337.6h0M895.9 331.8h0M896.0 340.6h0M896.1 332.5h0M896.2 338.5h0M896.2 320.6h0M896.3 318.9h0M896.5 335.6h0M896.6 327.5h0M896.6 349.5h0M896.7 340.1h0M896.9 331.0h0M896.9 320.7h0M897.0 329.1h0M897.1 327.3h0M897.2 334.3h0M897.3 335.5h0M897.4 337.6h0M897.4 309.8h0M897.5 345.4h0M897.6 327.9h0M897.7 323.2h0M897.8 328.0h0M897.8 318.9h0M898.0 325.3h0M898.1 336.8h0M898.2 328.4h0M898.2 329.2h0M898.3 319.1h0M898.4 328.9h0M898.5 326.8h0M898.6 329.8h0M898.7 329.5h0M898.8 324.5h0M898.8 335.8h0M898.9 322.8h0M899.1 332.3h0M899.2 327.1h0M899.2 336.7h0M899.3 334.9h0M899.4 323.6h0M899.4 332.2h0M899.5 331.6h0M899.7 324.0h0M899.7 327.9h0M899.8 326.2h0M900.0 329.4h0M900.0 331.7h0M900.1 328.0h0M900.2 325.6h0M900.3 331.7h0M900.3 326.3h0M900.4 337.1h0M900.6 326.0h0M900.6 331.8h0M900.8 327.5h0M900.8 321.8h0M900.9 324.4h0M901.0 331.7h0M901.1 320.5h0M901.2 333.4h0M901.3 321.2h0M901.3 320.9h0M901.5 322.5h0M901.5 325.2h0M901.6 323.7h0M901.7 325.3h0M901.7 329.2h0M901.8 335.5h0M901.9 328.7h0M902.1 335.3h0M902.2 325.2h0M902.2 333.6h0M902.3 323.1h0M902.4 322.5h0M902.5 326.5h0M902.6 324.7h0M902.6 319.7h0M902.8 313.9h0M902.8 328.1h0M902.9 319.0h0M903.0 334.7h0M903.1 319.0h0M903.2 313.9h0M903.3 322.1h0M903.4 339.2h0M903.5 313.2h0M903.5 320.0h0M903.6 319.0h0M903.7 313.2h0M903.8 322.2h0M903.9 324.2h0M904.0 327.3h0M904.1 324.6h0M904.2 311.0h0M904.2 320.9h0M904.4 324.7h0M904.5 329.4h0M904.5 329.4h0M904.6 319.7h0M904.7 313.3h0M904.8 322.2h0M904.8 326.9h0M905.0 319.1h0M905.0 317.1h0M905.1 321.3h0M905.2 323.2h0M905.4 315.0h0M905.4 318.3h0M905.5 323.5h0M905.6 322.2h0M905.7 318.8h0M905.8 320.3h0M905.8 317.8h0M906.0 319.6h0M906.0 312.1h0M906.2 326.5h0M906.2 321.9h0M906.3 318.2h0M906.4 315.5h0M906.5 311.0h0M906.6 331.7h0M906.6 318.6h0M906.7 329.1h0M906.8 317.7h0M907.0 328.9h0M907.0 310.1h0M907.1 330.0h0M907.2 313.9h0M907.3 318.4h0M907.4 324.8h0M907.4 302.3h0M907.5 321.3h0M907.6 331.1h0M907.8 329.0h0M907.8 311.9h0M907.9 319.1h0M908.0 311.6h0M908.1 318.6h0M908.2 319.5h0M908.2 324.7h0M908.3 320.3h0M908.4 318.6h0M908.5 312.2h0M908.6 314.6h0M908.7 303.5h0M908.8 318.1h0M908.8 318.1h0M909.0 321.9h0M909.0 318.0h0M909.1 320.8h0M909.2 322.8h0M909.4 316.1h0M909.4 315.3h0M909.5 293.9h0M909.6 305.3h0M909.7 317.0h0M909.8 311.8h0M909.9 324.1h0M909.9 316.4h0M910.0 314.8h0M910.1 317.4h0M910.2 318.3h0M910.3 316.7h0M910.4 320.1h0M910.4 316.6h0M910.6 306.9h0M910.6 317.3h0M910.8 314.0h0M910.8 314.4h0M910.9 309.0h0M911.0 319.7h0M911.1 313.2h0M911.2 328.9h0M911.3 306.0h0M911.3 318.9h0M911.5 316.9h0M911.5 323.0h0M911.6 318.9h0M911.7 316.2h0M911.8 309.0h0M911.9 313.5h0M912.0 314.8h0M912.1 314.1h0M912.2 317.0h0M912.3 298.5h0M912.3 315.6h0M912.4 319.1h0M912.5 307.2h0M912.6 305.0h0M912.7 317.8h0M912.7 317.5h0M912.8 309.9h0M912.9 314.8h0M913.0 311.2h0M913.1 311.7h0M913.2 303.4h0M913.3 313.3h0M913.4 305.9h0M913.5 313.4h0M913.5 325.1h0M913.7 308.1h0M913.7 307.2h0M913.8 314.9h0M914.0 317.7h0M914.0 322.2h0M914.1 320.6h0M914.2 321.5h0M914.3 331.0h0M914.3 320.0h0M914.5 313.9h0M914.6 315.6h0M914.7 314.3h0M914.8 316.7h0M914.8 306.5h0M914.9 319.8h0M915.0 312.4h0M915.1 303.3h0M915.1 320.0h0M915.2 303.4h0M915.4 312.2h0M915.5 308.3h0M915.5 312.2h0M915.6 307.6h0M915.7 299.9h0M915.7 308.4h0M915.9 315.2h0M916.0 316.3h0M916.0 315.4h0M916.1 301.6h0M916.3 312.9h0M916.3 304.4h0M916.4 305.0h0M916.5 313.0h0M916.6 303.6h0M916.7 316.9h0M916.8 308.3h0M916.9 304.2h0M916.9 310.5h0M917.0 301.0h0M917.1 314.3h0M917.2 310.8h0M917.3 318.6h0M917.4 304.6h0M917.4 317.9h0M917.5 300.5h0M917.6 303.2h0M917.7 308.1h0M917.8 310.6h0M917.9 289.9h0M918.0 308.0h0M918.1 315.4h0M918.2 318.8h0M918.2 305.6h0M918.3 310.1h0M918.5 300.6h0M918.5 288.1h0M918.6 318.6h0M918.7 296.0h0M918.8 317.2h0M918.9 307.5h0M919.0 317.4h0M919.0 294.4h0M919.1 313.4h0M919.3 310.6h0M919.3 311.3h0M919.4 310.8h0M919.5 304.0h0M919.6 300.7h0M919.7 313.4h0M919.8 300.4h0M919.9 289.4h0M920.0 315.4h0M920.0 307.1h0M920.2 313.2h0M920.2 289.5h0M920.3 314.1h0M920.4 306.4h0M920.4 321.4h0M920.6 309.2h0M920.7 296.0h0M920.8 305.3h0M920.8 313.7h0M920.9 303.7h0M921.1 309.3h0M921.1 307.3h0M921.2 308.8h0M921.3 308.4h0M921.3 305.5h0M921.4 308.7h0M921.5 297.1h0M921.6 295.6h0M921.7 296.7h0M921.8 299.5h0M921.9 287.7h0M922.0 300.0h0M922.1 310.4h0M922.2 309.6h0M922.2 305.1h0M922.4 304.5h0M922.5 303.6h0M922.5 292.7h0M922.6 297.3h0M922.7 306.8h0M922.8 291.7h0M922.9 293.9h0M923.0 309.3h0M923.0 288.3h0M923.1 307.9h0M923.2 306.9h0M923.3 299.7h0M923.4 299.9h0M923.5 308.3h0M923.6 300.5h0M923.7 309.0h0M923.8 308.2h0M923.9 320.3h0M923.9 320.3h0M924.1 309.7h0M924.1 302.6h0M924.2 295.6h0M924.3 297.0h0M924.4 309.9h0M924.5 299.1h0M924.5 295.3h0M924.6 305.4h0M924.7 299.0h0M924.8 307.6h0M924.9 306.1h0M925.0 309.9h0M925.1 304.8h0M925.2 293.9h0M925.3 295.7h0M925.4 303.8h0M925.4 305.1h0M925.6 295.5h0M925.6 306.4h0M925.8 297.0h0M925.8 309.2h0M925.9 297.4h0M926.0 298.9h0M926.1 299.9h0M926.1 294.8h0M926.2 311.6h0M926.3 298.9h0M926.5 303.3h0M926.5 302.8h0M926.6 303.3h0M926.7 304.0h0M926.8 297.5h0M926.9 293.9h0M927.0 300.2h0M927.0 296.0h0M927.2 291.0h0M927.2 306.8h0M927.3 294.9h0M927.4 276.5h0M927.4 293.4h0M927.6 302.7h0M927.6 299.3h0M927.7 296.3h0M927.8 307.4h0M927.9 296.0h0M928.0 301.9h0M928.1 309.1h0M928.2 307.1h0M928.3 313.7h0M928.4 302.8h0M928.5 299.9h0M928.6 300.1h0M928.7 288.9h0M928.7 304.8h0M928.8 298.2h0M928.9 301.0h0M929.0 295.8h0M929.0 291.3h0M929.1 296.3h0M929.2 277.2h0M929.3 297.7h0M929.4 307.5h0M929.5 299.7h0M929.6 288.4h0M929.7 294.3h0M929.8 295.6h0M929.9 298.2h0M930.0 301.6h0M930.1 300.8h0M930.1 293.5h0M930.3 307.8h0M930.4 300.5h0M930.4 297.2h0M930.5 290.0h0M930.6 300.3h0M930.7 300.6h0M930.7 293.9h0M930.9 299.5h0M930.9 292.6h0M931.1 291.5h0M931.2 298.2h0M931.2 289.3h0M931.3 293.9h0M931.4 292.4h0M931.5 294.1h0M931.6 290.8h0M931.6 304.7h0M931.7 296.4h0M931.8 289.0h0M931.9 293.7h0M932.0 299.0h0M932.1 297.4h0M932.2 287.2h0M932.2 292.0h0M932.4 298.9h0M932.5 321.2h0M932.5 295.5h0M932.6 285.7h0M932.8 296.4h0M932.8 278.3h0M932.9 290.4h0M933.0 296.9h0M933.1 289.4h0M933.4 292.1h0M933.4 297.5h0M933.8 288.6h0M934.0 291.2h0M934.2 294.6h0M934.4 289.4h0M934.8 288.2h0M934.9 298.4h0M935.3 288.8h0M935.4 294.3h0M935.6 300.9h0M936.0 291.2h0M936.2 299.1h0M936.5 268.4h0M936.6 288.5h0M936.9 292.7h0M937.1 300.4h0M937.4 293.2h0M937.8 295.6h0M937.8 292.7h0M938.1 279.7h0M938.5 296.3h0M938.6 294.0h0M939.0 270.9h0M939.1 287.8h0M939.3 284.6h0M939.7 294.2h0M940.0 266.2h0M940.2 290.9h0M940.5 283.5h0M940.6 290.5h0M941.0 281.5h0M941.2 291.8h0M941.4 282.4h0M941.7 275.5h0M941.9 242.0h0M942.0 283.3h0M942.4 279.7h0M942.7 271.6h0M943.0 263.4h0M943.1 267.5h0M943.4 290.0h0M943.7 283.8h0M943.9 288.8h0M944.2 286.9h0M944.3 280.6h0M944.5 282.3h0M944.8 288.0h0M945.1 298.4h0M945.3 289.3h0M945.7 283.7h0M945.8 269.4h0M946.2 271.2h0M946.4 280.1h0M946.6 275.9h0M946.7 283.6h0M947.0 272.4h0M947.4 275.2h0M947.5 287.2h0M947.9 287.1h0M948.2 276.8h0M948.3 273.0h0M948.7 276.1h0M948.9 298.3h0M949.1 271.5h0M949.3 291.3h0M949.5 272.0h0M949.8 282.2h0M950.2 284.3h0M950.2 246.3h0M950.5 269.5h0M950.9 270.6h0M951.2 278.5h0M951.3 277.8h0M951.6 278.0h0M951.8 277.8h0M952.0 276.4h0M952.2 279.8h0M952.5 274.4h0M952.7 277.4h0M953.0 273.1h0M953.2 273.0h0M953.5 269.9h0M953.7 255.1h0M954.0 270.9h0M954.3 271.7h0M954.5 276.7h0M954.9 280.0h0M955.0 263.0h0M955.3 275.7h0M955.5 293.0h0M955.8 262.6h0M956.1 247.2h0M956.3 274.2h0M956.4 263.4h0M956.8 265.5h0M957.1 274.7h0M957.2 266.6h0M957.4 263.2h0M957.7 253.2h0M958.1 266.2h0M958.2 281.7h0M958.6 262.6h0M958.8 271.5h0M959.0 273.3h0M959.3 266.1h0M959.5 260.5h0M959.8 268.1h0M960.0 260.7h0M960.3 265.5h0M960.5 260.3h0M960.7 264.6h0M961.0 244.7h0M961.3 269.7h0M961.5 282.0h0M961.8 260.2h0M961.9 262.1h0M962.3 266.4h0M962.5 243.1h0M962.6 273.2h0M963.0 260.8h0M963.2 258.3h0M963.5 264.3h0M963.7 257.8h0M963.9 299.6h0M964.2 263.8h0M964.3 266.4h0M964.8 258.0h0M964.9 260.3h0M965.3 262.9h0M965.5 264.4h0M965.6 269.1h0M965.9 254.6h0M966.1 264.1h0M966.3 262.4h0M966.8 252.5h0M966.9 264.6h0M967.2 262.2h0M967.4 262.2h0M967.8 267.5h0M968.0 256.3h0M968.3 247.4h0M968.5 276.1h0M968.6 260.4h0M969.0 250.4h0M969.1 249.3h0M969.4 263.3h0M969.5 258.3h0M969.8 255.6h0M970.1 254.9h0M970.3 258.5h0M970.5 255.3h0M970.8 261.8h0M971.0 242.8h0M971.4 264.6h0M971.7 247.1h0M972.0 255.0h0M972.1 251.8h0M972.3 259.0h0M972.5 250.9h0M972.8 258.5h0M973.1 248.2h0M973.3 253.8h0M973.7 256.6h0M973.9 258.9h0M974.0 253.9h0M974.3 255.5h0M974.5 250.3h0M974.8 282.0h0M975.1 264.7h0M975.4 272.9h0M975.5 243.8h0M975.8 261.4h0M976.0 247.5h0M976.3 246.0h0M976.6 231.4h0M976.9 250.2h0M977.0 255.5h0M977.4 242.7h0M977.7 248.2h0M977.9 250.1h0M977.9 271.9h0M978.2 251.8h0M978.6 266.9h0M978.8 258.1h0M979.0 252.1h0M979.2 258.1h0M979.7 247.2h0M979.9 245.1h0M980.1 219.5h0M980.2 250.2h0M980.5 253.0h0M980.7 228.8h0M981.1 218.8h0M981.2 248.0h0M981.6 241.6h0M981.9 238.7h0M982.0 242.0h0M982.3 238.2h0M982.6 253.2h0M982.7 229.1h0M982.9 247.7h0M983.2 250.2h0M983.5 243.1h0M983.7 236.8h0M983.9 248.2h0M984.3 253.8h0M984.6 236.8h0M984.7 247.3h0M985.1 235.5h0M985.1 241.0h0M985.4 247.3h0M985.7 253.3h0M985.9 234.7h0M986.1 239.8h0M986.6 244.2h0M986.6 219.0h0M987.0 259.2h0M987.1 238.6h0M987.4 238.1h0M987.8 243.6h0M988.0 237.9h0M988.1 239.8h0M988.4 246.3h0M988.8 245.3h0M989.0 239.0h0M989.2 254.7h0M989.4 240.1h0M989.6 246.7h0M989.8 231.2h0M990.2 239.2h0M990.4 231.0h0M990.8 236.7h0M991.0 226.3h0M991.1 238.4h0M991.5 228.6h0M991.7 236.5h0M992.0 219.7h0M992.2 240.1h0M992.4 233.5h0M992.7 226.3h0M992.9 232.3h0M993.1 230.5h0M993.5 273.5h0M993.7 227.8h0M993.9 239.0h0M994.1 227.6h0M994.3 230.6h0M994.7 237.2h0M994.9 235.2h0M995.2 212.4h0M995.5 218.2h0M995.8 236.3h0M996.0 229.7h0M996.1 234.5h0M996.3 231.6h0M996.6 223.0h0M996.8 230.9h0M997.1 227.5h0M997.3 233.4h0M997.5 227.5h0M997.9 226.7h0M998.1 227.2h0M998.3 229.9h0M998.7 243.0h0M998.9 236.9h0M999.1 230.0h0M999.2 231.3h0M999.6 205.8h0M999.8 224.2h0M1000.1 227.4h0M1000.3 221.1h0M1000.5 210.2h0M1000.7 202.5h0M1001.2 226.2h0M1001.2 227.3h0M1001.7 218.1h0M1001.8 231.4h0M1002.2 232.1h0M1002.2 229.5h0M1002.6 209.6h0M1002.9 216.0h0M1003.2 205.6h0M1003.4 229.7h0M1003.6 214.1h0M1003.7 219.9h0M1004.1 219.4h0M1004.2 251.9h0M1004.6 220.6h0M1004.8 220.6h0M1005.0 218.8h0M1005.2 213.0h0M1005.7 218.0h0M1005.7 218.0h0M1006.1 224.1h0M1006.2 220.1h0M1006.5 223.7h0M1006.8 245.0h0M1007.1 204.3h0M1007.2 231.4h0M1007.5 218.4h0M1007.7 217.3h0M1008.2 219.4h0M1008.4 217.2h0M1008.6 221.6h0M1008.8 218.6h0M1008.9 214.3h0M1009.3 218.0h0M1009.6 206.8h0M1009.9 218.2h0M1010.1 226.4h0M1010.2 209.8h0M1010.5 209.0h0M1010.8 214.0h0M1011.1 220.8h0M1011.3 243.2h0M1011.5 220.5h0M1011.6 207.5h0M1011.9 201.1h0M1012.2 212.8h0M1012.5 213.4h0M1012.7 211.9h0M1013.0 206.3h0M1013.3 205.5h0M1013.4 209.4h0M1013.6 214.8h0M1014.0 211.0h0M1014.1 200.7h0M1014.6 209.0h0M1014.7 222.4h0M1014.9 194.8h0M1015.3 212.3h0M1015.5 219.3h0M1015.7 222.7h0M1016.0 214.1h0M1016.2 205.5h0M1016.4 203.7h0M1016.7 228.4h0M1017.0 214.8h0M1017.1 209.8h0M1017.5 213.3h0M1017.6 184.7h0M1017.8 204.9h0M1018.2 211.1h0M1018.6 200.5h0M1018.7 215.0h0M1018.9 209.5h0M1019.2 230.5h0M1019.5 207.2h0M1019.8 220.0h0M1020.2 206.3h0M1020.4 203.9h0M1020.9 210.3h0M1021.2 200.6h0M1021.8 199.3h0M1022.1 210.1h0M1022.4 206.1h0M1023.1 203.2h0M1023.5 201.5h0M1023.8 211.4h0M1024.1 191.0h0M1024.7 199.8h0M1025.2 191.4h0M1025.3 191.5h0M1025.7 202.3h0M1026.2 199.0h0M1026.6 196.4h0M1027.0 198.6h0M1027.7 192.5h0M1027.9 197.7h0M1028.3 237.6h0M1028.9 199.0h0M1029.3 212.4h0M1029.5 190.8h0M1030.2 198.6h0M1030.6 193.8h0M1030.7 197.3h0M1031.5 193.9h0M1031.7 198.4h0M1032.0 191.6h0M1032.3 204.9h0M1033.1 197.7h0M1033.3 197.5h0M1033.9 197.1h0M1034.1 194.5h0M1034.5 169.1h0M1035.2 191.0h0M1035.5 183.5h0M1036.0 185.9h0M1036.2 185.5h0M1036.6 190.6h0M1037.0 189.5h0M1037.4 187.2h0M1037.8 192.0h0M1038.5 197.1h0M1038.8 190.0h0M1039.3 192.6h0M1039.6 191.8h0M1040.1 179.7h0M1040.6 181.7h0M1040.8 186.0h0M1041.4 178.1h0M1041.7 180.4h0M1042.1 185.9h0M1042.6 184.5h0M1043.0 179.7h0M1043.4 188.7h0M1043.8 182.5h0M1044.1 181.6h0M1044.6 187.9h0M1044.9 180.2h0M1045.4 183.0h0M1046.0 176.2h0M1046.5 186.1h0M1046.9 179.6h0M1047.1 174.4h0M1047.8 175.0h0M1048.1 178.0h0M1048.2 183.0h0M1048.9 169.6h0M1049.1 175.7h0M1049.7 184.7h0M1050.2 178.5h0M1050.4 183.2h0M1051.1 174.5h0M1051.4 155.5h0M1051.9 168.2h0M1052.2 173.2h0M1052.8 179.3h0M1053.1 169.0h0M1053.4 170.8h0M1053.7 165.3h0M1054.5 168.9h0M1054.5 167.7h0M1055.0 173.0h0M1055.5 179.9h0M1055.8 165.0h0M1056.2 175.7h0M1056.8 168.0h0M1057.1 170.7h0M1057.5 169.7h0M1057.9 168.5h0M1058.6 176.6h0M1059.0 164.5h0M1059.4 175.3h0M1059.7 175.2h0M1060.1 165.2h0M1060.5 163.9h0M1061.0 172.3h0M1061.5 170.7h0M1061.9 164.2h0M1062.3 161.1h0M1062.5 163.1h0M1063.2 164.6h0M1063.4 158.7h0M1063.9 162.5h0M1064.5 159.2h0M1064.9 168.4h0M1065.0 164.3h0M1065.7 162.4h0M1066.1 161.4h0M1066.5 163.3h0M1066.7 173.6h0M1067.3 161.8h0M1067.7 157.0h0M1068.3 158.7h0M1068.4 151.7h0M1068.8 163.6h0M1069.2 158.1h0M1069.7 162.9h0M1070.2 141.6h0M1070.6 154.5h0M1071.1 164.3h0M1071.3 157.4h0M1071.7 153.2h0M1072.3 167.0h0M1072.5 152.9h0M1073.0 183.6h0M1073.7 154.8h0M1074.0 155.4h0M1074.2 145.1h0M1074.8 155.5h0M1075.3 152.5h0M1075.5 148.2h0M1076.2 158.6h0M1076.6 139.3h0M1076.8 171.3h0M1077.3 156.4h0M1077.7 150.4h0M1077.9 155.5h0M1078.4 150.0h0M1079.0 173.8h0M1079.5 144.7h0M1079.8 151.3h0M1080.4 148.3h0M1080.5 145.0h0M1081.0 146.6h0M1081.6 150.6h0M1081.7 150.5h0M1082.4 137.6h0M1082.6 144.4h0M1083.3 142.2h0M1083.7 149.5h0M1084.1 140.0h0M1084.5 148.1h0M1084.8 148.2h0M1085.0 140.6h0M1085.5 136.3h0M1086.0 142.8h0M1086.4 143.4h0M1086.7 132.4h0M1087.4 129.8h0M1087.5 140.8h0M1088.1 139.1h0M1088.4 158.7h0M1089.0 136.4h0M1089.5 136.4h0M1089.7 138.6h0M1090.0 145.2h0M1090.8 138.0h0M1091.2 132.2h0M1091.7 130.5h0M1091.7 141.1h0M1092.4 141.4h0M1092.9 128.8h0M1093.3 130.8h0M1093.5 140.0h0M1093.9 139.4h0M1094.2 131.1h0M1095.0 132.1h0M1095.3 124.7h0M1095.5 135.8h0M1096.0 127.9h0M1096.6 123.9h0M1097.1 109.0h0M1097.3 121.0h0M1097.7 141.3h0M1098.1 123.8h0M1098.7 126.3h0M1099.0 131.9h0M1099.4 132.1h0M1099.8 122.3h0M1100.3 133.2h0M1100.5 128.7h0M1100.9 123.0h0M1101.3 122.2h0M1102.1 129.1h0M1102.2 143.6h0M1102.9 126.9h0M1103.0 127.6h0M1103.6 107.7h0M1103.8 125.1h0M1104.6 123.9h0M1104.7 123.8h0M1105.1 124.8h0M1105.8 120.6h0M1106.0 114.1h0M1106.3 121.6h0M1107.1 117.0h0M1107.3 119.6h0M1107.8 124.4h0M1108.1 125.3h0M1108.8 122.5h0M1109.0 111.2h0M1109.2 119.2h0M1109.8 104.6h0M1110.3 116.8h0M1110.8 131.5h0M1111.0 97.2h0M1111.5 138.8h0M1111.9 121.4h0M1112.2 114.2h0M1112.6 113.6h0M1113.0 117.7h0M1113.5 110.5h0M1114.2 115.0h0M1114.5 123.8h0M1115.0 118.2h0M1115.3 110.7h0M1115.6 98.0h0M1116.2 86.3h0M1116.4 121.5h0M1117.0 117.4h0M1117.4 117.6h0M1117.8 115.0h0M1118.2 104.8h0M1118.8 135.5h0M1119.0 110.6h0M1119.4 94.8h0M1119.8 106.9h0M1120.3 107.1h0M1120.7 114.4h0M1121.3 100.1h0M1121.5 110.0h0M1121.9 119.4h0M1122.2 97.5h0M1122.9 103.5h0M1123.3 92.2h0M1123.6 103.2h0M1124.1 94.6h0M1124.6 100.1h0M1124.7 105.9h0M1125.7 92.2h0M1126.2 105.7h0M1126.4 103.5h0M1126.9 96.0h0M1127.6 96.4h0M1127.7 96.9h0M1128.1 102.7h0M1128.8 100.2h0M1129.0 97.5h0M1129.3 97.9h0M1130.0 96.9h0M1130.1 109.8h0M1131.0 94.3h0M1131.8 102.2h0M1132.4 94.9h0M1132.8 90.9h0M1133.2 91.1h0M1133.6 96.8h0M1134.2 96.6h0M1134.6 83.3h0M1134.9 88.7h0M1135.6 94.0h0M1135.7 108.2h0M1136.2 90.9h0M1136.4 86.3h0M1137.1 90.0h0M1137.7 86.6h0M1138.2 101.7h0M1138.7 97.0h0M1139.5 90.1h0M1140.0 83.2h0M1141.4 88.1h0M1141.5 94.4h0M1142.2 86.8h0M1142.4 86.1h0M1000.5 184.5h0M1000.5 198.7h0M1004.7 197.0h0M985.5 210.3h0M993.7 215.0h0M971.3 218.3h0M990.5 219.5h0M971.7 227.5h0M970.8 233.3h0M968.0 237.5h0M1037.5 208.7h0M1033.0 209.5h0M1021.7 234.5h0M1019.2 240.3h0M1004.7 244.5h0M1009.7 250.5h0M953.7 251.3h0M953.0 257.2h0M1110.5 90.4h0M1119.0 93.0h0M1107.6 99.4h0M1112.4 96.5h0M1107.6 107.6h0M1129.7 107.0h0M1131.2 115.3h0M1117.2 124.3h0M1110.5 133.0h0M1127.4 139.2h0M1066.4 121.0h0M1048.2 124.3h0M1058.4 134.5h0M1079.5 128.7h0M1088.5 124.3h0M1073.1 137.1h0M1094.2 144.4h0M847.5 341.3h0M856.3 340.5h0M798.3 412.2h0M770.5 470.0h0M773.0 473.0h0M893.3 299.2h0M902.5 295.0h0M918.8 288.3h0M929.5 268.3h0M926.7 281.7h0M948.3 248.0h0M954.0 251.3h0M950.5 253.3h0M953.3 257.0h0M1107.2 169.6h0M1101.1 180.4h0M1100.0 188.7h0M1078.6 188.3h0M1083.6 206.3h0M1056.1 209.0h0M1054.6 253.5h0M1077.5 263.2h0M1052.3 198.8h0M1049.4 196.6h0M1037.5 154.5h0M1031.4 161.3h0M1024.6 183.8h0M1016.3 191.2h0M1013.0 224.0h0M1016.0 230.0h0M1019.0 236.0h0M1021.0 240.0h0M1012.0 233.0h0M1018.0 226.0h0" stroke="#000000" stroke-width="3.60" stroke-linecap="round" fill="none"/>
<path d="M729.1 497.6h0M729.4 497.1h0M729.4 497.2h0M729.7 495.2h0M729.9 497.5h0M730.0 495.6h0M730.2 499.2h0M730.3 497.9h0M730.6 496.1h0M730.7 498.7h0M730.9 494.7h0M731.2 495.6h0M731.3 495.6h0M731.4 493.8h0M731.6 495.6h0M731.8 497.6h0M732.1 496.4h0M732.3 495.6h0M732.3 492.4h0M732.6 494.0h0M732.8 492.5h0M732.9 494.2h0M733.0 493.8h0M733.3 493.3h0M733.5 491.3h0M733.6 491.8h0M733.9 492.8h0M733.9 496.4h0M734.2 495.5h0M734.4 493.3h0M734.6 492.9h0M734.6 493.5h0M735.0 491.9h0M735.1 495.4h0M735.2 492.8h0M735.4 491.1h0M735.5 493.5h0M735.7 489.1h0M735.9 489.2h0M736.2 489.7h0M736.2 491.3h0M736.6 487.6h0M736.6 492.7h0M736.9 491.4h0M737.1 490.2h0M737.2 487.6h0M737.4 490.9h0M737.7 490.2h0M737.7 489.6h0M738.0 489.5h0M738.0 487.4h0M738.3 488.3h0M738.5 487.4h0M738.6 487.4h0M738.8 485.0h0M739.1 488.6h0M739.2 487.1h0M739.3 488.4h0M739.6 486.7h0M739.8 487.8h0M739.8 484.7h0M740.2 485.3h0M740.4 483.6h0M740.5 485.3h0M740.7 486.1h0M740.9 489.5h0M741.1 482.3h0M741.3 486.7h0M741.4 486.2h0M741.6 489.0h0M741.7 483.9h0M742.0 486.4h0M742.1 483.4h0M742.3 484.8h0M742.5 486.1h0M742.7 484.1h0M742.8 484.2h0M743.0 480.3h0M743.1 484.3h0M743.4 486.9h0M743.6 482.3h0M743.8 483.1h0M743.9 486.2h0M744.1 480.8h0M744.3 484.2h0M744.5 481.4h0M744.6 481.4h0M744.8 484.4h0M745.0 479.8h0M745.2 484.0h0M745.3 486.0h0M745.4 480.9h0M745.8 484.0h0M745.9 481.7h0M746.1 479.7h0M746.3 477.6h0M746.4 479.2h0M746.6 480.1h0M746.8 481.1h0M747.0 477.5h0M747.1 479.2h0M747.3 479.4h0M747.6 476.2h0M747.6 479.3h0M747.9 478.9h0M748.0 479.0h0M748.2 472.5h0M748.4 477.1h0M748.7 477.6h0M748.7 472.3h0M749.0 479.1h0M749.1 476.0h0M749.4 478.3h0M749.4 477.6h0M749.7 477.5h0M749.9 473.6h0M750.0 476.3h0M750.3 480.8h0M750.3 473.5h0M750.5 477.2h0M750.8 473.4h0M751.0 476.0h0M751.1 473.9h0M751.3 474.5h0M751.5 475.2h0M751.7 477.3h0M751.8 477.2h0M752.1 478.4h0M752.2 476.1h0M752.5 471.0h0M752.5 478.5h0M752.7 472.3h0M752.9 474.3h0M753.1 473.5h0M753.2 473.4h0M753.5 471.7h0M753.6 474.5h0M753.8 476.8h0M754.0 472.1h0M754.1 478.4h0M754.4 471.6h0M754.5 474.1h0M754.8 470.7h0M754.9 468.0h0M755.0 468.6h0M755.3 469.4h0M755.4 468.1h0M755.6 467.4h0M755.9 471.1h0M756.1 474.2h0M756.2 469.9h0M756.3 471.6h0M756.6 472.2h0M756.7 471.3h0M756.9 464.6h0M757.1 471.9h0M757.3 467.7h0M757.5 474.7h0M757.7 468.5h0M757.8 472.6h0M757.9 471.7h0M758.2 464.0h0M758.4 468.9h0M758.5 465.4h0M758.6 469.8h0M758.8 463.0h0M759.1 463.1h0M759.2 464.4h0M759.5 463.9h0M759.6 465.5h0M759.7 469.4h0M760.0 470.2h0M760.1 471.2h0M760.2 464.4h0M760.5 464.4h0M760.7 467.5h0M760.9 467.3h0M761.1 465.0h0M761.1 467.8h0M761.5 465.4h0M761.6 464.9h0M761.8 466.7h0M762.0 458.6h0M762.0 465.1h0M762.3 460.2h0M762.4 464.8h0M762.7 458.1h0M762.8 465.0h0M763.0 468.5h0M763.3 463.3h0M763.3 467.2h0M763.6 465.7h0M763.7 464.2h0M763.9 461.4h0M764.0 464.2h0M764.3 465.4h0M764.5 461.8h0M764.6 465.4h0M764.7 460.7h0M765.0 465.7h0M765.2 465.9h0M765.4 461.8h0M765.6 465.1h0M765.7 459.0h0M765.9 465.0h0M766.1 458.9h0M766.3 462.6h0M766.4 465.1h0M766.6 460.3h0M766.9 466.0h0M767.0 464.0h0M767.3 460.6h0M767.3 464.6h0M767.6 453.9h0M767.7 461.2h0M767.9 457.5h0M768.2 456.8h0M768.3 453.0h0M768.5 455.5h0M768.6 459.0h0M768.7 455.5h0M769.0 461.5h0M769.2 457.4h0M769.3 458.6h0M769.5 460.5h0M769.7 454.5h0M769.9 453.6h0M770.1 448.8h0M770.2 452.9h0M770.4 451.2h0M770.6 451.8h0M770.7 450.8h0M771.0 456.9h0M771.1 458.0h0M771.3 460.4h0M771.4 456.9h0M771.7 454.9h0M771.9 450.6h0M772.0 454.0h0M772.3 453.4h0M772.4 454.1h0M772.5 457.2h0M772.7 452.9h0M772.9 449.3h0M773.1 453.9h0M773.4 448.5h0M773.5 456.5h0M773.6 452.5h0M773.8 458.1h0M774.1 450.3h0M774.2 448.3h0M774.4 453.3h0M774.5 455.2h0M774.7 451.2h0M774.9 457.7h0M775.0 448.5h0M775.3 451.2h0M775.5 445.0h0M775.7 440.9h0M775.7 445.9h0M776.1 452.6h0M776.2 448.9h0M776.4 455.9h0M776.5 452.9h0M776.7 450.1h0M776.9 450.5h0M777.0 449.6h0M777.2 443.0h0M777.5 451.7h0M777.7 447.0h0M777.8 448.7h0M777.9 445.9h0M778.1 445.1h0M778.4 443.1h0M778.4 450.2h0M778.8 451.3h0M778.9 445.9h0M779.0 445.5h0M779.3 453.5h0M779.4 445.9h0M779.7 447.0h0M779.8 445.2h0M780.0 447.1h0M780.1 445.0h0M780.3 449.0h0M780.5 447.4h0M780.6 449.3h0M781.0 448.0h0M781.1 445.8h0M781.2 441.6h0M781.4 442.6h0M781.6 444.0h0M781.8 442.6h0M782.0 448.5h0M782.1 439.3h0M782.3 446.1h0M782.5 443.5h0M782.7 446.0h0M782.8 444.2h0M783.1 438.6h0M783.3 444.6h0M783.4 440.5h0M783.5 442.2h0M783.7 441.2h0M783.9 439.5h0M784.1 443.1h0M784.3 443.9h0M784.5 443.5h0M784.7 443.1h0M784.8 440.9h0M785.1 435.3h0M785.2 443.7h0M785.3 439.9h0M785.6 445.9h0M785.8 442.0h0M785.9 434.1h0M786.2 440.7h0M786.3 438.2h0M786.6 440.9h0M786.7 440.1h0M786.8 434.7h0M787.0 443.9h0M787.2 437.6h0M787.3 438.7h0M787.5 436.3h0M787.7 446.4h0M787.9 443.7h0M788.1 435.1h0M788.3 435.6h0M788.5 441.2h0M788.6 434.1h0M788.7 437.1h0M789.0 437.6h0M789.2 431.1h0M789.4 430.7h0M789.5 440.1h0M789.6 443.9h0M789.8 436.2h0M790.0 440.3h0M790.3 436.8h0M790.5 438.0h0M790.5 439.0h0M790.7 434.1h0M790.9 437.0h0M791.1 438.2h0M791.3 438.9h0M791.5 435.8h0M791.8 438.1h0M791.8 437.2h0M792.1 432.8h0M792.2 437.8h0M792.3 434.6h0M792.5 435.6h0M792.8 439.5h0M793.0 436.1h0M793.1 432.9h0M793.4 434.8h0M793.5 435.9h0M793.6 438.7h0M793.9 434.4h0M794.1 434.0h0M794.3 433.6h0M794.4 432.7h0M794.6 433.8h0M794.8 431.0h0M795.0 433.9h0M795.0 431.3h0M795.4 430.6h0M795.4 435.6h0M795.6 428.8h0M795.8 436.4h0M796.0 426.2h0M796.3 431.9h0M796.4 426.8h0M796.5 431.8h0M796.7 427.7h0M796.9 432.3h0M797.0 429.4h0M797.2 428.0h0M797.5 424.2h0M797.7 434.8h0M797.9 432.1h0M798.0 428.0h0M798.1 430.8h0M798.3 430.8h0M798.5 424.6h0M798.8 427.6h0M798.9 425.2h0M799.0 425.6h0M799.3 424.7h0M799.4 426.1h0M799.7 435.3h0M799.8 428.0h0M800.0 426.0h0M800.1 422.6h0M800.4 421.3h0M800.6 424.6h0M800.7 426.4h0M800.8 429.5h0M801.1 426.8h0M801.3 425.4h0M801.4 426.2h0M801.7 429.0h0M801.7 427.6h0M802.1 419.9h0M802.1 426.4h0M802.3 426.2h0M802.5 428.0h0M802.7 428.3h0M802.9 423.5h0M803.0 424.0h0M803.2 426.5h0M803.3 424.9h0M803.7 426.5h0M803.7 427.3h0M803.9 425.1h0M804.2 428.1h0M804.3 419.6h0M804.5 419.8h0M804.6 427.4h0M804.8 420.1h0M805.0 417.5h0M805.2 416.0h0M805.4 423.3h0M805.6 417.3h0M805.8 419.1h0M806.0 423.7h0M806.2 425.6h0M806.3 424.4h0M806.4 423.8h0M806.6 423.1h0M806.8 422.9h0M807.0 421.7h0M807.2 420.6h0M807.4 420.6h0M807.5 421.5h0M807.8 416.6h0M808.0 419.9h0M808.1 418.3h0M808.4 415.6h0M808.5 418.9h0M808.6 416.4h0M808.9 418.6h0M808.9 416.4h0M809.2 424.2h0M809.4 417.1h0M809.6 420.4h0M809.8 412.6h0M809.9 415.4h0M810.0 420.7h0M810.3 412.5h0M810.5 416.0h0M810.6 414.9h0M810.8 410.1h0M810.9 416.2h0M811.2 416.2h0M811.3 416.1h0M811.6 413.3h0M811.7 413.1h0M811.9 421.3h0M812.0 412.4h0M812.2 415.7h0M812.5 413.7h0M812.7 416.8h0M812.7 414.4h0M813.0 413.4h0M813.1 414.3h0M813.3 414.3h0M813.5 413.1h0M813.7 414.2h0M813.9 411.1h0M814.0 415.6h0M814.2 416.7h0M814.5 414.8h0M814.5 407.6h0M814.8 412.7h0M814.9 415.2h0M815.2 414.0h0M815.3 413.0h0M815.5 409.1h0M815.6 411.1h0M815.9 414.6h0M815.9 408.3h0M816.2 415.7h0M816.5 409.3h0M816.5 414.5h0M816.7 412.0h0M816.9 407.5h0M817.0 406.4h0M817.2 405.2h0M817.4 410.0h0M817.7 407.8h0M817.8 411.2h0M818.0 408.7h0M818.2 403.8h0M818.3 413.0h0M818.5 407.8h0M818.8 410.9h0M818.9 406.5h0M819.1 408.4h0M819.3 402.7h0M819.4 404.1h0M819.6 408.4h0M819.8 404.1h0M820.0 409.2h0M820.1 408.6h0M820.5 406.9h0M820.6 411.4h0M820.8 405.4h0M820.9 408.4h0M821.1 404.7h0M821.3 406.0h0M821.5 405.6h0M821.6 400.9h0M821.8 408.8h0M822.0 408.4h0M822.1 403.2h0M822.4 405.3h0M822.5 408.8h0M822.8 405.5h0M823.0 400.1h0M823.4 408.7h0M823.6 407.3h0M823.9 399.9h0M824.2 405.6h0M824.6 403.4h0M824.7 405.8h0M825.1 403.0h0M825.5 397.5h0M825.9 403.2h0M826.2 402.2h0M826.5 401.7h0M826.6 397.3h0M827.2 404.0h0M827.3 399.4h0M827.7 399.3h0M828.0 401.8h0M828.3 395.3h0M828.8 396.1h0M828.9 397.8h0M829.4 397.4h0M829.5 397.7h0M829.8 396.9h0M830.2 399.9h0M830.5 402.0h0M830.8 395.5h0M831.0 396.6h0M831.4 398.3h0M831.7 396.8h0M832.1 396.1h0M832.3 397.1h0M832.7 395.0h0M833.1 395.1h0M833.4 395.5h0M833.7 394.9h0M834.0 394.4h0M834.4 390.9h0M834.7 393.4h0M835.0 386.7h0M835.2 397.3h0M835.6 391.2h0M835.7 389.3h0M836.2 392.9h0M836.6 393.6h0M836.7 391.1h0M837.3 394.1h0M837.3 389.9h0M837.7 391.4h0M838.2 387.5h0M838.3 387.8h0M838.7 386.5h0M839.1 385.4h0M839.4 385.7h0M839.8 386.4h0M840.0 384.5h0M840.2 383.5h0M840.7 386.1h0M840.9 388.0h0M841.3 386.4h0M841.5 381.9h0M842.0 383.3h0M842.0 388.6h0M842.4 383.9h0M842.8 386.7h0M843.2 384.4h0M843.5 386.9h0M843.9 388.3h0M844.0 383.0h0M844.5 377.9h0M844.7 381.5h0M845.1 380.0h0M845.3 379.0h0M845.8 380.0h0M846.0 382.2h0M846.4 380.5h0M846.6 384.0h0M846.8 381.7h0M847.2 384.9h0M847.4 381.3h0M848.0 383.7h0M848.3 375.2h0M848.3 376.2h0M848.7 374.6h0M849.2 376.8h0M849.4 376.6h0M849.6 378.3h0M850.1 373.8h0M850.3 376.0h0M850.7 376.5h0M851.0 373.1h0M851.3 374.7h0M851.5 374.8h0M852.0 373.3h0M852.3 365.6h0M852.7 373.3h0M852.8 370.9h0M853.4 373.2h0M853.4 374.9h0M853.7 372.9h0M854.2 374.2h0M854.5 373.5h0M854.7 374.8h0M855.0 372.0h0M855.4 372.3h0M855.6 368.7h0M856.1 374.3h0M856.3 371.3h0M856.7 366.3h0M857.1 367.5h0M857.5 371.7h0M857.5 372.0h0M858.0 368.0h0M858.3 371.4h0M858.7 369.8h0M859.0 361.9h0M859.2 366.2h0M859.4 370.0h0M859.7 368.1h0M860.3 364.0h0M860.6 368.1h0M860.9 364.5h0M861.2 365.7h0M861.3 367.1h0M861.8 364.1h0M862.0 362.5h0M862.4 362.9h0M862.6 361.5h0M863.1 366.7h0M863.4 363.3h0M863.5 363.2h0M863.8 361.9h0M864.2 363.3h0M864.6 363.9h0M865.0 359.9h0M865.1 363.5h0M865.4 361.4h0M865.9 361.0h0M866.3 358.7h0M866.5 362.3h0M866.7 363.4h0M866.9 362.1h0M867.5 356.6h0M867.6 361.7h0M868.1 359.2h0M868.4 370.6h0M868.6 358.9h0M869.1 358.3h0M869.4 357.9h0M869.6 358.1h0M870.0 358.1h0M870.2 356.1h0M870.6 355.8h0M870.9 357.7h0M871.3 354.8h0M871.3 354.7h0M871.7 355.3h0M872.2 354.4h0M872.5 352.3h0M872.7 354.4h0M873.1 353.0h0M873.2 352.6h0M873.8 355.5h0M873.9 352.6h0M874.3 353.0h0M874.6 349.7h0M874.8 351.6h0M875.4 351.6h0M875.4 350.6h0M875.9 350.6h0M876.1 349.3h0M876.5 350.5h0M876.8 348.0h0M877.3 348.3h0M877.5 349.5h0M877.9 347.3h0M878.0 349.6h0M878.4 348.5h0M878.7 349.2h0M879.0 348.8h0M879.5 346.9h0M879.6 346.6h0M880.0 349.5h0M880.3 335.4h0M880.6 344.3h0M880.9 346.3h0M881.4 346.5h0M881.5 347.2h0M881.8 349.0h0M882.1 342.1h0M882.6 344.5h0M882.9 343.7h0M883.0 345.2h0M883.3 344.5h0M883.7 349.4h0M884.2 346.1h0M884.3 343.7h0M884.8 343.2h0M884.9 341.0h0M885.3 339.7h0M885.8 342.5h0M886.0 341.4h0M886.4 342.7h0M886.7 339.4h0M887.0 340.7h0M887.2 343.2h0M887.6 337.4h0M888.0 339.3h0M888.2 339.5h0M888.6 338.7h0M888.7 339.4h0M889.2 336.0h0M889.6 338.0h0M889.8 339.4h0M890.0 336.2h0M890.3 337.3h0M890.8 336.9h0M891.1 336.0h0M891.3 335.0h0M891.8 337.4h0M891.9 334.8h0M892.4 333.6h0M892.6 336.7h0M893.1 334.5h0M893.4 334.7h0M893.7 333.1h0M893.7 333.8h0M894.3 333.4h0M894.4 324.7h0M895.0 333.3h0M895.2 331.2h0M895.5 330.8h0M895.9 329.3h0M896.2 333.5h0M896.4 330.1h0M896.7 330.1h0M897.1 329.5h0M897.2 327.7h0M897.5 331.3h0M898.0 327.8h0M898.3 329.3h0M898.5 328.4h0M898.9 329.5h0M899.3 326.4h0M899.5 328.8h0M900.0 323.2h0M900.2 333.9h0M900.6 325.6h0M900.8 336.7h0M901.0 325.6h0M901.4 324.7h0M901.6 324.8h0M902.3 325.8h0M902.4 323.0h0M902.7 325.2h0M903.1 324.7h0M903.5 322.9h0M903.9 322.7h0M904.1 322.9h0M904.4 323.3h0M904.8 323.1h0M905.2 326.7h0M905.7 322.5h0M905.8 322.3h0M906.4 320.9h0M906.5 318.9h0M907.1 320.9h0M907.3 321.1h0M907.6 317.4h0M907.9 319.7h0M908.5 321.4h0M908.9 319.2h0M909.1 319.2h0M909.4 318.3h0M909.6 300.3h0M910.1 314.6h0M910.5 317.9h0M910.7 315.7h0M911.1 315.3h0M911.3 315.3h0M912.0 315.3h0M912.4 315.5h0M912.7 314.7h0M912.8 328.3h0M913.3 297.1h0M913.6 314.8h0M914.0 311.5h0M914.2 300.0h0M914.6 313.9h0M915.0 311.0h0M915.4 310.0h0M915.7 311.4h0M916.0 310.8h0M916.4 310.6h0M916.8 309.3h0M917.0 311.8h0M917.5 310.7h0M917.9 308.9h0M918.1 310.7h0M918.5 308.3h0M918.6 306.7h0M919.1 306.6h0M919.5 307.7h0M919.9 306.9h0M920.3 305.8h0M920.5 305.1h0M920.8 306.5h0M921.3 304.6h0M921.5 306.2h0M922.1 305.2h0M922.1 303.3h0M922.8 304.7h0M923.0 303.0h0M923.4 303.1h0M923.8 303.2h0M924.1 300.7h0M924.5 303.6h0M924.6 302.6h0M925.2 301.2h0M925.5 300.0h0M925.6 300.4h0M926.0 300.7h0M926.5 298.9h0M926.9 301.9h0M927.2 299.8h0M927.3 300.2h0M927.7 290.8h0M928.3 298.6h0M928.6 299.0h0M928.7 295.6h0M929.3 295.2h0M929.4 298.5h0M929.8 298.1h0M930.4 295.0h0M930.6 298.8h0M931.0 297.0h0M931.2 292.6h0M931.6 296.0h0M932.2 299.8h0M932.2 295.7h0M932.6 292.6h0M933.1 292.6h0M933.3 292.9h0M933.7 295.9h0M934.1 305.4h0M934.6 292.1h0M934.7 294.9h0M935.2 288.4h0M935.6 300.1h0M935.7 291.4h0M936.2 291.6h0M936.5 290.9h0M936.9 288.8h0M937.1 290.3h0M937.7 289.7h0M937.8 289.2h0M938.4 289.8h0M938.7 289.6h0M938.9 289.3h0M939.2 286.6h0M939.7 286.1h0M940.0 285.8h0M940.2 287.7h0M940.8 286.2h0M940.9 283.1h0M941.5 285.8h0M941.9 284.6h0M942.0 287.7h0M942.5 287.0h0M942.7 285.0h0M943.0 283.8h0M943.7 283.1h0M943.8 283.4h0M944.2 279.9h0M944.5 282.0h0M944.9 283.0h0M945.3 281.1h0M945.7 282.3h0M945.9 281.0h0M946.1 280.6h0M946.6 281.4h0M947.0 277.7h0M947.2 280.5h0M947.8 278.6h0M948.0 283.0h0M948.4 274.1h0M948.6 278.9h0M949.2 279.9h0M949.4 277.9h0M949.6 276.2h0M950.2 279.2h0M950.6 286.3h0M950.8 275.9h0M951.2 275.9h0M951.6 276.8h0M951.8 277.1h0M952.2 272.8h0M952.4 275.6h0M953.0 274.8h0M953.2 274.0h0M953.5 273.9h0M953.9 272.9h0M954.1 271.2h0M954.7 275.2h0M954.8 269.7h0M955.2 270.9h0M955.8 269.9h0M956.1 272.5h0M956.4 271.0h0M956.6 269.4h0M957.2 271.4h0M957.3 267.6h0M957.6 255.2h0M958.0 271.1h0M958.3 267.7h0M958.9 259.8h0M959.1 268.7h0M959.4 268.9h0M959.9 269.6h0M960.3 265.1h0M960.6 267.9h0M961.0 266.4h0M961.2 267.7h0M961.4 265.5h0M962.0 263.0h0M962.1 265.0h0M962.6 254.1h0M962.9 263.9h0M963.3 264.9h0M963.6 261.4h0M964.0 264.5h0M964.4 262.7h0M964.7 273.6h0M965.2 262.0h0M965.4 260.2h0M965.7 261.1h0M966.0 260.3h0M966.4 261.0h0M966.7 261.3h0M967.3 259.4h0M967.5 258.0h0M967.9 260.2h0M968.3 273.3h0M968.6 258.0h0M969.0 258.9h0M969.1 258.9h0M969.5 257.1h0M970.0 255.2h0M970.3 254.9h0M970.7 256.3h0M970.8 253.7h0M971.2 257.5h0M971.7 255.9h0M971.9 255.5h0M972.3 254.2h0M972.8 254.1h0M973.0 253.0h0M973.2 254.5h0M973.8 255.7h0M974.2 252.3h0M974.5 249.7h0M974.9 265.1h0M975.2 251.9h0M975.5 250.0h0M976.0 252.4h0M976.3 250.8h0M976.5 252.0h0M976.9 250.0h0M977.3 249.5h0M977.5 246.7h0M978.1 251.8h0M978.1 248.7h0M978.6 247.4h0M979.1 247.5h0M979.1 249.2h0M979.8 248.5h0M979.8 244.3h0M980.5 249.0h0M980.7 242.7h0M981.0 262.7h0M981.4 246.1h0M981.6 242.4h0M982.1 247.1h0M982.4 244.5h0M982.9 249.9h0M983.1 242.5h0M983.6 244.4h0M983.8 243.9h0M984.1 228.5h0M984.4 234.7h0M985.0 241.7h0M985.2 241.7h0M985.6 240.8h0M985.8 244.0h0M986.1 238.6h0M986.6 238.1h0M986.9 241.3h0M987.5 241.3h0M987.6 241.6h0M988.2 241.3h0M988.2 239.7h0M988.6 237.4h0M988.9 239.3h0M989.4 237.2h0M989.8 235.6h0M990.0 235.5h0M990.4 232.8h0M990.6 236.5h0M991.0 236.9h0M991.5 233.8h0M992.0 232.8h0M992.1 236.0h0M992.5 237.1h0M993.0 234.5h0M993.2 228.5h0M993.4 232.2h0M993.7 233.3h0M994.1 232.7h0M994.7 231.3h0M995.0 232.0h0M995.4 232.5h0M995.5 229.5h0M995.9 231.7h0M996.3 233.2h0M996.8 228.6h0M997.2 229.1h0M997.3 238.3h0M997.9 230.6h0M998.2 229.9h0M998.6 228.7h0M998.9 227.1h0M999.3 227.6h0M999.5 225.5h0M999.9 227.1h0M1000.2 223.6h0M1000.7 228.3h0M1001.0 227.3h0M1001.3 227.2h0M1001.7 227.5h0M1002.0 222.1h0M1002.2 227.7h0M1002.7 224.0h0M1002.8 223.0h0M1003.2 223.7h0M1003.7 224.2h0M1004.0 223.8h0M1004.3 221.2h0M1004.8 221.7h0M1005.0 221.6h0M1005.4 223.3h0M1005.8 220.5h0M1006.2 221.7h0M1006.5 220.3h0M1006.8 220.7h0M1007.1 217.7h0M1007.5 221.0h0M1007.7 220.2h0M1008.0 217.5h0M1008.5 216.1h0M1008.7 219.0h0M1009.0 219.3h0M1009.4 219.0h0M1010.1 218.3h0M1010.2 216.7h0M1010.5 215.1h0M1010.9 215.3h0M1011.2 211.5h0M1011.6 214.0h0M1012.0 224.6h0M1012.2 215.9h0M1012.7 212.5h0M1013.0 228.1h0M1013.2 214.1h0M1013.6 215.2h0M1014.2 213.0h0M1014.4 210.1h0M1014.9 213.9h0M1015.2 213.7h0M1015.6 210.8h0M1015.9 210.9h0M1016.0 212.6h0M1016.5 211.3h0M1016.7 211.0h0M1017.0 209.7h0M1017.5 208.6h0M1017.9 207.0h0M1018.1 207.9h0M1018.6 209.4h0M1018.9 207.0h0M1019.2 213.0h0M1019.8 208.5h0M1020.0 208.8h0M1020.4 208.7h0M1020.6 208.1h0M1021.0 204.5h0M1021.2 207.1h0M1021.6 205.3h0M1022.2 205.2h0M1022.4 202.9h0M1022.8 202.7h0M1023.2 202.3h0M1023.5 203.5h0M1023.6 202.9h0M1024.2 200.1h0M1024.4 205.0h0M1024.9 200.9h0M1025.2 200.0h0M1025.5 202.6h0M1025.8 201.4h0M1026.2 200.6h0M1026.7 199.4h0M1026.7 199.7h0M1027.3 197.4h0M1027.4 198.3h0M1028.0 199.5h0M1028.3 200.7h0M1028.6 198.2h0M1029.0 199.7h0M1029.1 195.7h0M1029.8 196.1h0M1030.1 196.0h0M1030.3 197.5h0M1030.5 198.4h0M1030.9 194.9h0M1031.3 196.4h0M1031.7 194.5h0M1032.0 194.5h0M1032.5 194.0h0M1032.6 193.0h0M1032.9 191.6h0M1033.4 194.5h0M1033.6 193.1h0M1033.9 192.9h0M1034.6 192.4h0M1034.9 191.2h0M1035.1 192.6h0M1035.4 191.4h0M1036.0 191.0h0M1036.3 191.7h0M1036.4 193.8h0M1036.9 195.0h0M1037.3 189.6h0M1037.7 191.7h0M1038.0 191.2h0M1038.1 188.1h0M1038.6 180.9h0M1039.1 187.3h0M1039.2 190.4h0M1039.7 185.1h0M1039.9 187.0h0M1040.3 187.0h0M1040.8 183.3h0M1041.1 185.6h0M1041.5 187.2h0M1041.8 184.4h0M1042.1 183.8h0M1042.4 195.0h0M1042.6 185.8h0M1042.9 183.2h0M1043.3 185.8h0M1043.8 182.2h0M1044.2 182.4h0M1044.5 182.6h0M1044.7 181.5h0M1045.2 181.8h0M1045.5 178.8h0M1045.9 181.8h0M1046.2 180.8h0M1046.6 178.8h0M1047.0 177.5h0M1047.3 180.1h0M1047.7 180.4h0M1047.9 179.9h0M1048.1 178.1h0M1048.7 176.0h0M1048.9 180.6h0M1049.4 179.7h0M1049.6 177.3h0M1049.9 174.6h0M1050.4 176.9h0M1050.7 178.9h0M1050.9 176.4h0M1051.4 174.6h0M1051.7 172.9h0M1052.0 175.6h0M1052.3 173.9h0M1052.8 173.0h0M1053.2 176.0h0M1053.5 172.3h0M1053.9 170.8h0M1054.1 181.5h0M1054.5 170.6h0M1054.8 173.9h0M1055.1 170.6h0M1055.6 171.6h0M1055.9 171.5h0M1056.3 171.2h0M1056.4 170.1h0M1057.0 167.2h0M1057.1 172.9h0M1057.4 169.7h0M1057.8 168.3h0M1058.3 168.9h0M1058.7 169.8h0M1059.1 165.7h0M1059.1 165.6h0M1059.5 167.3h0M1059.9 168.8h0M1060.4 167.0h0M1060.6 166.7h0M1061.1 160.8h0M1061.3 163.8h0M1061.6 165.0h0M1062.1 166.2h0M1062.5 163.3h0M1062.6 164.3h0M1063.2 164.1h0M1063.5 162.5h0M1063.6 162.3h0M1064.1 162.2h0M1064.5 163.0h0M1064.9 160.3h0M1065.0 162.2h0M1065.5 162.3h0M1065.8 161.1h0M1066.2 158.8h0M1066.6 144.6h0M1066.8 159.4h0M1067.2 158.8h0M1067.6 158.3h0M1068.0 160.5h0M1068.2 158.0h0M1068.6 159.2h0M1069.0 157.6h0M1069.3 156.4h0M1069.7 158.2h0M1070.0 154.7h0M1070.1 156.5h0M1070.7 154.6h0M1070.9 157.5h0M1071.3 155.0h0M1071.8 154.8h0M1072.0 152.8h0M1072.4 157.0h0M1072.7 155.9h0M1073.1 154.6h0M1073.3 153.2h0M1073.6 155.9h0M1074.0 154.0h0M1074.4 151.9h0M1074.7 151.8h0M1075.2 151.7h0M1075.6 153.0h0M1075.7 152.7h0M1076.1 151.9h0M1076.3 150.8h0M1076.8 149.2h0M1077.1 149.5h0M1077.5 147.2h0M1078.0 151.6h0M1078.3 149.5h0M1078.6 149.4h0M1078.8 146.8h0M1079.1 146.5h0M1079.5 147.3h0M1079.9 131.9h0M1080.5 149.2h0M1080.7 145.2h0M1080.8 145.3h0M1081.4 144.4h0M1081.5 146.6h0M1081.9 143.8h0M1082.4 142.5h0M1082.8 145.8h0M1082.9 143.1h0M1083.4 143.0h0M1083.8 141.3h0M1084.1 144.1h0M1084.5 142.2h0M1084.8 150.9h0M1085.1 140.2h0M1085.4 142.6h0M1085.8 143.1h0M1086.0 141.6h0M1086.5 141.0h0M1086.7 141.9h0M1087.1 140.9h0M1087.5 140.3h0M1087.7 137.5h0M1088.2 137.0h0M1088.4 139.5h0M1088.8 137.9h0M1089.2 138.5h0M1089.7 135.4h0M1089.8 134.2h0M1090.3 135.7h0M1090.6 138.6h0M1091.0 133.4h0M1091.4 135.4h0M1091.5 133.7h0M1092.1 133.7h0M1092.2 133.3h0M1092.9 142.7h0M1093.0 134.3h0M1093.3 131.7h0M1093.8 131.3h0M1094.1 134.6h0M1094.4 133.3h0M1094.9 131.6h0M1095.1 130.7h0M1095.5 121.4h0M1096.0 129.4h0M1096.0 131.2h0M1096.5 132.4h0M1096.8 132.0h0M1097.2 129.4h0M1097.4 128.6h0M1098.0 126.6h0M1098.3 129.5h0M1098.6 137.9h0M1098.8 129.5h0M1099.2 129.3h0M1099.7 127.1h0M1100.1 127.6h0M1100.3 126.4h0M1100.7 125.3h0M1101.2 126.5h0M1101.5 126.2h0M1101.7 123.4h0M1102.1 124.3h0M1102.5 124.3h0M1102.8 123.4h0M1103.0 123.7h0M1103.6 122.1h0M1103.9 122.0h0M1104.3 122.0h0M1104.6 122.8h0M1104.9 121.6h0M1105.1 123.9h0M1105.4 120.6h0M1105.8 120.5h0M1106.1 118.6h0M1106.6 119.7h0M1106.9 117.9h0M1107.0 121.9h0M1107.4 118.7h0M1108.0 118.8h0M1108.2 120.4h0M1108.7 120.7h0M1109.1 116.8h0M1109.2 118.8h0M1109.5 117.3h0M1110.1 118.3h0M1110.3 115.7h0M1110.8 116.5h0M1110.9 115.7h0M1111.4 115.7h0M1111.7 114.5h0M1112.1 113.7h0M1112.5 113.9h0M1112.7 117.3h0M1113.1 111.9h0M1113.3 112.2h0M1113.7 117.1h0M1114.0 112.8h0M1114.4 112.8h0M1114.9 112.9h0M1115.1 111.4h0M1115.3 112.9h0M1115.8 112.1h0M1116.1 111.9h0M1116.6 110.0h0M1116.7 121.8h0M1117.3 112.1h0M1117.4 110.2h0M1117.8 111.7h0M1118.1 107.7h0M1118.5 109.6h0M1119.0 107.0h0M1119.1 107.2h0M1119.5 107.1h0M1120.0 106.1h0M1120.2 108.7h0M1120.5 109.5h0M1120.9 105.1h0M1121.2 106.1h0M1121.8 103.7h0M1121.9 106.1h0M1122.3 104.6h0M1122.8 104.2h0M1123.2 102.7h0M1123.5 104.6h0M1123.8 103.4h0M1124.2 103.2h0M1124.4 102.1h0M1124.6 101.5h0M1125.3 99.5h0M1125.3 101.2h0M1125.9 102.8h0M1126.3 100.1h0M1126.6 101.1h0M1127.0 100.0h0M1127.1 100.0h0M1127.6 97.4h0M1127.8 98.6h0M1128.2 98.9h0M1128.4 97.6h0M1128.8 98.6h0M1129.1 96.6h0M1129.5 97.6h0M1130.0 95.0h0M1130.2 96.1h0M1130.7 99.3h0M1130.9 94.7h0M1131.2 95.0h0M1131.8 99.7h0M1132.2 96.4h0M1132.2 93.8h0M1132.7 96.3h0M1132.9 91.3h0M1133.4 93.6h0M1133.6 93.1h0M1134.1 94.3h0M1134.4 91.8h0M1134.7 92.6h0M1135.2 92.3h0M1135.4 93.1h0M1135.7 90.5h0M1136.3 91.8h0M1136.4 91.9h0M1136.9 89.7h0M1137.2 88.6h0M1137.7 90.0h0M1137.7 88.7h0M1138.1 89.5h0M1138.6 90.7h0M1138.8 89.2h0M1139.2 90.1h0M1139.7 85.1h0M1140.0 88.3h0M1140.3 84.8h0M1140.8 87.8h0M1140.9 87.7h0M1141.2 85.6h0M1141.5 84.2h0M1142.1 86.8h0M1142.2 85.6h0M1142.9 82.6h0M1143.2 85.5h0M1143.9 82.7h0M1144.1 82.8h0M1144.5 81.9h0M1128.2 93.9h0M1129.1 103.5h0M1129.6 101.7h0M1130.2 101.0h0M1131.3 91.6h0M1131.8 95.4h0M1132.0 94.7h0M1132.7 88.3h0M1133.5 96.8h0M1133.9 91.4h0M1134.9 88.7h0M1135.3 90.3h0M1136.1 84.1h0M1136.7 90.6h0M1137.4 93.9h0M1138.2 85.1h0M1138.7 83.3h0M1139.5 87.8h0M1140.0 87.0h0M1140.2 86.4h0M1141.3 89.9h0M1141.5 89.4h0M1142.5 86.0h0M1142.8 82.5h0M1143.9 82.2h0M1013.3 196.7h0M1008.3 199.5h0M983.3 222.5h0M1001.7 215.0h0M1006.7 212.5h0M1025.8 211.7h0M980.8 236.7h0M995.0 243.3h0M985.0 257.5h0M1017.5 204.2h0M1110.1 103.2h0M1123.3 115.3h0M1068.3 145.4h0M1048.2 152.1h0M1043.0 167.0h0M1052.0 163.2h0M1034.2 180.3h0M766.0 474.7h0M880.0 360.0h0M869.7 370.8h0M875.8 367.5h0M857.5 360.8h0M850.0 367.5h0M947.2 258.0h0M941.3 266.7h0M968.3 292.5h0M939.7 304.2h0M952.5 288.3h0M922.5 322.8h0M915.5 325.3h0M886.7 328.0h0M1102.3 164.6h0M1106.3 231.0h0M1075.3 168.0h0M1015.6 252.4h0M1048.3 152.3h0" stroke="#ff8c00" stroke-width="6.60" stroke-linecap="round" fill="none"/>
<path d="M707.80 518.25L1140.30 85.75" stroke="#787878" stroke-width="0.95" stroke-dasharray="2.6 1.35" fill="none"/>
</g>
<rect x="708.50" y="86.45" width="433" height="432.9" fill="none" stroke="#cccccc" stroke-width="2.75"/>
<text font-size="17.17"><tspan x="109.63" y="554.00" textLength="12.22" lengthAdjust="spacingAndGlyphs">−</tspan><tspan x="122.43" y="554.00" textLength="9.69" lengthAdjust="spacingAndGlyphs">5</tspan></text>
<text font-size="17.17"><tspan x="152.88" y="554.00" textLength="12.22" lengthAdjust="spacingAndGlyphs">−</tspan><tspan x="165.68" y="554.00" textLength="9.69" lengthAdjust="spacingAndGlyphs">4</tspan></text>
<text font-size="17.17"><tspan x="196.13" y="554.00" textLength="12.22" lengthAdjust="spacingAndGlyphs">−</tspan><tspan x="208.93" y="554.00" textLength="9.69" lengthAdjust="spacingAndGlyphs">3</tspan></text>
<text font-size="17.17"><tspan x="239.38" y="554.00" textLength="12.22" lengthAdjust="spacingAndGlyphs">−</tspan><tspan x="252.18" y="554.00" textLength="9.69" lengthAdjust="spacingAndGlyphs">2</tspan></text>
<text font-size="17.17"><tspan x="282.63" y="554.00" textLength="12.22" lengthAdjust="spacingAndGlyphs">−</tspan><tspan x="295.43" y="554.00" textLength="9.69" lengthAdjust="spacingAndGlyphs">1</tspan></text>
<text font-size="17.17"><tspan x="331.70" y="554.00" textLength="9.69" lengthAdjust="spacingAndGlyphs">0</tspan></text>
<text font-size="17.17"><tspan x="374.95" y="554.00" textLength="9.69" lengthAdjust="spacingAndGlyphs">1</tspan></text>
<text font-size="17.17"><tspan x="418.20" y="554.00" textLength="9.69" lengthAdjust="spacingAndGlyphs">2</tspan></text>
<text font-size="17.17"><tspan x="461.45" y="554.00" textLength="9.69" lengthAdjust="spacingAndGlyphs">3</tspan></text>
<text font-size="17.17"><tspan x="504.70" y="554.00" textLength="9.69" lengthAdjust="spacingAndGlyphs">4</tspan></text>
<text font-size="17.17"><tspan x="547.95" y="554.00" textLength="9.69" lengthAdjust="spacingAndGlyphs">5</tspan></text>
<text font-size="17.17"><tspan x="74.74" y="524.35" textLength="12.22" lengthAdjust="spacingAndGlyphs">−</tspan><tspan x="87.54" y="524.35" textLength="9.69" lengthAdjust="spacingAndGlyphs">5</tspan></text>
<text font-size="17.17"><tspan x="74.74" y="481.10" textLength="12.22" lengthAdjust="spacingAndGlyphs">−</tspan><tspan x="87.54" y="481.10" textLength="9.69" lengthAdjust="spacingAndGlyphs">4</tspan></text>
<text font-size="17.17"><tspan x="74.74" y="437.85" textLength="12.22" lengthAdjust="spacingAndGlyphs">−</tspan><tspan x="87.54" y="437.85" textLength="9.69" lengthAdjust="spacingAndGlyphs">3</tspan></text>
<text font-size="17.17"><tspan x="74.74" y="394.60" textLength="12.22" lengthAdjust="spacingAndGlyphs">−</tspan><tspan x="87.54" y="394.60" textLength="9.69" lengthAdjust="spacingAndGlyphs">2</tspan></text>
<text font-size="17.17"><tspan x="74.74" y="351.35" textLength="12.22" lengthAdjust="spacingAndGlyphs">−</tspan><tspan x="87.54" y="351.35" textLength="9.69" lengthAdjust="spacingAndGlyphs">1</tspan></text>
<text font-size="17.17"><tspan x="87.54" y="308.10" textLength="9.69" lengthAdjust="spacingAndGlyphs">0</tspan></text>
<text font-size="17.17"><tspan x="87.54" y="264.85" textLength="9.69" lengthAdjust="spacingAndGlyphs">1</tspan></text>
<text font-size="17.17"><tspan x="87.54" y="221.60" textLength="9.69" lengthAdjust="spacingAndGlyphs">2</tspan></text>
<text font-size="17.17"><tspan x="87.54" y="178.35" textLength="9.69" lengthAdjust="spacingAndGlyphs">3</tspan></text>
<text font-size="17.17"><tspan x="87.54" y="135.10" textLength="9.69" lengthAdjust="spacingAndGlyphs">4</tspan></text>
<text font-size="17.17"><tspan x="87.54" y="91.85" textLength="9.69" lengthAdjust="spacingAndGlyphs">5</tspan></text>
<text font-size="17.17"><tspan x="724.93" y="554.00" textLength="12.22" lengthAdjust="spacingAndGlyphs">−</tspan><tspan x="737.73" y="554.00" textLength="25.59" lengthAdjust="spacingAndGlyphs">4.2</tspan></text>
<text font-size="17.17"><tspan x="803.73" y="554.00" textLength="12.22" lengthAdjust="spacingAndGlyphs">−</tspan><tspan x="816.53" y="554.00" textLength="25.59" lengthAdjust="spacingAndGlyphs">4.0</tspan></text>
<text font-size="17.17"><tspan x="882.53" y="554.00" textLength="12.22" lengthAdjust="spacingAndGlyphs">−</tspan><tspan x="895.33" y="554.00" textLength="25.59" lengthAdjust="spacingAndGlyphs">3.8</tspan></text>
<text font-size="17.17"><tspan x="961.33" y="554.00" textLength="12.22" lengthAdjust="spacingAndGlyphs">−</tspan><tspan x="974.13" y="554.00" textLength="25.59" lengthAdjust="spacingAndGlyphs">3.6</tspan></text>
<text font-size="17.17"><tspan x="1040.13" y="554.00" textLength="12.22" lengthAdjust="spacingAndGlyphs">−</tspan><tspan x="1052.93" y="554.00" textLength="25.59" lengthAdjust="spacingAndGlyphs">3.4</tspan></text>
<text font-size="17.17"><tspan x="1118.93" y="554.00" textLength="12.22" lengthAdjust="spacingAndGlyphs">−</tspan><tspan x="1131.73" y="554.00" textLength="25.59" lengthAdjust="spacingAndGlyphs">3.2</tspan></text>
<text font-size="17.17"><tspan x="646.34" y="489.10" textLength="12.22" lengthAdjust="spacingAndGlyphs">−</tspan><tspan x="659.14" y="489.10" textLength="25.59" lengthAdjust="spacingAndGlyphs">4.2</tspan></text>
<text font-size="17.17"><tspan x="646.34" y="410.30" textLength="12.22" lengthAdjust="spacingAndGlyphs">−</tspan><tspan x="659.14" y="410.30" textLength="25.59" lengthAdjust="spacingAndGlyphs">4.0</tspan></text>
<text font-size="17.17"><tspan x="646.34" y="331.50" textLength="12.22" lengthAdjust="spacingAndGlyphs">−</tspan><tspan x="659.14" y="331.50" textLength="25.59" lengthAdjust="spacingAndGlyphs">3.8</tspan></text>
<text font-size="17.17"><tspan x="646.34" y="252.70" textLength="12.22" lengthAdjust="spacingAndGlyphs">−</tspan><tspan x="659.14" y="252.70" textLength="25.59" lengthAdjust="spacingAndGlyphs">3.6</tspan></text>
<text font-size="17.17"><tspan x="646.34" y="173.90" textLength="12.22" lengthAdjust="spacingAndGlyphs">−</tspan><tspan x="659.14" y="173.90" textLength="25.59" lengthAdjust="spacingAndGlyphs">3.4</tspan></text>
<text font-size="17.17"><tspan x="646.34" y="95.10" textLength="12.22" lengthAdjust="spacingAndGlyphs">−</tspan><tspan x="659.14" y="95.10" textLength="25.59" lengthAdjust="spacingAndGlyphs">3.2</tspan></text>
<rect x="133.40" y="97.90" width="182.70" height="80.00" rx="4.6" ry="4.6" fill="#ffffff" fill-opacity="0.8" stroke="#cccccc" stroke-width="1.95"/>
<circle cx="167.30" cy="120.5" r="1.90" fill="#000"/>
<circle cx="167.30" cy="156.4" r="3.25" fill="#ff8c00"/>
<text font-size="25.27"><tspan x="212.10" y="126.30" textLength="94.14" lengthAdjust="spacingAndGlyphs">training</tspan></text>
<text font-size="25.31"><tspan x="212.10" y="162.30" textLength="46.28" lengthAdjust="spacingAndGlyphs">test</tspan></text>
<rect x="720.90" y="97.90" width="182.70" height="80.00" rx="4.6" ry="4.6" fill="#ffffff" fill-opacity="0.8" stroke="#cccccc" stroke-width="1.95"/>
<circle cx="755.40" cy="120.5" r="1.90" fill="#000"/>
<circle cx="755.40" cy="156.4" r="3.25" fill="#ff8c00"/>
<text font-size="25.27"><tspan x="799.40" y="126.30" textLength="94.14" lengthAdjust="spacingAndGlyphs">training</tspan></text>
<text font-size="25.31"><tspan x="799.40" y="162.30" textLength="46.28" lengthAdjust="spacingAndGlyphs">test</tspan></text>
<text font-size="29.45"><tspan x="337.84" y="33.80" textLength="97.26" lengthAdjust="spacingAndGlyphs">Energy</tspan> <tspan x="443.93" y="33.80" textLength="158.31" lengthAdjust="spacingAndGlyphs">distribution</tspan> <tspan x="611.07" y="33.80" textLength="152.26" lengthAdjust="spacingAndGlyphs">(gtinv-725,</tspan> <tspan x="772.16" y="33.80" textLength="90.00" lengthAdjust="spacingAndGlyphs">Ag-La)</tspan></text>
<text font-size="23.64"><tspan x="213.66" y="585.60" textLength="43.23" lengthAdjust="spacingAndGlyphs">DFT</tspan> <tspan x="263.98" y="585.60" textLength="77.70" lengthAdjust="spacingAndGlyphs">energy</tspan> <tspan x="348.77" y="585.60" textLength="111.66" lengthAdjust="spacingAndGlyphs">(eV/atom)</tspan></text>
<text font-size="23.64"><tspan x="801.16" y="585.60" textLength="43.23" lengthAdjust="spacingAndGlyphs">DFT</tspan> <tspan x="851.48" y="585.60" textLength="77.70" lengthAdjust="spacingAndGlyphs">energy</tspan> <tspan x="936.27" y="585.60" textLength="111.66" lengthAdjust="spacingAndGlyphs">(eV/atom)</tspan></text>
<text transform="translate(55.70 303.20) rotate(-90)" font-size="23.64"><tspan x="-124.33" y="0.00" textLength="45.11" lengthAdjust="spacingAndGlyphs">MLP</tspan> <tspan x="-72.13" y="0.00" textLength="77.70" lengthAdjust="spacingAndGlyphs">energy</tspan> <tspan x="12.66" y="0.00" textLength="111.66" lengthAdjust="spacingAndGlyphs">(eV/atom)</tspan></text>
<text transform="translate(628.10 303.20) rotate(-90)" font-size="23.64"><tspan x="-124.33" y="0.00" textLength="45.11" lengthAdjust="spacingAndGlyphs">MLP</tspan> <tspan x="-72.13" y="0.00" textLength="77.70" lengthAdjust="spacingAndGlyphs">energy</tspan> <tspan x="12.66" y="0.00" textLength="111.66" lengthAdjust="spacingAndGlyphs">(eV/atom)</tspan></text>
</svg>
</body></html>
